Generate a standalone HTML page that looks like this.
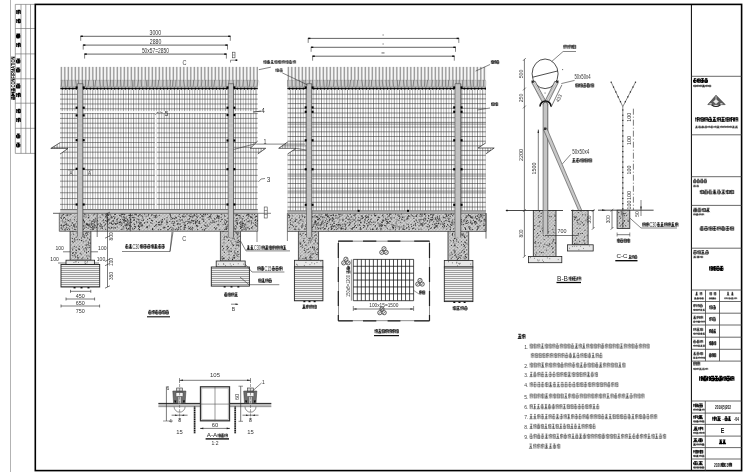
<!DOCTYPE html>
<html><head><meta charset="utf-8"><style>
html,body{margin:0;padding:0;background:#fff;width:750px;height:472px;overflow:hidden}
svg{display:block;will-change:transform}
text{font-family:"Liberation Sans",sans-serif}
</style></head><body>
<svg width="750" height="472" viewBox="0 0 750 472">
<defs>
<pattern id="hatch" patternUnits="userSpaceOnUse" width="2.4" height="2.4" patternTransform="rotate(45)">
 <rect width="2.4" height="2.4" fill="#d2d2d2"/>
 <line x1="0" y1="0" x2="0" y2="2.4" stroke="#767676" stroke-width="0.55"/>
 <line x1="0" y1="0" x2="2.4" y2="0" stroke="#8c8c8c" stroke-width="0.5"/>
</pattern>
<pattern id="gravel" patternUnits="userSpaceOnUse" width="6" height="2">
 <rect width="6" height="2" fill="#f2f2f2"/>
 <rect x="0" y="0" width="6" height="0.8" fill="#8a8a8a"/>
</pattern>

<pattern id="armhatch" patternUnits="userSpaceOnUse" width="1.6" height="1.6" patternTransform="rotate(-30)">
 <rect width="1.6" height="1.6" fill="#ddd"/>
 <line x1="0" y1="0" x2="0" y2="1.6" stroke="#666" stroke-width="0.5"/>
</pattern>
</defs>
<rect width="750" height="472" fill="#fff"/>
<line x1="10.5" y1="0" x2="10.5" y2="472" stroke="#aaa" stroke-width="0.9"/>
<line x1="15.3" y1="4.4" x2="15.3" y2="153.4" stroke="#666" stroke-width="0.6"/>
<line x1="21" y1="4.4" x2="21" y2="153.4" stroke="#666" stroke-width="0.6"/>
<line x1="25.8" y1="4.4" x2="25.8" y2="153.4" stroke="#666" stroke-width="0.6"/>
<line x1="30.5" y1="4.4" x2="30.5" y2="153.4" stroke="#666" stroke-width="0.6"/>
<line x1="15.3" y1="4.4" x2="35.3" y2="4.4" stroke="#666" stroke-width="0.6"/>
<line x1="15.3" y1="28.5" x2="35.3" y2="28.5" stroke="#666" stroke-width="0.6"/>
<line x1="15.3" y1="53.9" x2="35.3" y2="53.9" stroke="#666" stroke-width="0.6"/>
<line x1="15.3" y1="78.8" x2="35.3" y2="78.8" stroke="#666" stroke-width="0.6"/>
<line x1="15.3" y1="103.2" x2="35.3" y2="103.2" stroke="#666" stroke-width="0.6"/>
<line x1="15.3" y1="128.3" x2="35.3" y2="128.3" stroke="#666" stroke-width="0.6"/>
<line x1="15.3" y1="153.4" x2="35.3" y2="153.4" stroke="#666" stroke-width="0.6"/>
<path d="M16.8 9.94V14.06M16.2 11.31H17.49M18.27 9.71V14.29M20.2 10.17V14.06M17.69 10.4H20.2M17.69 12H20.2" stroke="#000" stroke-width="1.17" fill="none" opacity="1.0"/>
<path d="M16.8 18.94V23.06M16.2 20.31H17.72M18.5 18.71V23.29M20.2 19.17V23.06M17.92 19.4H20.2M17.92 21H20.2M17.92 22.6H20.2" stroke="#000" stroke-width="1.17" fill="none" opacity="1.0"/>
<path d="M16.37 34.08H20.13M16.53 35.36H20.01M16.64 36.64H20.15M16.65 37.92H19.44M18.3 33.71V38.29M16.6 35.08V37.83M19.8 35.08V37.83" stroke="#000" stroke-width="1.17" fill="none" opacity="1.0"/>
<path d="M16.8 42.94V47.06M16.2 44.31H17.75M18.53 42.71V47.29M20.2 43.17V47.06M17.95 43.4H20.2M17.95 45H20.2" stroke="#000" stroke-width="1.17" fill="none" opacity="1.0"/>
<path d="M16.65 59.08H20.09M16.54 61H19.77M16.66 62.92H19.75M18.35 58.71V63.29M16.6 60.08V62.83M19.8 60.08V62.83" stroke="#000" stroke-width="1.17" fill="none" opacity="1.0"/>
<path d="M16.5 68.08H19.76M16.25 70H20.15M16.36 71.92H19.66M18.14 67.71V72.29M16.6 69.08V71.83M19.8 69.08V71.83" stroke="#000" stroke-width="1.17" fill="none" opacity="1.0"/>
<path d="M16.49 84.08H20M16.34 86H19.58M16.27 87.92H19.96M18.2 83.71V88.29M16.6 85.08V87.83M19.8 85.08V87.83" stroke="#000" stroke-width="1.17" fill="none" opacity="1.0"/>
<path d="M16.8 92.94V97.06M16.2 94.31H17.77M18.55 92.71V97.29M20.2 93.17V97.06M17.97 93.4H20.2M17.97 95H20.2" stroke="#000" stroke-width="1.17" fill="none" opacity="1.0"/>
<path d="M16.8 108.94V113.06M16.2 110.31H17.65M18.43 108.71V113.29M20.2 109.17V113.06M17.85 109.4H20.2M17.85 111H20.2M17.85 112.6H20.2" stroke="#000" stroke-width="1.17" fill="none" opacity="1.0"/>
<path d="M16.8 117.94V122.06M16.2 119.31H17.69M18.48 117.71V122.29M20.2 118.17V122.06M17.89 118.4H20.2M17.89 120H20.2" stroke="#000" stroke-width="1.17" fill="none" opacity="1.0"/>
<path d="M16.81 134.08H19.74M16.9 136H19.95M16.76 137.92H19.72M18.26 133.71V138.29M16.6 135.08V137.83M19.8 135.08V137.83" stroke="#000" stroke-width="1.17" fill="none" opacity="1.0"/>
<path d="M16.58 143.08H19.67M16.25 145H19.64M16.72 146.92H19.41M18.46 142.71V147.29M16.6 144.08V146.83M19.8 144.08V146.83" stroke="#000" stroke-width="1.17" fill="none" opacity="1.0"/>
<path d="M11.74 88.42V91.58M11.2 89.47H12.62M13.27 88.24V91.76M14.8 88.59V91.58M12.82 88.77H14.8M12.82 90H14.8M11.32 92.52H14.72M11.24 94H14.25M11.29 95.48H14.62M12.92 92.24V95.76M13 94L11.2 95.76M13 94L14.8 95.76M11.74 96.42V99.58M11.2 97.47H12.5M13.15 96.24V99.76M14.8 96.59V99.58M12.7 96.77H14.8M12.7 98H14.8M12.7 99.23H14.8" stroke="#000" stroke-width="0.9" fill="none" opacity="1.0"/>
<text x="14.8" y="72" font-size="5" text-anchor="middle" fill="#000" font-weight="bold" textLength="31" lengthAdjust="spacingAndGlyphs" transform="rotate(-90 14.8 72)" opacity="0.999">CONFIRMATION</text>
<rect x="35.3" y="4.4" width="706.3" height="466.2" fill="none" stroke="#000" stroke-width="1.6"/>
<line x1="691.4" y1="4.4" x2="691.4" y2="470.6" stroke="#000" stroke-width="1"/>
<line x1="691.4" y1="76.3" x2="741.6" y2="76.3" stroke="#444" stroke-width="0.8"/>
<line x1="691.4" y1="134.8" x2="741.6" y2="134.8" stroke="#444" stroke-width="0.8"/>
<line x1="691.4" y1="176.7" x2="741.6" y2="176.7" stroke="#444" stroke-width="0.8"/>
<line x1="691.4" y1="205.4" x2="741.6" y2="205.4" stroke="#444" stroke-width="0.8"/>
<line x1="691.4" y1="248.2" x2="741.6" y2="248.2" stroke="#444" stroke-width="0.8"/>
<line x1="691.4" y1="290" x2="741.6" y2="290" stroke="#444" stroke-width="0.8"/>
<line x1="691.4" y1="301.5" x2="741.6" y2="301.5" stroke="#444" stroke-width="0.8"/>
<line x1="691.4" y1="313.2" x2="741.6" y2="313.2" stroke="#444" stroke-width="0.8"/>
<line x1="691.4" y1="325" x2="741.6" y2="325" stroke="#444" stroke-width="0.8"/>
<line x1="691.4" y1="337.2" x2="741.6" y2="337.2" stroke="#444" stroke-width="0.8"/>
<line x1="691.4" y1="349.3" x2="741.6" y2="349.3" stroke="#444" stroke-width="0.8"/>
<line x1="691.4" y1="361.1" x2="741.6" y2="361.1" stroke="#444" stroke-width="0.8"/>
<line x1="691.4" y1="401" x2="741.6" y2="401" stroke="#444" stroke-width="0.8"/>
<line x1="691.4" y1="413.1" x2="741.6" y2="413.1" stroke="#444" stroke-width="0.8"/>
<line x1="691.4" y1="424.4" x2="741.6" y2="424.4" stroke="#444" stroke-width="0.8"/>
<line x1="691.4" y1="436.1" x2="741.6" y2="436.1" stroke="#444" stroke-width="0.8"/>
<line x1="691.4" y1="447.6" x2="741.6" y2="447.6" stroke="#444" stroke-width="0.8"/>
<line x1="691.4" y1="459" x2="741.6" y2="459" stroke="#444" stroke-width="0.8"/>
<line x1="705.5" y1="290" x2="705.5" y2="361.1" stroke="#444" stroke-width="0.8"/>
<line x1="719.5" y1="290" x2="719.5" y2="361.1" stroke="#444" stroke-width="0.8"/>
<line x1="705.3" y1="401" x2="705.3" y2="470.6" stroke="#444" stroke-width="0.8"/>
<path d="M693.8 78.75H696.34M693.5 80.6H696.29M693.81 82.45H695.89M694.64 78.4V82.8M693.56 79.72V82.36M696.2 79.72V82.36M697.47 78.62V82.58M696.98 79.94H698.05M698.73 78.4V82.8M700.27 78.84V82.58M698.25 79.06H700.27M698.25 80.6H700.27M698.25 82.14H700.27M700.9 78.75H704.02M701 80.6H703.78M701.1 82.45H703.4M702.5 78.4V82.8M701.06 79.72V82.36M703.7 79.72V82.36M704.96 78.75H707.47M705.05 79.98H707.15M704.92 81.22H707.41M704.74 82.45H707.51M706.11 78.4V82.8M704.81 79.72V82.36M707.45 79.72V82.36" stroke="#000" stroke-width="0.97" fill="none" opacity="1.0"/>
<path d="M693.58 85.01V86.99M693.18 85.67H694.29M694.74 84.9V87.1M695.82 85.12V86.99M694.49 85.23H695.82M694.49 86H695.82M694.49 86.77H695.82M696.58 85.01V86.99M696.18 85.67H697.04M697.49 84.9V87.1M698.82 85.12V86.99M697.24 85.23H698.82M697.24 86H698.82M699.58 85.01V86.99M699.18 85.67H700.13M700.58 84.9V87.1M701.82 85.12V86.99M700.33 85.23H701.82M700.33 86H701.82M702.19 85.08H704.36M702.5 85.69H704.74M702.31 86.31H704.64M702.37 86.92H704.76M703.68 84.9V87.1M703.5 86L702.18 87.1M703.5 86L704.82 87.1M705.58 85.01V86.99M705.18 85.67H706.1M706.55 84.9V87.1M707.82 85.12V86.99M706.3 85.23H707.82M706.3 86H707.82M708.58 85.01V86.99M708.18 85.67H709.2M709.65 84.9V87.1M710.82 85.12V86.99M709.4 85.23H710.82M709.4 86H710.82M709.4 86.77H710.82" stroke="#000" stroke-width="0.5" fill="none" opacity="0.9"/>
<polygon points="716,95.2 725.2,104.6 707.8,104.6" fill="#5a5a5a" stroke="#333" stroke-width="0.6"/>
<polygon points="713.2,101.5 716,99.2 718.8,101.5 716,104" fill="#e8e8e8" stroke="none" stroke-width="0.8"/>
<line x1="716" y1="96.2" x2="716" y2="100" stroke="#ddd" stroke-width="0.8"/>
<path d="M711.5 104.8 Q716 108.2 720.5 104.8" fill="none" stroke="#222" stroke-width="1.2"/>
<rect x="709.5" y="103.2" width="2.2" height="1.2" fill="#ddd" stroke="none" stroke-width="0.8"/>
<rect x="720.3" y="103.2" width="2.2" height="1.2" fill="#ddd" stroke="none" stroke-width="0.8"/>
<path d="M695.8 117.24V121.56M695.22 118.68H696.77M697.4 117V121.8M699.09 117.48V121.56M696.97 117.72H699.09M696.97 119.4H699.09M700.1 117.24V121.56M699.51 118.68H701.22M701.85 117V121.8M703.38 117.48V121.56M701.42 117.72H703.38M701.42 119.4H703.38M701.42 121.08H703.38M704.4 117.24V121.56M703.82 118.68H705.28M705.91 117V121.8M707.69 117.48V121.56M705.48 117.72H707.69M705.48 119.4H707.69M708.87 117.38H711.32M708.65 119.4H711.78M708.4 121.42H711.86M710.26 117V121.8M708.5 118.44V121.32M711.6 118.44V121.32M712.91 117.38H715.81M713.03 119.4H715.7M712.57 121.42H716.1M714.27 117V121.8M714.35 119.4L712.42 121.8M714.35 119.4L716.29 121.8M717.3 117.24V121.56M716.72 118.68H718.16M718.78 117V121.8M720.59 117.48V121.56M718.36 117.72H720.59M718.36 119.4H720.59M721.38 117.38H724.74M721.48 119.4H724.62M721.64 121.42H724.33M722.83 117V121.8M722.95 119.4L721.01 121.8M722.95 119.4L724.88 121.8M725.9 117.24V121.56M725.32 118.68H726.53M727.16 117V121.8M729.19 117.48V121.56M726.73 117.72H729.19M726.73 119.4H729.19M726.73 121.08H729.19M730.2 117.24V121.56M729.62 118.68H730.89M731.52 117V121.8M733.49 117.48V121.56M731.09 117.72H733.49M731.09 119.4H733.49M734.5 117.24V121.56M733.92 118.68H735.45M736.08 117V121.8M737.79 117.48V121.56M735.65 117.72H737.79M735.65 119.4H737.79" stroke="#000" stroke-width="0.86" fill="none" opacity="1.0"/>
<path d="M695.68 126.08H697.46M695.59 127H697.63M695.28 127.92H697.46M696.45 125.9V128.1M696.54 127L695.18 128.1M696.54 127L697.89 128.1M698.51 126.08H700.56M698.3 127H700.87M698.79 127.92H700.94M699.66 125.9V128.1M698.53 126.56V127.88M700.69 126.56V127.88M701.77 126.08H703.5M701.68 126.69H703.84M701.62 127.31H703.96M701.33 127.92H703.51M702.76 125.9V128.1M701.6 126.56V127.88M703.76 126.56V127.88M704.93 126.08H707M704.87 127H707.09M704.51 127.92H706.83M705.89 125.9V128.1M704.67 126.56V127.88M706.83 126.56V127.88M707.88 126.01V127.99M707.47 126.67H708.55M709 125.9V128.1M710.17 126.12V127.99M708.75 126.23H710.17M708.75 127H710.17M711.03 126.08H712.89M710.98 127H712.96M710.99 127.92H712.77M711.69 125.9V128.1M710.81 126.56V127.88M712.97 126.56V127.88M714.02 126.01V127.99M713.61 126.67H714.71M715.16 125.9V128.1M716.32 126.12V127.99M714.91 126.23H716.32M714.91 127H716.32M716.78 126.08H719.13M717.08 127H719.09M716.86 127.92H719.11M718.07 125.9V128.1M718.04 127L716.68 128.1M718.04 127L719.39 128.1M720.16 126.01V127.99M719.76 126.67H720.73M721.18 125.9V128.1M722.46 126.12V127.99M720.93 126.23H722.46M720.93 127H722.46M723.23 126.01V127.99M722.83 126.67H723.59M724.04 125.9V128.1M725.53 126.12V127.99M723.79 126.23H725.53M723.79 127H725.53M726.3 126.01V127.99M725.9 126.67H726.87M727.32 125.9V128.1M728.6 126.12V127.99M727.07 126.23H728.6M727.07 127H728.6M729.38 126.01V127.99M728.97 126.67H729.96M730.41 125.9V128.1M731.67 126.12V127.99M730.16 126.23H731.67M730.16 127H731.67M732.32 126.08H734.31M732.32 127H734.61M732.32 127.92H734.27M733.62 125.9V128.1M733.39 127L732.04 128.1M733.39 127L734.74 128.1M735.57 126.08H737.74M735.18 127H737.58M735.15 127.92H737.69M736.23 125.9V128.1M736.46 127L735.11 128.1M736.46 127L737.82 128.1" stroke="#000" stroke-width="0.5" fill="none" opacity="0.85"/>
<path d="M693.79 179.24H695.89M693.44 181H696.13M693.29 182.76H696M694.9 178.9V183.1M693.52 180.16V182.68M695.98 180.16V182.68M697.32 179.24H699.28M696.81 181H699.52M697.03 182.76H699.58M698.06 178.9V183.1M697.02 180.16V182.68M699.48 180.16V182.68M700.42 179.24H703.01M700.64 181H703.05M700.53 182.76H703.11M702.03 178.9V183.1M700.52 180.16V182.68M702.98 180.16V182.68M704.31 179.24H706.73M703.87 181H706.77M704.19 182.76H706.62M705.02 178.9V183.1M704.02 180.16V182.68M706.48 180.16V182.68" stroke="#000" stroke-width="0.61" fill="none" opacity="1.0"/>
<path d="M693.39 185.16H695.54M693.45 186H695.56M693.35 186.84H695.67M694.66 185V187M693.44 185.6V186.8M695.56 185.6V186.8M696.68 185.16H698.49M696.6 186H698.78M696.63 186.84H698.78M697.69 185V187M696.44 185.6V186.8M698.56 185.6V186.8" stroke="#000" stroke-width="0.5" fill="none" opacity="0.8"/>
<path d="M700.33 190.02V193.98M699.76 191.34H701.2M701.72 189.8V194.2M703.55 190.24V193.98M701.4 190.46H703.55M701.4 192H703.55M701.4 193.54H703.55M704.47 190.15H707.69M704.15 192H707.74M704.11 193.85H707.71M705.83 189.8V194.2M704.45 191.12V193.76M707.49 191.12V193.76M708.72 190.15H711.67M708.59 192H711.57M709.14 193.85H712.15M709.92 189.8V194.2M708.76 191.12V193.76M711.8 191.12V193.76M713.06 190.15H715.78M712.78 191.38H715.87M713.02 192.62H716.12M713.33 193.85H716.19M714.6 189.8V194.2M714.59 192L712.7 194.2M714.59 192L716.49 194.2M717.16 190.15H720.13M717.56 192H720.7M717.76 193.85H720.06M719.16 189.8V194.2M717.39 191.12V193.76M720.42 191.12V193.76M721.65 190.15H725.07M721.83 192H724.83M721.71 193.85H724.38M723.29 189.8V194.2M723.22 192L721.32 194.2M723.22 192L725.12 194.2M726.2 190.02V193.98M725.63 191.34H726.87M727.39 189.8V194.2M729.43 190.24V193.98M727.07 190.46H729.43M727.07 192H729.43M727.07 193.54H729.43M730.52 190.02V193.98M729.95 191.34H731.22M731.74 189.8V194.2M733.74 190.24V193.98M731.42 190.46H733.74M731.42 192H733.74M731.42 193.54H733.74" stroke="#000" stroke-width="0.64" fill="none" opacity="1.0"/>
<path d="M693.5 208.24H696.97M693.92 209.41H696.83M693.39 210.59H696.74M693.32 211.76H696.79M695.24 207.9V212.1M693.63 209.16V211.68M696.62 209.16V211.68M697.7 208.24H701.18M697.8 210H701.21M697.52 211.76H701.02M699.18 207.9V212.1M697.88 209.16V211.68M700.87 209.16V211.68M702.32 208.11V211.89M701.75 209.37H703.29M703.79 207.9V212.1M705.5 208.32V211.89M703.49 208.53H705.5M703.49 210H705.5M703.49 211.47H705.5M706.74 208.24H709.63M706.55 209.41H709.26M706.04 210.59H709.12M706.67 211.76H709.28M708.05 207.9V212.1M707.88 210L706 212.1M707.88 210L709.75 212.1" stroke="#000" stroke-width="0.61" fill="none" opacity="1.0"/>
<path d="M693.53 213.6V215.4M693.16 214.2H694M694.45 213.5V215.5M695.58 213.7V215.4M694.2 213.8H695.58M694.2 214.5H695.58M696.3 213.66H697.99M696.38 214.22H698.02M695.96 214.78H698.31M696.22 215.34H697.87M697.07 213.5V215.5M696.16 214.1V215.3M698.09 214.1V215.3M699.03 213.6V215.4M698.66 214.2H699.32M699.77 213.5V215.5M701.08 213.7V215.4M699.52 213.8H701.08M699.52 214.5H701.08M701.78 213.6V215.4M701.41 214.2H702.06M702.51 213.5V215.5M703.83 213.7V215.4M702.26 213.8H703.83M702.26 214.5H703.83" stroke="#000" stroke-width="0.5" fill="none" opacity="0.8"/>
<path d="M700.44 226.65H703.48M700.16 227.88H702.99M700.12 229.12H702.94M700.4 230.35H703.38M701.85 226.3V230.7M700.14 227.62V230.26M703.17 227.62V230.26M704.45 226.65H707.58M704.43 228.5H707.35M704.65 230.35H707.4M706.08 226.3V230.7M704.45 227.62V230.26M707.49 227.62V230.26M708.95 226.52V230.48M708.38 227.84H709.66M710.17 226.3V230.7M712.18 226.74V230.48M709.86 226.96H712.18M709.86 228.5H712.18M709.86 230.04H712.18M712.71 226.65H716.45M712.9 228.5H715.98M713.22 230.35H715.98M714.44 226.3V230.7M713.08 227.62V230.26M716.11 227.62V230.26M717.58 226.52V230.48M717.01 227.84H718.4M718.92 226.3V230.7M720.8 226.74V230.48M718.6 226.96H720.8M718.6 228.5H720.8M721.47 226.65H724.37M722.03 227.88H725.1M721.67 229.12H724.49M722.06 230.35H724.78M723.04 226.3V230.7M721.7 227.62V230.26M724.74 227.62V230.26M725.69 226.65H729.36M726.2 228.5H729.23M725.91 230.35H728.97M727.63 226.3V230.7M726.01 227.62V230.26M729.05 227.62V230.26M730.52 226.52V230.48M729.95 227.84H731.28M731.8 226.3V230.7M733.74 226.74V230.48M731.48 226.96H733.74M731.48 228.5H733.74M731.48 230.04H733.74" stroke="#000" stroke-width="0.64" fill="none" opacity="1.0"/>
<path d="M693.52 250.54H696.65M693.91 252.3H696.28M693.53 254.06H696.25M694.94 250.2V254.4M693.59 251.46V253.98M696.41 251.46V253.98M697.77 250.41V254.19M697.24 251.67H698.45M698.95 250.2V254.4M700.76 250.62V254.19M698.65 250.83H700.76M698.65 252.3H700.76M698.65 253.77H700.76M701.32 250.54H704.11M701.74 252.3H704.13M701.44 254.06H704.5M702.92 250.2V254.4M703 252.3L701.24 254.4M703 252.3L704.76 254.4M705.89 250.54H708.23M705.84 252.3H708.56M705.28 254.06H708.29M707.1 250.2V254.4M705.59 251.46V253.98M708.41 251.46V253.98" stroke="#000" stroke-width="0.61" fill="none" opacity="1.0"/>
<path d="M693.5 256.16H696.02M693.42 257H695.57M693.72 257.84H695.66M694.74 256V258M694.67 257L693.2 258M694.67 257L696.13 258M696.65 256.16H699.42M697.08 256.72H699.23M696.89 257.28H699.39M697.04 257.84H699.18M698.24 256V258M696.83 256.6V257.8M699.17 256.6V257.8M700.31 256.1V257.9M699.87 256.7H700.88M701.33 256V258M702.8 256.2V257.9M701.08 256.3H702.8M701.08 257H702.8M701.08 257.7H702.8" stroke="#000" stroke-width="0.5" fill="none" opacity="0.8"/>
<path d="M709.7 266.24V270.56M709.22 267.68H710.49M711.18 266V270.8M712.41 266.48V270.56M710.69 266.72H712.41M710.69 268.4H712.41M710.69 270.08H712.41M713.32 266.24V270.56M712.84 267.68H713.87M714.56 266V270.8M716.03 266.48V270.56M714.07 266.72H716.03M714.07 268.4H716.03M714.07 270.08H716.03M716.54 266.38H719.25M716.52 268.4H719.34M716.99 270.42H719.31M718.03 266V270.8M716.79 267.44V270.32M719.34 267.44V270.32M720.18 266.38H723.16M720.15 268.4H723.06M720.15 270.42H723.13M721.53 266V270.8M720.41 267.44V270.32M722.96 267.44V270.32" stroke="#000" stroke-width="0.98" fill="none" opacity="1.0"/>
<path d="M695.93 292.27H697.52M695.88 293.22H697.6M695.68 294.18H697.37M695.77 295.13H697.44M696.57 292V295.4M696.62 293.7L695.56 295.4M696.62 293.7L697.69 295.4M700.13 292.17V295.23M699.81 293.19H700.61M701.06 292V295.4M701.94 292.34V295.23M700.81 292.51H701.94M700.81 293.7H701.94" stroke="#000" stroke-width="0.5" fill="none" opacity="1.0"/>
<path d="M709.88 292.17V295.23M709.56 293.19H710.39M710.84 292V295.4M711.69 292.34V295.23M710.59 292.51H711.69M710.59 293.7H711.69M710.59 294.89H711.69M714.13 292.17V295.23M713.81 293.19H714.5M714.95 292V295.4M715.94 292.34V295.23M714.7 292.51H715.94M714.7 293.7H715.94M714.7 294.89H715.94" stroke="#000" stroke-width="0.5" fill="none" opacity="1.0"/>
<path d="M727.12 292.27H729.01M727.39 293.7H728.85M727.47 295.13H728.98M727.94 292V295.4M728.12 293.7L727.06 295.4M728.12 293.7L729.19 295.4M731.68 292.27H733.02M731.42 293.22H733.39M731.38 294.18H733.22M731.6 295.13H733.04M732.47 292V295.4M732.38 293.7L731.31 295.4M732.38 293.7L733.44 295.4" stroke="#000" stroke-width="0.5" fill="none" opacity="1.0"/>
<path d="M694.19 297.64H696.01M694.15 298.4H696.29M694.4 299.16H696.33M695.34 297.5V299.3M695.25 298.4L694.15 299.3M695.25 298.4L696.35 299.3M696.93 297.64H698.54M696.7 298.15H698.82M696.88 298.65H698.59M696.82 299.16H698.75M697.79 297.5V299.3M696.87 298.04V299.12M698.63 298.04V299.12M699.48 297.59V299.21M699.15 298.13H699.87M700.32 297.5V299.3M701.35 297.68V299.21M700.07 297.77H701.35M700.07 298.4H701.35M700.07 299.03H701.35M701.86 297.64H703.75M701.76 298.4H703.43M701.96 299.16H703.71M702.54 297.5V299.3M701.87 298.04V299.12M703.63 298.04V299.12" stroke="#000" stroke-width="0.5" fill="none" opacity="0.8"/>
<path d="M709.13 297.64H710.57M709.24 298.4H710.53M709.26 299.16H710.43M709.94 297.5V299.3M709.26 298.04V299.12M710.49 298.04V299.12M711.09 297.59V299.21M710.86 298.13H711.2M711.65 297.5V299.3M712.39 297.68V299.21M711.4 297.77H712.39M711.4 298.4H712.39M711.4 299.03H712.39M712.63 297.64H713.99M712.67 298.15H713.91M712.66 298.65H714M712.69 299.16H713.87M713.25 297.5V299.3M713.38 298.4L712.61 299.3M713.38 298.4L714.14 299.3M714.5 297.64H715.61M714.37 298.4H715.71M714.64 299.16H715.88M714.98 297.5V299.3M714.51 298.04V299.12M715.74 298.04V299.12" stroke="#000" stroke-width="0.5" fill="none" opacity="0.8"/>
<path d="M724.62 297.59V299.21M724.2 298.13H725.3M725.75 297.5V299.3M727.06 297.68V299.21M725.5 297.77H727.06M725.5 298.4H727.06M727.87 297.59V299.21M727.45 298.13H728.63M729.08 297.5V299.3M730.31 297.68V299.21M728.83 297.77H730.31M728.83 298.4H730.31M728.83 299.03H730.31M731.23 297.64H733.37M730.8 298.4H733.02M731.12 299.16H733.54M732.22 297.5V299.3M730.98 298.04V299.12M733.27 298.04V299.12M734.37 297.59V299.21M733.95 298.13H734.89M735.34 297.5V299.3M736.81 297.68V299.21M735.09 297.77H736.81M735.09 298.4H736.81" stroke="#000" stroke-width="0.5" fill="none" opacity="0.8"/>
<path d="M693.64 304.26V307.14M693.2 305.22H694.06M694.51 304.1V307.3M696.13 304.42V307.14M694.26 304.58H696.13M694.26 305.7H696.13M696.97 304.26V307.14M696.53 305.22H697.78M698.23 304.1V307.3M699.47 304.42V307.14M697.98 304.58H699.47M697.98 305.7H699.47M700.09 304.36H702.35M700.05 305.7H702.33M699.92 307.04H702.39M701.15 304.1V307.3M700.16 305.06V306.98M702.51 305.06V306.98" stroke="#000" stroke-width="0.5" fill="none" opacity="1.0"/>
<path d="M693.46 309.09V310.71M693.14 309.63H693.79M694.24 309V310.8M695.26 309.18V310.71M693.99 309.27H695.26M693.99 309.9H695.26M693.99 310.53H695.26M695.86 309.09V310.71M695.54 309.63H696.21M696.66 309V310.8M697.66 309.18V310.71M696.41 309.27H697.66M696.41 309.9H697.66M696.41 310.53H697.66M698.26 309.09V310.71M697.94 309.63H698.49M698.94 309V310.8M700.06 309.18V310.71M698.69 309.27H700.06M698.69 309.9H700.06M700.45 309.14H702.14M700.72 309.9H702.31M700.46 310.66H702.05M701.45 309V310.8M700.56 309.54V310.62M702.24 309.54V310.62M703.13 309.14H704.73M703.05 309.9H704.6M703.08 310.66H704.46M703.62 309V310.8M703.8 309.9L702.74 310.8M703.8 309.9L704.86 310.8" stroke="#000" stroke-width="0.5" fill="none" opacity="0.8"/>
<path d="M709.67 305.41V309.19M709.21 306.67H710.42M710.92 305.2V309.4M712.29 305.62V309.19M710.62 305.83H712.29M710.62 307.3H712.29M710.62 308.77H712.29M713.2 305.54H715.23M713.21 307.3H715.71M713.02 309.06H715.78M714.52 305.2V309.4M713.02 306.46V308.98M715.48 306.46V308.98" stroke="#000" stroke-width="0.61" fill="none" opacity="1.0"/>
<path d="M693.56 316.16H695.94M693.39 317.5H695.92M693.66 318.84H696.09M694.49 315.9V319.1M694.67 317.5L693.2 319.1M694.67 317.5L696.13 319.1M696.97 316.06V318.94M696.53 317.02H697.39M697.84 315.9V319.1M699.47 316.22V318.94M697.59 316.38H699.47M697.59 317.5H699.47M700.31 316.06V318.94M699.87 317.02H700.93M701.38 315.9V319.1M702.8 316.22V318.94M701.13 316.38H702.8M701.13 317.5H702.8" stroke="#000" stroke-width="0.5" fill="none" opacity="1.0"/>
<path d="M693.56 320.94H695.14M693.18 321.7H695.22M693.35 322.46H694.96M694.18 320.8V322.6M693.36 321.34V322.42M695.04 321.34V322.42M695.86 320.89V322.51M695.54 321.43H696.28M696.73 320.8V322.6M697.66 320.98V322.51M696.48 321.07H697.66M696.48 321.7H697.66M698.26 320.94H699.73M698.07 321.45H699.94M698.06 321.95H699.95M698.05 322.46H699.87M698.87 320.8V322.6M698.16 321.34V322.42M699.84 321.34V322.42M700.66 320.89V322.51M700.34 321.43H701.17M701.62 320.8V322.6M702.46 320.98V322.51M701.37 321.07H702.46M701.37 321.7H702.46M703.06 320.89V322.51M702.74 321.43H703.41M703.86 320.8V322.6M704.86 320.98V322.51M703.61 321.07H704.86M703.61 321.7H704.86" stroke="#000" stroke-width="0.5" fill="none" opacity="0.8"/>
<path d="M709.67 317.21V320.99M709.21 318.47H710.19M710.7 317V321.2M712.29 317.42V320.99M710.39 317.63H712.29M710.39 319.1H712.29M712.77 317.34H715.5M713.21 319.1H715.27M713.27 320.86H715.77M714.12 317V321.2M713.02 318.26V320.78M715.48 318.26V320.78" stroke="#000" stroke-width="0.61" fill="none" opacity="1.0"/>
<path d="M693.64 328.06V330.94M693.2 329.02H694.45M694.9 327.9V331.1M696.13 328.22V330.94M694.65 328.38H696.13M694.65 329.5H696.13M696.83 328.16H699.36M696.89 329.5H699.01M696.92 330.84H699.46M698.08 327.9V331.1M698 329.5L696.53 331.1M698 329.5L699.47 331.1M700.31 328.06V330.94M699.87 329.02H700.71M701.16 327.9V331.1M702.8 328.22V330.94M700.91 328.38H702.8M700.91 329.5H702.8M700.91 330.62H702.8" stroke="#000" stroke-width="0.5" fill="none" opacity="1.0"/>
<path d="M693.46 332.89V334.51M693.14 333.43H693.75M694.2 332.8V334.6M695.26 332.98V334.51M693.95 333.07H695.26M693.95 333.7H695.26M693.95 334.33H695.26M695.86 332.89V334.51M695.54 333.43H696.32M696.77 332.8V334.6M697.66 332.98V334.51M696.52 333.07H697.66M696.52 333.7H697.66M698.12 332.94H699.9M698.21 333.7H700.02M697.96 334.46H699.85M698.99 332.8V334.6M698.16 333.34V334.42M699.84 333.34V334.42M700.58 332.94H702.19M700.38 333.45H702.39M700.64 333.95H702.28M700.46 334.46H702.33M701.59 332.8V334.6M700.56 333.34V334.42M702.24 333.34V334.42M702.92 332.94H704.85M703.07 333.7H704.52M703.02 334.46H704.69M703.76 332.8V334.6M703.8 333.7L702.74 334.6M703.8 333.7L704.86 334.6" stroke="#000" stroke-width="0.5" fill="none" opacity="0.8"/>
<path d="M709.45 329.21V332.99M709.14 330.47H709.71M710.21 329V333.2M711.19 329.42V332.99M709.91 329.63H711.19M709.91 331.1H711.19M711.71 329.34H713.38M711.79 331.1H713.47M711.49 332.86H713.47M712.63 329V333.2M711.68 330.26V332.78M713.32 330.26V332.78M714.11 329.34H715.79M713.95 331.1H715.79M713.88 332.86H715.83M714.79 329V333.2M714.83 331.1L713.81 333.2M714.83 331.1L715.86 333.2" stroke="#000" stroke-width="0.61" fill="none" opacity="1.0"/>
<path d="M693.38 340.26H695.64M693.23 341.6H695.6M693.38 342.94H695.78M694.75 340V343.2M693.49 340.96V342.88M695.84 340.96V342.88M697.02 340.26H699.37M696.99 341.15H699.34M696.77 342.05H698.97M697.02 342.94H699.36M697.83 340V343.2M696.83 340.96V342.88M699.17 340.96V342.88M700.31 340.16V343.04M699.87 341.12H700.86M701.31 340V343.2M702.8 340.32V343.04M701.06 340.48H702.8M701.06 341.6H702.8" stroke="#000" stroke-width="0.5" fill="none" opacity="1.0"/>
<path d="M693.46 344.99V346.61M693.14 345.53H693.99M694.44 344.9V346.7M695.26 345.08V346.61M694.19 345.17H695.26M694.19 345.8H695.26M695.86 344.99V346.61M695.54 345.53H696.26M696.71 344.9V346.7M697.66 345.08V346.61M696.46 345.17H697.66M696.46 345.8H697.66M697.99 345.04H699.8M698.18 345.8H699.79M698.07 346.56H699.88M699.03 344.9V346.7M698.16 345.44V346.52M699.84 345.44V346.52M700.56 345.04H702.38M700.35 345.8H702.04M700.54 346.56H702.27M701.45 344.9V346.7M701.4 345.8L700.34 346.7M701.4 345.8L702.46 346.7M702.91 345.04H704.83M702.9 345.8H704.7M703.08 346.56H704.64M703.87 344.9V346.7M702.96 345.44V346.52M704.64 345.44V346.52" stroke="#000" stroke-width="0.5" fill="none" opacity="0.8"/>
<path d="M709.45 341.31V345.09M709.14 342.57H709.94M710.45 341.1V345.3M711.19 341.52V345.09M710.14 341.73H711.19M710.14 343.2H711.19M710.14 344.67H711.19M711.51 341.44H713.22M711.84 342.61H713.26M711.8 343.79H713.52M711.5 344.96H713.27M712.58 341.1V345.3M711.68 342.36V344.88M713.32 342.36V344.88M714.11 341.31V345.09M713.81 342.57H714.6M715.1 341.1V345.3M715.86 341.52V345.09M714.8 341.73H715.86M714.8 343.2H715.86M714.8 344.67H715.86" stroke="#000" stroke-width="0.61" fill="none" opacity="1.0"/>
<path d="M693.6 352.26H695.71M693.33 353.6H695.64M693.56 354.94H695.99M694.56 352V355.2M694.67 353.6L693.2 355.2M694.67 353.6L696.13 355.2M696.62 352.26H699.17M697.07 353.6H699.34M696.69 354.94H699.17M697.89 352V355.2M696.83 352.96V354.88M699.17 352.96V354.88M700.31 352.16V355.04M699.87 353.12H700.76M701.21 352V355.2M702.8 352.32V355.04M700.96 352.48H702.8M700.96 353.6H702.8M700.96 354.72H702.8" stroke="#000" stroke-width="0.5" fill="none" opacity="1.0"/>
<path d="M693.22 357.04H694.92M693.19 357.8H695.03M693.41 358.56H695.1M694.36 356.9V358.7M693.36 357.44V358.52M695.04 357.44V358.52M695.65 357.04H697.43M695.91 357.8H697.34M695.7 358.56H697.5M696.54 356.9V358.7M695.76 357.44V358.52M697.44 357.44V358.52M698.26 356.99V358.61M697.94 357.53H698.51M698.96 356.9V358.7M700.06 357.08V358.61M698.71 357.17H700.06M698.71 357.8H700.06M700.66 356.99V358.61M700.34 357.53H701.12M701.57 356.9V358.7M702.46 357.08V358.61M701.32 357.17H702.46M701.32 357.8H702.46M703.06 356.99V358.61M702.74 357.53H703.45M703.9 356.9V358.7M704.86 357.08V358.61M703.65 357.17H704.86M703.65 357.8H704.86M703.65 358.43H704.86" stroke="#000" stroke-width="0.5" fill="none" opacity="0.8"/>
<path d="M709.52 353.44H710.83M709.44 354.61H710.89M709.23 355.79H711.07M709.4 356.96H711.02M710.11 353.1V357.3M709.35 354.36V356.88M710.99 354.36V356.88M711.78 353.31V357.09M711.47 354.57H712.18M712.68 353.1V357.3M713.53 353.52V357.09M712.38 353.73H713.53M712.38 355.2H713.53M714.11 353.31V357.09M713.81 354.57H714.33M714.83 353.1V357.3M715.86 353.52V357.09M714.53 353.73H715.86M714.53 355.2H715.86M714.53 356.67H715.86" stroke="#000" stroke-width="0.61" fill="none" opacity="1.0"/>
<path d="M693.67 361.81V365.59M693.21 363.07H694.33M694.83 361.6V365.8M696.29 362.02V365.59M694.53 362.23H696.29M694.53 363.7H696.29M697.17 361.81V365.59M696.71 363.07H697.73M698.23 361.6V365.8M699.79 362.02V365.59M697.93 362.23H699.79M697.93 363.7H699.79" stroke="#000" stroke-width="0.61" fill="none" opacity="1.0"/>
<path d="M693.58 368.1V369.9M693.18 368.7H694.15M694.6 368V370M695.82 368.2V369.9M694.35 368.3H695.82M694.35 369H695.82M694.35 369.7H695.82M696.58 368.1V369.9M696.18 368.7H696.91M697.36 368V370M698.82 368.2V369.9M697.11 368.3H698.82M697.11 369H698.82M699.23 368.16H701.48M699.64 369H701.41M699.39 369.84H701.68M700.24 368V370M700.5 369L699.18 370M700.5 369L701.82 370M702.49 368.16H704.51M702.5 369H704.55M702.44 369.84H704.73M703.24 368V370M702.44 368.6V369.8M704.56 368.6V369.8M705.58 368.1V369.9M705.18 368.7H705.98M706.43 368V370M707.82 368.2V369.9M706.18 368.3H707.82M706.18 369H707.82" stroke="#000" stroke-width="0.5" fill="none" opacity="0.8"/>
<path d="M699.66 376.25V380.75M699.12 377.75H700.62M701.38 376V381M702.77 376.5V380.75M700.82 376.75H702.77M700.82 378.5H702.77M703.69 376.4H706.56M703.15 377.8H706.22M703.38 379.2H706.19M703.6 380.6H706.53M704.69 376V381M703.37 377.5V380.5M706.3 377.5V380.5M707.44 376.25V380.75M706.89 377.75H708.46M709.21 376V381M710.55 376.5V380.75M708.66 376.75H710.55M708.66 378.5H710.55M708.66 380.25H710.55M711.06 376.4H714.12M711.45 378.5H714.38M711.26 380.6H714.31M712.97 376V381M711.15 377.5V380.5M714.07 377.5V380.5M714.92 376.4H717.78M715.18 378.5H717.71M715.19 380.6H718.13M716.54 376V381M715.04 377.5V380.5M717.96 377.5V380.5M719.27 376.4H722M719.24 377.8H721.56M718.62 379.2H721.85M718.69 380.6H721.56M720.64 376V381M718.93 377.5V380.5M721.85 377.5V380.5M723 376.25V380.75M722.45 377.75H724.03M724.78 376V381M726.11 376.5V380.75M724.23 376.75H726.11M724.23 378.5H726.11M726.78 376.4H729.72M726.96 378.5H729.32M727.06 380.6H729.38M728.19 376V381M726.7 377.5V380.5M729.63 377.5V380.5M730.78 376.25V380.75M730.23 377.75H731.31M732.06 376V381M733.88 376.5V380.75M731.51 376.75H733.88M731.51 378.5H733.88" stroke="#000" stroke-width="1.11" fill="none" opacity="1.0"/>
<path d="M693.89 403.83V407.07M693.2 404.91H695.11M695.74 403.65V407.25M697.8 404.01V407.07M695.31 404.19H697.8M695.31 405.45H697.8M695.31 406.71H697.8M698.77 403.94H702.73M699.04 405.45H702.67M698.22 406.96H702.7M700.89 403.65V407.25M698.66 404.73V406.89M702.34 404.73V406.89" stroke="#000" stroke-width="0.86" fill="none" opacity="1.0"/>
<path d="M693.55 408.9V410.61M693.17 409.47H693.87M694.32 408.8V410.7M695.7 408.99V410.61M694.07 409.09H695.7M694.07 409.75H695.7M696.43 408.9V410.61M696.05 409.47H696.98M697.43 408.8V410.7M698.58 408.99V410.61M697.18 409.09H698.58M697.18 409.75H698.58M698.95 408.95H701.02M699.31 409.48H701.35M699.41 410.02H701.18M699.26 410.55H701.01M700.32 408.8V410.7M700.19 409.75L698.92 410.7M700.19 409.75L701.45 410.7M702.18 408.9V410.61M701.8 409.47H702.58M703.03 408.8V410.7M704.33 408.99V410.61M702.78 409.09H704.33M702.78 409.75H704.33" stroke="#000" stroke-width="0.5" fill="none" opacity="0.9"/>
<path d="M693.89 415.53V418.77M693.2 416.61H694.63M695.26 415.35V418.95M697.8 415.71V418.77M694.83 415.89H697.8M694.83 417.15H697.8M698.78 415.64H702.36M698.32 416.65H702.07M698.79 417.65H702.53M698.51 418.66H702.56M700.36 415.35V418.95M700.5 417.15L698.2 418.95M700.5 417.15L702.8 418.95" stroke="#000" stroke-width="0.86" fill="none" opacity="1.0"/>
<path d="M693.55 420.6V422.31M693.17 421.17H694.15M694.6 420.5V422.4M695.7 420.69V422.31M694.35 420.79H695.7M694.35 421.45H695.7M694.35 422.12H695.7M696.3 420.65H698.15M696.36 421.18H698.56M696.26 421.72H698.36M696.44 422.25H698.4M697.42 420.5V422.4M696.3 421.07V422.21M698.32 421.07V422.21M699.3 420.6V422.31M698.92 421.17H699.94M700.39 420.5V422.4M701.45 420.69V422.31M700.14 420.79H701.45M700.14 421.45H701.45M701.88 420.65H704.33M701.9 421.45H703.94M702.29 422.25H704.33M703.06 420.5V422.4M702.05 421.07V422.21M704.07 421.07V422.21" stroke="#000" stroke-width="0.5" fill="none" opacity="0.9"/>
<path d="M694.09 427.14H697.25M694.08 428.65H697.33M693.73 430.16H697.65M695.79 426.85V430.45M695.5 428.65L693.2 430.45M695.5 428.65L697.8 430.45M698.89 427.03V430.27M698.2 428.11H699.72M700.35 426.85V430.45M702.8 427.21V430.27M699.92 427.39H702.8M699.92 428.65H702.8" stroke="#000" stroke-width="0.86" fill="none" opacity="1.0"/>
<path d="M693.55 432.1V433.81M693.17 432.67H694.23M694.68 432V433.9M695.7 432.19V433.81M694.43 432.29H695.7M694.43 432.95H695.7M696.1 432.15H698.11M696.5 432.95H698.2M696.26 433.75H698.25M697.25 432V433.9M696.3 432.57V433.71M698.32 432.57V433.71M699.3 432.1V433.81M698.92 432.67H699.81M700.26 432V433.9M701.45 432.19V433.81M700.01 432.29H701.45M700.01 432.95H701.45M702.18 432.1V433.81M701.8 432.67H702.82M703.27 432V433.9M704.33 432.19V433.81M703.02 432.29H704.33M703.02 432.95H704.33" stroke="#000" stroke-width="0.5" fill="none" opacity="0.9"/>
<path d="M693.69 438.74H697.11M693.89 440.25H697.21M693.52 441.76H697.5M695.18 438.45V442.05M695.5 440.25L693.2 442.05M695.5 440.25L697.8 442.05M698.5 438.74H702.37M698.83 439.75H702.56M698.41 440.75H702.49M698.79 441.76H702.16M700.51 438.45V442.05M698.66 439.53V441.69M702.34 439.53V441.69" stroke="#000" stroke-width="0.86" fill="none" opacity="1.0"/>
<path d="M693.25 443.75H695.62M693.3 444.28H695.54M693.44 444.82H695.62M693.34 445.35H695.61M694.68 443.6V445.5M694.44 444.55L693.17 445.5M694.44 444.55L695.7 445.5M696.43 443.7V445.41M696.05 444.27H697.1M697.55 443.6V445.5M698.58 443.79V445.41M697.3 443.89H698.58M697.3 444.55H698.58M699.3 443.7V445.41M698.92 444.27H699.67M700.12 443.6V445.5M701.45 443.79V445.41M699.87 443.89H701.45M699.87 444.55H701.45M701.95 443.75H704.19M701.85 444.28H703.87M701.94 444.82H703.88M702.03 445.35H704.32M703.24 443.6V445.5M702.05 444.17V445.31M704.07 444.17V445.31" stroke="#000" stroke-width="0.5" fill="none" opacity="0.9"/>
<path d="M693.89 450.08V453.32M693.2 451.16H695.29M695.92 449.9V453.5M697.8 450.26V453.32M695.49 450.44H697.8M695.49 451.7H697.8M695.49 452.96H697.8M698.89 450.08V453.32M698.2 451.16H699.71M700.34 449.9V453.5M702.8 450.26V453.32M699.91 450.44H702.8M699.91 451.7H702.8M699.91 452.96H702.8" stroke="#000" stroke-width="0.86" fill="none" opacity="1.0"/>
<path d="M693.55 455.15V456.86M693.17 455.72H693.95M694.4 455.05V456.95M695.7 455.24V456.86M694.15 455.34H695.7M694.15 456H695.7M694.15 456.67H695.7M696.43 455.2H698.36M696.16 455.73H698.21M696.49 456.27H698.19M696.4 456.8H698.15M697.4 455.05V456.95M697.31 456L696.05 456.95M697.31 456L698.58 456.95M699.3 455.15V456.86M698.92 455.72H699.73M700.18 455.05V456.95M701.45 455.24V456.86M699.93 455.34H701.45M699.93 456H701.45M702.19 455.2H703.97M702.12 456H704.2M702.01 456.8H704.1M703.12 455.05V456.95M702.05 455.62V456.76M704.07 455.62V456.76" stroke="#000" stroke-width="0.5" fill="none" opacity="0.9"/>
<path d="M694.02 461.69H697.5M693.21 463.2H697.03M694.04 464.71H697.7M695.27 461.4V465M693.66 462.48V464.64M697.34 462.48V464.64M698.68 461.69H702.71M698.73 463.2H702.3M698.86 464.71H702.33M700.63 461.4V465M700.5 463.2L698.2 465M700.5 463.2L702.8 465" stroke="#000" stroke-width="0.86" fill="none" opacity="1.0"/>
<path d="M693.55 466.65V468.36M693.17 467.22H694.01M694.46 466.55V468.45M695.7 466.74V468.36M694.21 466.84H695.7M694.21 467.5H695.7M694.21 468.17H695.7M696.43 466.65V468.36M696.05 467.22H696.99M697.44 466.55V468.45M698.58 466.74V468.36M697.19 466.84H698.58M697.19 467.5H698.58M697.19 468.17H698.58M699.3 466.65V468.36M698.92 467.22H699.96M700.41 466.55V468.45M701.45 466.74V468.36M700.16 466.84H701.45M700.16 467.5H701.45M700.16 468.17H701.45M701.94 466.7H704.13M701.8 467.5H704.12M702.01 468.3H703.97M702.99 466.55V468.45M702.05 467.12V468.26M704.07 467.12V468.26" stroke="#000" stroke-width="0.5" fill="none" opacity="0.9"/>
<text x="723" y="409.25" font-size="5.6" text-anchor="middle" fill="#111" font-weight="bold" textLength="16" lengthAdjust="spacingAndGlyphs" opacity="0.999">2019(5)202</text>
<path d="M712.86 416.77V420.73M712.27 418.09H713.9M714.58 416.55V420.95M716.23 416.99V420.73M714.1 417.21H716.23M714.1 418.75H716.23M717.14 416.9H720.6M717.51 418.75H720.68M717.4 420.6H720.58M718.86 416.55V420.95M718.75 418.75L716.77 420.95M718.75 418.75L720.73 420.95" stroke="#000" stroke-width="0.97" fill="none" opacity="1.0"/>
<text x="723" y="420.55" font-size="5" text-anchor="middle" fill="#111" font-weight="bold" opacity="0.999">-</text>
<path d="M724.9 416.9H727.19M725.16 418.75H727.09M724.96 420.6H727.39M726.15 416.55V420.95M724.98 417.87V420.51M727.27 417.87V420.51M728.39 416.9H730.67M728.35 418.75H730.41M728.51 420.6H730.42M729.36 416.55V420.95M729.38 418.75L727.95 420.95M729.38 418.75L730.81 420.95" stroke="#000" stroke-width="0.97" fill="none" opacity="1.0"/>
<text x="734" y="420.95" font-size="5.2" text-anchor="start" fill="#111" font-weight="bold" textLength="5" lengthAdjust="spacingAndGlyphs" opacity="0.999">-04</text>
<text x="722.5" y="432.65" font-size="6.5" text-anchor="middle" fill="#111" font-weight="bold" textLength="3.6" lengthAdjust="spacingAndGlyphs" opacity="0.999">E</text>
<path d="M719.36 439.92H722.1M719.51 441.85H722.03M719.6 443.78H721.88M720.67 439.55V444.15M720.75 441.85L719.21 444.15M720.75 441.85L722.29 444.15M722.76 439.92H725.44M722.91 441.85H725.21M723.04 443.78H725.58M724.3 439.55V444.15M724.25 441.85L722.71 444.15M724.25 441.85L725.79 444.15" stroke="#000" stroke-width="1.02" fill="none" opacity="1.0"/>
<text x="714" y="467" font-size="5.4" text-anchor="start" fill="#111" font-weight="bold" textLength="7" lengthAdjust="spacingAndGlyphs" opacity="0.999">2020</text>
<path d="M721.67 462.91V466.69M721.21 464.17H722.12M722.75 462.7V466.9M724.29 463.12V466.69M722.32 463.33H724.29M722.32 464.8H724.29M722.32 466.27H724.29" stroke="#000" stroke-width="0.86" fill="none" opacity="1.0"/>
<text x="724.6" y="467" font-size="5.4" text-anchor="start" fill="#111" font-weight="bold" textLength="3.6" lengthAdjust="spacingAndGlyphs" opacity="0.999">03</text>
<path d="M729.05 462.91V466.69M728.6 464.17H729.5M730.13 462.7V466.9M731.6 463.12V466.69M729.7 463.33H731.6M729.7 464.8H731.6" stroke="#000" stroke-width="0.86" fill="none" opacity="1.0"/>
<line x1="80.7" y1="36.3" x2="230.3" y2="36.3" stroke="#222" stroke-width="0.7"/>
<line x1="80.7" y1="35.8" x2="80.7" y2="40.8" stroke="#333" stroke-width="0.6"/>
<line x1="230.3" y1="35.8" x2="230.3" y2="40.8" stroke="#333" stroke-width="0.6"/>
<rect x="80.7" y="35.6" width="2.2" height="1.4" fill="#111" stroke="none" stroke-width="0.8"/>
<rect x="228.1" y="35.6" width="2.2" height="1.4" fill="#111" stroke="none" stroke-width="0.8"/>
<line x1="83.2" y1="45.1" x2="227.5" y2="45.1" stroke="#222" stroke-width="0.7"/>
<line x1="83.2" y1="44.6" x2="83.2" y2="49.6" stroke="#333" stroke-width="0.6"/>
<line x1="227.5" y1="44.6" x2="227.5" y2="49.6" stroke="#333" stroke-width="0.6"/>
<rect x="83.2" y="44.4" width="2.2" height="1.4" fill="#111" stroke="none" stroke-width="0.8"/>
<rect x="225.3" y="44.4" width="2.2" height="1.4" fill="#111" stroke="none" stroke-width="0.8"/>
<line x1="84.6" y1="54.1" x2="226.4" y2="54.1" stroke="#222" stroke-width="0.7"/>
<line x1="84.6" y1="53.6" x2="84.6" y2="58.6" stroke="#333" stroke-width="0.6"/>
<line x1="226.4" y1="53.6" x2="226.4" y2="58.6" stroke="#333" stroke-width="0.6"/>
<rect x="84.6" y="53.4" width="2.2" height="1.4" fill="#111" stroke="none" stroke-width="0.8"/>
<rect x="224.2" y="53.4" width="2.2" height="1.4" fill="#111" stroke="none" stroke-width="0.8"/>
<text x="155.3" y="35" font-size="6.6" text-anchor="middle" fill="#333" font-weight="normal" textLength="11.5" lengthAdjust="spacingAndGlyphs" opacity="0.999">3000</text>
<text x="155.6" y="43.7" font-size="6.6" text-anchor="middle" fill="#333" font-weight="normal" textLength="11.5" lengthAdjust="spacingAndGlyphs" opacity="0.999">2880</text>
<text x="155.4" y="52.6" font-size="6.6" text-anchor="middle" fill="#333" font-weight="normal" textLength="27" lengthAdjust="spacingAndGlyphs" opacity="0.999">50x57=2850</text>
<text x="184.6" y="65" font-size="7.5" text-anchor="middle" fill="#444" font-weight="normal" textLength="4" lengthAdjust="spacingAndGlyphs" opacity="0.999">C</text>
<rect x="232.4" y="52.2" width="2.6" height="5.6" fill="none" stroke="#444" stroke-width="0.6"/>
<line x1="232.4" y1="55" x2="235" y2="55" stroke="#555" stroke-width="0.5"/>
<line x1="230.5" y1="60.2" x2="230.5" y2="62.5" stroke="#444" stroke-width="0.6"/>
<line x1="230.5" y1="60.2" x2="237" y2="60.2" stroke="#444" stroke-width="0.6"/>
<rect x="235.5" y="59.4" width="1.8" height="1.6" fill="#111" stroke="none" stroke-width="0.8"/>
<rect x="60.3" y="66.9" width="197.5" height="13" fill="#e6e6e6" stroke="none" stroke-width="0.8"/>
<rect x="60.3" y="79.9" width="197.5" height="6.7" fill="#c0c0c0" stroke="none" stroke-width="0.8"/>
<path d="M63.05 67.2V79.4M66.55 67.2V79.4M70.05 67.2V79.4M73.55 67.2V79.4M77.05 67.2V79.4M80.55 67.2V79.4M84.05 67.2V79.4M87.55 67.2V79.4M91.05 67.2V79.4M94.55 67.2V79.4M98.05 67.2V79.4M101.55 67.2V79.4M105.05 67.2V79.4M108.55 67.2V79.4M112.05 67.2V79.4M115.55 67.2V79.4M119.05 67.2V79.4M122.55 67.2V79.4M126.05 67.2V79.4M129.55 67.2V79.4M133.05 67.2V79.4M136.55 67.2V79.4M140.05 67.2V79.4M143.55 67.2V79.4M147.05 67.2V79.4M150.55 67.2V79.4M154.05 67.2V79.4M157.55 67.2V79.4M161.05 67.2V79.4M164.55 67.2V79.4M168.05 67.2V79.4M171.55 67.2V79.4M175.05 67.2V79.4M178.55 67.2V79.4M182.05 67.2V79.4M185.55 67.2V79.4M189.05 67.2V79.4M192.55 67.2V79.4M196.05 67.2V79.4M199.55 67.2V79.4M203.05 67.2V79.4M206.55 67.2V79.4M210.05 67.2V79.4M213.55 67.2V79.4M217.05 67.2V79.4M220.55 67.2V79.4M224.05 67.2V79.4M227.55 67.2V79.4M231.05 67.2V79.4M234.55 67.2V79.4M238.05 67.2V79.4M241.55 67.2V79.4M245.05 67.2V79.4M248.55 67.2V79.4M252.05 67.2V79.4M255.55 67.2V79.4M259.05 67.2V79.4" stroke="#fafafa" stroke-width="1.0" fill="none"/>
<path d="M61.3 66.9V80.4M64.8 66.9V80.4M68.3 66.9V80.4M71.8 66.9V80.4M75.3 66.9V80.4M78.8 66.9V80.4M82.3 66.9V80.4M85.8 66.9V80.4M89.3 66.9V80.4M92.8 66.9V80.4M96.3 66.9V80.4M99.8 66.9V80.4M103.3 66.9V80.4M106.8 66.9V80.4M110.3 66.9V80.4M113.8 66.9V80.4M117.3 66.9V80.4M120.8 66.9V80.4M124.3 66.9V80.4M127.8 66.9V80.4M131.3 66.9V80.4M134.8 66.9V80.4M138.3 66.9V80.4M141.8 66.9V80.4M145.3 66.9V80.4M148.8 66.9V80.4M152.3 66.9V80.4M155.8 66.9V80.4M159.3 66.9V80.4M162.8 66.9V80.4M166.3 66.9V80.4M169.8 66.9V80.4M173.3 66.9V80.4M176.8 66.9V80.4M180.3 66.9V80.4M183.8 66.9V80.4M187.3 66.9V80.4M190.8 66.9V80.4M194.3 66.9V80.4M197.8 66.9V80.4M201.3 66.9V80.4M204.8 66.9V80.4M208.3 66.9V80.4M211.8 66.9V80.4M215.3 66.9V80.4M218.8 66.9V80.4M222.3 66.9V80.4M225.8 66.9V80.4M229.3 66.9V80.4M232.8 66.9V80.4M236.3 66.9V80.4M239.8 66.9V80.4M243.3 66.9V80.4M246.8 66.9V80.4M250.3 66.9V80.4M253.8 66.9V80.4M257.3 66.9V80.4" stroke="#4a4a4a" stroke-width="0.58" fill="none"/>
<path d="M63.05 80.9V85.6M66.55 80.9V85.6M70.05 80.9V85.6M73.55 80.9V85.6M77.05 80.9V85.6M80.55 80.9V85.6M84.05 80.9V85.6M87.55 80.9V85.6M91.05 80.9V85.6M94.55 80.9V85.6M98.05 80.9V85.6M101.55 80.9V85.6M105.05 80.9V85.6M108.55 80.9V85.6M112.05 80.9V85.6M115.55 80.9V85.6M119.05 80.9V85.6M122.55 80.9V85.6M126.05 80.9V85.6M129.55 80.9V85.6M133.05 80.9V85.6M136.55 80.9V85.6M140.05 80.9V85.6M143.55 80.9V85.6M147.05 80.9V85.6M150.55 80.9V85.6M154.05 80.9V85.6M157.55 80.9V85.6M161.05 80.9V85.6M164.55 80.9V85.6M168.05 80.9V85.6M171.55 80.9V85.6M175.05 80.9V85.6M178.55 80.9V85.6M182.05 80.9V85.6M185.55 80.9V85.6M189.05 80.9V85.6M192.55 80.9V85.6M196.05 80.9V85.6M199.55 80.9V85.6M203.05 80.9V85.6M206.55 80.9V85.6M210.05 80.9V85.6M213.55 80.9V85.6M217.05 80.9V85.6M220.55 80.9V85.6M224.05 80.9V85.6M227.55 80.9V85.6M231.05 80.9V85.6M234.55 80.9V85.6M238.05 80.9V85.6M241.55 80.9V85.6M245.05 80.9V85.6M248.55 80.9V85.6M252.05 80.9V85.6M255.55 80.9V85.6M259.05 80.9V85.6" stroke="#e0e0e0" stroke-width="0.7" fill="none"/>
<path d="M61.87 79.9L61.24 86.6M64.72 79.9L65.29 86.6M67.83 79.9L67.64 86.6M71.86 79.9L72.07 86.6M75.6 79.9L76.56 86.6M78.14 79.9L78.95 86.6M82.38 79.9L82.65 86.6M85.48 79.9L85.46 86.6M88.84 79.9L88 86.6M93.34 79.9L93.69 86.6M95.69 79.9L94.92 86.6M99.67 79.9L100.32 86.6M103.26 79.9L103.37 86.6M106.77 79.9L107.59 86.6M110.62 79.9L110.11 86.6M113.26 79.9L113.46 86.6M117.68 79.9L117 86.6M120.51 79.9L120.9 86.6M124.3 79.9L123.89 86.6M127.75 79.9L127.6 86.6M132.1 79.9L132.45 86.6M134.29 79.9L134.01 86.6M138.53 79.9L137.58 86.6M141.07 79.9L141.55 86.6M146.1 79.9L146.72 86.6M148.15 79.9L148.12 86.6M152.71 79.9L152 86.6M155.34 79.9L155.17 86.6M158.7 79.9L157.89 86.6M163.05 79.9L162.74 86.6M166.75 79.9L166.85 86.6M170.46 79.9L170.03 86.6M173.05 79.9L172.55 86.6M176.08 79.9L175.66 86.6M180.07 79.9L180.06 86.6M183.53 79.9L184.5 86.6M187.9 79.9L187.59 86.6M190.33 79.9L190.31 86.6M193.69 79.9L193.07 86.6M198.14 79.9L197.4 86.6M202.06 79.9L201.23 86.6M205.59 79.9L205.39 86.6M208.39 79.9L208.2 86.6M211.92 79.9L211.72 86.6M214.67 79.9L213.77 86.6M219.32 79.9L219.27 86.6M222.73 79.9L221.85 86.6M225.8 79.9L225.89 86.6M229.1 79.9L228.4 86.6M233.08 79.9L233.46 86.6M236.9 79.9L236.07 86.6M239.06 79.9L239.33 86.6M243.5 79.9L242.85 86.6M247.06 79.9L247.8 86.6M250.17 79.9L249.38 86.6M254.49 79.9L253.52 86.6M257.9 79.9L257.17 86.6" stroke="#555" stroke-width="0.6" fill="none"/>
<line x1="60.3" y1="86.9" x2="257.8" y2="86.9" stroke="#666" stroke-width="0.6"/>
<line x1="60.3" y1="88.6" x2="257.8" y2="88.6" stroke="#151515" stroke-width="1.5"/>
<path d="M62.3 87.6v2.2M65.8 87.6v2.2M69.3 87.6v2.2M72.8 87.6v2.2M76.3 87.6v2.2M79.8 87.6v2.2M83.3 87.6v2.2M86.8 87.6v2.2M90.3 87.6v2.2M93.8 87.6v2.2M97.3 87.6v2.2M100.8 87.6v2.2M104.3 87.6v2.2M107.8 87.6v2.2M111.3 87.6v2.2M114.8 87.6v2.2M118.3 87.6v2.2M121.8 87.6v2.2M125.3 87.6v2.2M128.8 87.6v2.2M132.3 87.6v2.2M135.8 87.6v2.2M139.3 87.6v2.2M142.8 87.6v2.2M146.3 87.6v2.2M149.8 87.6v2.2M153.3 87.6v2.2M156.8 87.6v2.2M160.3 87.6v2.2M163.8 87.6v2.2M167.3 87.6v2.2M170.8 87.6v2.2M174.3 87.6v2.2M177.8 87.6v2.2M181.3 87.6v2.2M184.8 87.6v2.2M188.3 87.6v2.2M191.8 87.6v2.2M195.3 87.6v2.2M198.8 87.6v2.2M202.3 87.6v2.2M205.8 87.6v2.2M209.3 87.6v2.2M212.8 87.6v2.2M216.3 87.6v2.2M219.8 87.6v2.2M223.3 87.6v2.2M226.8 87.6v2.2M230.3 87.6v2.2M233.8 87.6v2.2M237.3 87.6v2.2M240.8 87.6v2.2M244.3 87.6v2.2M247.8 87.6v2.2M251.3 87.6v2.2M254.8 87.6v2.2" stroke="#000" stroke-width="0.9" fill="none"/>
<clipPath id="cl0"><polygon points="60,89.5 257.7,89.5 257.7,141 250.3,148.3 265.7,148.3 257.7,154 257.7,209.5 60,209.5 60,154.1 68,148.4 50.8,148.4 60,142.7"/></clipPath>
<g clip-path="url(#cl0)">
<path d="M52 89.5V209.5M57.1 89.5V209.5M62.2 89.5V209.5M67.3 89.5V209.5M72.4 89.5V209.5M77.5 89.5V209.5M82.6 89.5V209.5M87.7 89.5V209.5M92.8 89.5V209.5M97.9 89.5V209.5M103 89.5V209.5M108.1 89.5V209.5M113.2 89.5V209.5M118.3 89.5V209.5M123.4 89.5V209.5M128.5 89.5V209.5M133.6 89.5V209.5M138.7 89.5V209.5M143.8 89.5V209.5M148.9 89.5V209.5M154 89.5V209.5M159.1 89.5V209.5M164.2 89.5V209.5M169.3 89.5V209.5M174.4 89.5V209.5M179.5 89.5V209.5M184.6 89.5V209.5M189.7 89.5V209.5M194.8 89.5V209.5M199.9 89.5V209.5M205 89.5V209.5M210.1 89.5V209.5M215.2 89.5V209.5M220.3 89.5V209.5M225.4 89.5V209.5M230.5 89.5V209.5M235.6 89.5V209.5M240.7 89.5V209.5M245.8 89.5V209.5M250.9 89.5V209.5M256 89.5V209.5M261.1 89.5V209.5" stroke="#2a2a2a" stroke-width="0.5" fill="none"/>
<path d="M54.55 89.5V209.5M59.65 89.5V209.5M64.75 89.5V209.5M69.85 89.5V209.5M74.95 89.5V209.5M80.05 89.5V209.5M85.15 89.5V209.5M90.25 89.5V209.5M95.35 89.5V209.5M100.45 89.5V209.5M105.55 89.5V209.5M110.65 89.5V209.5M115.75 89.5V209.5M120.85 89.5V209.5M125.95 89.5V209.5M131.05 89.5V209.5M136.15 89.5V209.5M141.25 89.5V209.5M146.35 89.5V209.5M151.45 89.5V209.5M156.55 89.5V209.5M161.65 89.5V209.5M166.75 89.5V209.5M171.85 89.5V209.5M176.95 89.5V209.5M182.05 89.5V209.5M187.15 89.5V209.5M192.25 89.5V209.5M197.35 89.5V209.5M202.45 89.5V209.5M207.55 89.5V209.5M212.65 89.5V209.5M217.75 89.5V209.5M222.85 89.5V209.5M227.95 89.5V209.5M233.05 89.5V209.5M238.15 89.5V209.5M243.25 89.5V209.5M248.35 89.5V209.5M253.45 89.5V209.5M258.55 89.5V209.5M263.65 89.5V209.5" stroke="#666" stroke-width="0.45" fill="none"/>
<path d="M50.8 94.32H265.7M50.8 99.14H265.7M50.8 103.96H265.7M50.8 108.78H265.7M50.8 113.6H265.7M50.8 118.42H265.7M50.8 123.24H265.7M50.8 128.06H265.7M50.8 132.88H265.7M50.8 137.7H265.7M50.8 142.52H265.7M50.8 147.34H265.7M50.8 152.16H265.7M50.8 157.96H265.7M50.8 163.76H265.7M50.8 169.56H265.7M50.8 175.36H265.7M50.8 181.16H265.7M50.8 186.96H265.7M50.8 192.76H265.7M50.8 198.56H265.7M50.8 204.36H265.7" stroke="#2a2a2a" stroke-width="0.5" fill="none"/>
</g>
<polyline points="60,142.7 50.8,148.4 68,148.4 60,154.1" fill="none" stroke="#222" stroke-width="0.7"/>
<polyline points="257.7,141 250.3,148.3 265.7,148.3 257.7,154" fill="none" stroke="#222" stroke-width="0.7"/>
<polyline points="231,150.2 254,144.1 305,144.1" fill="none" stroke="#333" stroke-width="0.6"/>
<rect x="60.3" y="111.2" width="197.5" height="1.7" fill="#fff" stroke="none" stroke-width="0.8"/>
<rect x="154.9" y="113" width="1.7" height="96.5" fill="#fff" stroke="none" stroke-width="0.8"/>
<polyline points="155.2,114.8 157,112.5 160,112 162.7,112.8" fill="none" stroke="#333" stroke-width="0.6"/>
<text x="166.5" y="115.6" font-size="7" text-anchor="middle" fill="#333" font-weight="normal" textLength="3.6" lengthAdjust="spacingAndGlyphs" opacity="0.999">5</text>
<rect x="60.3" y="209.5" width="197.5" height="3.8" fill="#cfcfcf" stroke="none" stroke-width="0.8"/>
<line x1="60.3" y1="209.6" x2="257.8" y2="209.6" stroke="#333" stroke-width="0.7"/>
<line x1="53" y1="213.3" x2="60.3" y2="213.3" stroke="#222" stroke-width="0.7"/>
<polygon points="59.3,213.3 257.7,213.3 257.7,231.3 240.5,231.3 240.5,261 220.4,261 220.4,231.3 90.8,231.3 90.8,260.2 70.2,260.2 70.2,231.3 59.3,231.3" fill="url(#hatch)" stroke="#444" stroke-width="0.7"/>
<path d="M120.94 225.36h0.9M229.9 216.96h0.9M66.75 214.33h0.9M171.57 223.25h0.9M240.03 221.96h0.9M162.86 227.2h0.9M212.43 220.74h0.9M197.06 220.47h0.9M73.24 224.88h0.9M176.99 229.89h0.9M189.9 216.48h0.9M211.67 222.78h0.9M76.34 221.56h0.9M236.47 224.03h0.9M144.12 214.15h0.9M191.87 229.79h0.9M229.12 217.49h0.9M83.91 221.56h0.9M114.26 223.1h0.9M148.8 225.91h0.9M241.79 219.85h0.9M207.21 225.12h0.9M88.53 226.15h0.9M117.75 222.92h0.9M158.13 224.71h0.9M235.33 228.62h0.9M70.37 214.51h0.9M71.93 228.13h0.9M195.27 223.89h0.9M136.62 219h0.9M178.22 229.32h0.9M224.48 223.74h0.9M122.31 229.18h0.9M203.37 221.52h0.9M92.79 229.46h0.9M82.99 229.26h0.9M92.31 226.83h0.9M153.96 226.45h0.9M149.19 218.35h0.9M208.69 219.34h0.9M115.14 223.95h0.9M188.24 226.83h0.9M178.18 227.91h0.9M202.96 214.25h0.9M89.77 227.32h0.9M175.18 229.62h0.9M108.48 220.2h0.9M134.11 226.34h0.9M106.17 221.22h0.9M195.65 219.14h0.9M112.8 216.52h0.9M241.36 226.21h0.9M214.27 218.62h0.9M87.71 228.25h0.9M255.59 216.35h0.9M252.15 226.76h0.9M167.93 226.43h0.9M158.5 222.55h0.9M166.38 221.76h0.9M135.2 226.6h0.9M202.27 229.72h0.9M120.97 214.92h0.9M137.91 225.33h0.9M242.42 223.38h0.9M61.85 220.16h0.9M166.49 222.58h0.9M129.96 215h0.9M138.44 222.34h0.9M111.13 227.33h0.9M123.24 222.1h0.9M99.77 217.4h0.9M78.16 226.89h0.9M117.09 223.25h0.9M130.7 226.47h0.9M228.82 217.94h0.9M241.76 221.89h0.9M230.68 219.95h0.9M151.3 215.31h0.9M122.21 214.49h0.9M115.27 223.71h0.9M78.53 217.27h0.9M231.54 223.05h0.9M175.58 217.42h0.9M242.32 218.48h0.9M79.13 221.15h0.9M176.84 223.74h0.9M85.79 227.5h0.9M126.75 229.91h0.9M134.51 214.44h0.9M66.86 219.91h0.9M199 221.79h0.9M226.58 228.32h0.9M230.01 224.24h0.9M241.66 225.3h0.9M77.72 219.1h0.9M105.94 215.44h0.9M241.41 222.1h0.9M95.99 227.6h0.9M133.07 217.76h0.9M201.98 216.75h0.9M245.52 229.06h0.9M71.68 222.85h0.9M65.47 228.71h0.9M110.81 222.21h0.9M205.7 226.19h0.9M155.23 215.62h0.9M122.58 214.09h0.9M99.19 225.97h0.9M176.19 221.06h0.9M188.55 221.53h0.9M133.22 220.24h0.9M133.87 220.07h0.9M146.95 226.92h0.9M240.12 228.27h0.9M152.18 228.6h0.9M217.37 216.51h0.9M224.07 215.24h0.9M181.87 219.97h0.9M207.57 226.45h0.9M248.72 228.82h0.9M135.86 214.35h0.9M74.81 229.56h0.9M123.55 217.74h0.9M82.78 219.86h0.9M125.4 225.78h0.9M95.51 221.22h0.9M235.2 221.02h0.9M89.43 220.69h0.9M108.61 214.41h0.9M172.49 218.74h0.9M218.42 218.17h0.9M81.52 221.3h0.9M155.04 216.45h0.9M161.15 224.1h0.9M215.16 228.8h0.9M170.31 227.36h0.9M83.48 226.08h0.9M251.23 220.91h0.9M111.52 217.82h0.9M106.92 220.24h0.9M141.88 216.6h0.9M223.97 229.66h0.9M88.44 224.24h0.9M147.1 222.12h0.9M160.62 221.09h0.9M215.54 229.1h0.9M116.42 219.76h0.9M67.99 220.54h0.9M114.54 216.89h0.9M226.14 222.35h0.9M105.39 216.81h0.9M178.33 227.26h0.9M235.2 225.69h0.9M209.97 216.81h0.9M87 224.72h0.9M183.8 217.07h0.9M120.68 214.16h0.9M196.37 222.31h0.9M225.69 228.66h0.9M162.14 219.56h0.9M115.51 224.23h0.9M246.29 215.45h0.9M140.67 226.21h0.9M86.26 224.65h0.9M108.92 223.01h0.9M254.19 214.59h0.9M198.34 223.2h0.9M229.04 219.7h0.9M243.63 229.5h0.9M74.05 219.71h0.9M108.21 227.28h0.9M239.77 226.47h0.9M231.01 223.22h0.9M236.91 218.66h0.9M81.21 225.7h0.9M147.95 214.41h0.9M218.49 216.15h0.9M107.98 215.42h0.9M181.96 216.69h0.9M121.45 222.89h0.9M248.2 214.31h0.9M242.48 225.82h0.9M111.5 227.4h0.9M185.46 221.42h0.9M106.96 221.11h0.9M129.09 215.5h0.9M95.26 218.37h0.9M151.57 223.37h0.9M210.02 215.76h0.9M83.94 228.15h0.9M166.69 217.64h0.9M104.73 224.7h0.9M151.02 220.35h0.9M246.79 214.3h0.9M185.09 225.1h0.9M177.62 223.64h0.9M67.13 229.53h0.9M70.24 219.81h0.9M138.94 227.42h0.9M200.96 227.49h0.9M171.19 229.77h0.9M123.16 220.41h0.9M170.53 219.2h0.9M88.89 224.88h0.9M129.62 227.93h0.9M190.63 214.18h0.9M81.48 217h0.9M123.9 217.21h0.9M191.82 217.61h0.9M142.88 220.35h0.9M256.51 221.26h0.9M69.21 229.68h0.9M251.74 214.64h0.9M230.52 223.93h0.9M240.83 223.98h0.9M183.77 226.9h0.9M67.05 215.61h0.9M83.97 214.22h0.9M106.62 214.63h0.9M82.27 219.56h0.9M92.89 214.97h0.9M248.94 228.74h0.9M237.58 215.35h0.9M176.28 228.91h0.9M146.68 222.19h0.9M234.38 228.65h0.9M173.74 218.39h0.9M204.98 225.85h0.9M116.57 221.27h0.9M196.88 217.55h0.9M136.17 222.78h0.9M132.26 228.27h0.9M119.83 221.65h0.9M221.31 214.5h0.9M125.73 217.02h0.9M167.55 229.51h0.9M138.1 228.79h0.9M91.97 229.23h0.9M123.82 219.21h0.9M113.18 228.05h0.9M102.58 214.91h0.9M64.29 222.82h0.9M179.37 219.57h0.9M189.57 222.27h0.9M224.36 219.67h0.9M210.28 222.33h0.9M254.89 224.84h0.9M243.99 220.67h0.9M191.64 216.25h0.9M99.89 223.77h0.9M114.52 227.42h0.9M78.73 227.7h0.9M241.64 229.93h0.9M112.93 224.09h0.9M184.53 225.26h0.9M141.37 215.65h0.9M140.85 222.8h0.9M83.14 220.36h0.9M255.61 216.39h0.9M227.44 218.47h0.9M182.42 215.78h0.9M227.78 225.08h0.9M116.75 219.64h0.9M129.53 222.42h0.9M177.3 224.37h0.9M61.33 225.93h0.9M254.98 220.09h0.9M119.1 222.59h0.9M218.18 220.97h0.9M134.27 217.71h0.9M221.86 219.28h0.9M250.88 223.73h0.9M107.8 219.21h0.9M251.51 228.26h0.9M248.32 214.41h0.9M110.54 228.33h0.9M119.06 222.58h0.9M121.55 223.92h0.9M146.12 227.21h0.9M203.24 220.88h0.9M151.46 214.65h0.9M193.22 221.25h0.9M62.04 215.09h0.9M105.17 220.55h0.9M158.68 224.38h0.9M242.9 216.47h0.9M97.08 220.74h0.9M139.12 226.28h0.9M237.13 223.4h0.9M196.24 225.94h0.9M78.17 219.8h0.9M132.23 215.2h0.9M121.19 216.81h0.9M189.22 218.72h0.9M127.64 228.97h0.9M160.25 229.54h0.9M184.33 222.38h0.9M220.78 217.32h0.9M235.95 220.6h0.9M71.85 223.04h0.9M81 223.12h0.9M184.37 225.57h0.9M196.27 214.17h0.9M60.55 225.37h0.9M168.93 228.67h0.9M138.32 215.58h0.9M63.04 214.47h0.9M94.51 226.3h0.9M171.7 227.94h0.9M236.43 222.23h0.9M88.31 217.18h0.9M178.54 216.33h0.9M162.13 222.15h0.9M65.72 215.22h0.9M246.72 221.85h0.9M152.1 220.89h0.9M217.66 224.4h0.9M194.86 223.26h0.9M88.35 217.81h0.9M114.26 214.53h0.9M183.85 227.75h0.9M246.7 215.01h0.9M97.76 223.98h0.9M63.85 217.52h0.9M138.01 226.22h0.9M68.65 214.87h0.9M106.94 217.57h0.9M91.4 223.39h0.9M94.19 214.1h0.9M230.8 221.29h0.9M142.42 218.03h0.9M234.71 229.67h0.9M73.3 224.84h0.9M192.96 223.36h0.9M141.46 220.38h0.9M200.22 214.36h0.9M231.04 215.4h0.9M93.48 220.06h0.9M61.5 228.12h0.9M138.02 219.81h0.9M126 227.94h0.9M126.17 224.42h0.9M249.36 220.76h0.9M239.86 222.86h0.9M136.31 221.47h0.9M127.86 220.97h0.9M114.99 214.4h0.9M218.56 217.87h0.9M85.58 217.14h0.9M167.34 226.6h0.9M169.33 221.47h0.9M216.6 217.84h0.9M132.48 217.46h0.9M139.81 224.07h0.9M174.41 218.76h0.9M153.76 217.27h0.9M229.1 224.8h0.9M245.59 229.97h0.9M177.4 221.05h0.9M255.02 222.55h0.9M139.62 222.16h0.9M84.73 226.01h0.9M193.54 215.46h0.9M227.82 225.78h0.9M210.67 214.46h0.9M201.49 216.32h0.9M62.96 225.37h0.9M196.85 226.42h0.9M105.62 217.01h0.9M235.59 215.09h0.9M240.03 226.88h0.9M209.42 217.09h0.9M201.59 215.41h0.9M116.85 227.07h0.9M138.6 219.69h0.9M226.34 221.43h0.9M183.72 224.06h0.9M230.03 228.99h0.9M94.75 219.87h0.9M217.48 225.06h0.9M236.7 214.4h0.9M198.65 221.4h0.9M256.99 220.41h0.9M238.49 215.56h0.9M117.42 218.33h0.9M179.96 217.51h0.9M193.45 220.47h0.9M179.88 220.89h0.9M209.12 216.5h0.9M205.45 222.84h0.9M184 229.06h0.9M171.22 217.64h0.9M158.08 222.33h0.9M242.36 224.72h0.9M173.33 228.97h0.9M82.04 226.22h0.9M189.12 228.42h0.9M232.4 223.36h0.9M197.11 229.59h0.9M194.17 214.59h0.9M122.75 226.43h0.9M128.1 228.62h0.9M142.2 225.9h0.9M256.63 223.85h0.9M103.5 222.44h0.9M128.76 229.19h0.9M147.18 219.44h0.9M159.11 225.01h0.9M225.26 224.02h0.9M160.21 224.83h0.9M100.58 224.77h0.9M226.77 226.45h0.9M156.43 217.03h0.9M247.6 227.2h0.9M170.15 216.79h0.9M92.25 226.49h0.9M106.49 218.16h0.9M249.83 216.69h0.9M128.4 215.48h0.9M185.39 216.2h0.9M195.19 221.78h0.9M155.11 225.29h0.9M61.16 225.06h0.9M86.22 224.25h0.9M197.52 216.13h0.9M199.42 223.4h0.9M107.43 224.07h0.9M83.24 220.79h0.9M245.42 224.83h0.9M90.49 229.67h0.9M225.38 220.5h0.9M100.65 225.04h0.9M62.44 221.79h0.9M68.55 228.33h0.9M119.87 215.77h0.9M120.86 229.41h0.9M91.78 221.12h0.9M172.13 218.63h0.9M169.83 214.73h0.9M152.3 229.68h0.9M155.65 225.96h0.9M125.35 225.82h0.9M112.09 224.32h0.9M248.48 221.81h0.9M214.42 219.15h0.9M130.78 215.46h0.9M116.34 223.81h0.9M203.94 225.19h0.9M188.66 215.25h0.9M207.25 214.4h0.9M137.87 216.32h0.9M132.47 229.39h0.9M163.51 228.33h0.9M194.37 215.63h0.9M201.61 218.97h0.9M181.51 220.07h0.9M187.52 219.7h0.9M105.35 216.18h0.9M241.18 227.41h0.9M109.95 214.92h0.9M81.13 226.84h0.9M241.45 230h0.9M139.43 214.81h0.9M102.64 220.77h0.9M203.96 229.93h0.9M178.72 224.02h0.9M87.95 217.64h0.9M87.25 224.19h0.9M139.07 229.66h0.9M227.58 221.67h0.9M103 219.96h0.9M66.31 223.77h0.9M224.21 222.18h0.9M88.2 215.15h0.9M70.89 225.37h0.9M235.45 215h0.9M61.73 229.3h0.9M94.73 225.6h0.9M134.63 214.07h0.9M218.42 224.8h0.9M171.8 221.5h0.9M166.92 222.27h0.9M144.39 222.56h0.9M183.27 216.47h0.9M139.07 223.75h0.9M76.04 226.96h0.9M202.39 219.3h0.9M189.71 223.04h0.9M142.97 219.9h0.9M189.33 216.19h0.9M230.46 222.49h0.9M184.85 227.57h0.9M103.83 225.84h0.9M196.2 216.35h0.9M174.08 222.88h0.9M245.81 219.76h0.9M107.33 221.06h0.9M111.43 217.64h0.9M250.8 217.25h0.9M207.72 217.54h0.9M224.95 224.39h0.9M96.95 224.72h0.9M199.69 217.63h0.9M150.26 222.66h0.9M197.25 225.77h0.9M239.12 223.07h0.9M227.75 224.87h0.9M217.67 216.15h0.9M159.12 222.12h0.9M225.19 229.17h0.9M183.44 229.37h0.9M161.49 221.36h0.9M195.13 222.71h0.9M250.69 217.07h0.9M153.6 215.49h0.9M133.55 223.9h0.9M139.66 214.76h0.9M68.22 225.23h0.9M248.26 221.36h0.9M83.75 216.17h0.9M238.98 215.4h0.9M254.76 217.23h0.9M82.6 225.65h0.9M129.87 219.87h0.9M225.77 226.87h0.9M205.01 214.19h0.9M110.36 217.83h0.9M161.1 222.4h0.9M130.32 221.82h0.9M220.86 219.66h0.9M130.08 219.24h0.9M178.8 214.55h0.9M239.32 217.88h0.9M129.81 225.1h0.9M64.19 229.82h0.9M146.66 226.66h0.9M156.15 215.18h0.9M110.91 216.4h0.9M243.43 227.98h0.9M191.9 227.38h0.9M175.9 218h0.9M256.46 226.18h0.9M112.94 221.11h0.9M64.88 229.91h0.9M155.97 221.74h0.9M66.23 227.39h0.9M74.7 223.93h0.9M187 223.6h0.9M226.06 229.48h0.9M196.51 221.18h0.9M105.15 229.33h0.9M161.85 219.77h0.9M164.07 218.98h0.9M85.79 223.99h0.9M101.64 227.11h0.9M203.27 219.3h0.9M152.28 229h0.9M121.93 219.37h0.9M155.24 217.63h0.9M109 228.02h0.9M179.91 224.09h0.9M203.21 216.3h0.9M135.73 215.02h0.9M255.3 219.71h0.9M172.98 223.35h0.9M87.4 225.18h0.9M240.27 228.44h0.9M78.76 217.19h0.9M143.97 223.15h0.9M79.5 226.67h0.9M216.23 217.81h0.9M216.95 216.26h0.9M74.19 229.41h0.9M127.28 219.8h0.9M228.08 217.92h0.9M231.95 225.45h0.9M125.88 225.27h0.9M192.34 228.14h0.9M214.17 222.06h0.9M236.16 226.95h0.9M256.34 216.41h0.9M100.46 228.22h0.9M192.27 220.48h0.9M138.03 226.36h0.9M243.11 223.39h0.9M88.33 225.52h0.9M109.67 223.15h0.9M189.8 229.45h0.9M74.48 217.04h0.9M242.18 223.36h0.9M119.93 219.66h0.9M152.17 229.53h0.9M195.99 225.54h0.9M241.62 227.42h0.9M122.89 216.8h0.9M236.85 222.74h0.9M209.42 224.02h0.9M106.67 214.32h0.9M69.4 221.17h0.9M235.89 218.52h0.9M158.88 215.59h0.9M107.62 214.91h0.9M85.42 214.78h0.9M74.47 227.06h0.9M173.37 225.5h0.9M60.99 218.33h0.9M186.57 214.24h0.9M123.61 214.44h0.9M123.34 227.88h0.9M65.34 221.78h0.9M180.13 226.81h0.9M94.38 227.81h0.9M216.86 215.4h0.9M180.72 226.42h0.9M254.6 220.39h0.9M245.23 227.97h0.9M65.07 219.07h0.9M188.86 219.01h0.9M141.78 225.36h0.9M224.48 216.51h0.9M63.66 217.37h0.9M164.31 227.45h0.9M130.5 219.79h0.9M127.79 224.88h0.9M230.58 216.45h0.9M253.33 223.2h0.9M105.31 223.9h0.9M220.25 221.64h0.9M66.23 224.36h0.9M188.37 222.79h0.9M199.15 222.95h0.9M131.19 222.47h0.9M113.96 218.05h0.9M169.95 215.6h0.9M219.41 229.63h0.9M89.67 224.06h0.9M138.97 229.67h0.9M244.58 223.99h0.9M84.08 222.69h0.9M100.37 226.44h0.9M111.05 223.7h0.9M205.31 228.45h0.9M231.55 227.69h0.9M213.48 222.46h0.9M129.11 225.35h0.9M146.99 227.76h0.9M101.99 228.6h0.9M237.5 220.22h0.9M101.78 226.64h0.9M65.22 224.56h0.9M63.04 226.91h0.9M239.99 224.79h0.9M129.08 217.65h0.9M134.07 228.51h0.9M133.99 224.51h0.9M229.49 214.49h0.9M64.09 225.35h0.9M107.64 219.67h0.9M124.23 220.81h0.9M114.9 228.07h0.9M158.22 229.7h0.9M215.79 221.64h0.9M243.98 226.31h0.9M247.99 216.18h0.9M119.12 215.41h0.9M60.77 227.95h0.9M109.2 219.12h0.9M180.22 229.31h0.9M101.78 214.83h0.9M214.09 227.62h0.9M204.89 214.74h0.9M212.47 221.03h0.9M145.66 216.24h0.9M244.43 224.96h0.9M218.59 216.43h0.9M239.8 216.13h0.9M119.63 222.04h0.9M129.28 226.02h0.9M151.5 220.35h0.9M141.6 224.27h0.9M191.07 220.35h0.9M126.13 228.32h0.9M175.3 217.22h0.9M183.59 214.25h0.9M86.56 223.52h0.9M173.25 225.17h0.9M203.52 214.77h0.9M236.12 215.03h0.9M81.74 229.31h0.9M251.21 222.41h0.9M60.51 217.58h0.9M166.47 224.13h0.9M167.47 229.89h0.9M164.4 227.43h0.9M248.58 215.24h0.9M251.19 227.65h0.9M251.5 217.58h0.9M74.26 225.26h0.9M63 218.3h0.9M250.37 217.14h0.9M69.43 226.63h0.9M247.53 218.28h0.9M124.17 214.66h0.9M149.39 218.51h0.9M125.16 220.57h0.9M255.69 225.92h0.9M112.91 220.75h0.9M166.38 220.13h0.9M89.79 226.18h0.9M233.69 226.86h0.9M236.93 224.16h0.9M107.1 222.02h0.9M254.76 225.1h0.9M203.81 229.86h0.9M222.63 224.61h0.9M77.1 223.93h0.9M66.63 225.46h0.9M139.95 222.94h0.9M194.92 221.08h0.9M191.6 221.29h0.9M173.81 221.58h0.9M187.52 221.53h0.9M127.44 222.74h0.9M134.84 227.2h0.9M215.9 227.91h0.9M129.98 215.03h0.9M252.26 218.26h0.9M189.94 227.22h0.9M74.18 226.76h0.9M190.86 228.78h0.9M210.78 218.2h0.9M225.68 227.72h0.9M128.51 223.43h0.9M172.43 229.99h0.9M72.97 226.12h0.9M131.73 217.28h0.9M93.32 219.85h0.9M192.72 216.44h0.9M190.38 216.84h0.9M246.63 227.69h0.9M188.46 228.57h0.9M123.43 219.79h0.9M230.13 220.85h0.9M140.78 225.24h0.9M133.9 219.84h0.9M190.61 222.36h0.9M119.57 224.6h0.9M114.18 218.65h0.9M147.9 215.79h0.9M185.02 225.69h0.9M94.38 222.28h0.9M61.17 216.09h0.9M156.29 224.56h0.9M182.68 222.37h0.9M217.91 218.05h0.9M169.57 214.01h0.9M111.15 223.45h0.9M120.39 222.71h0.9M240.63 218.09h0.9M112.28 221.01h0.9" stroke="#222" stroke-width="0.9" fill="none"/>
<path d="M80.98 245.32h0.9M72.69 235.46h0.9M89.21 239.84h0.9M85.84 256.85h0.9M84.63 242.14h0.9M71.79 252.33h0.9M89.43 243.64h0.9M82.54 238.93h0.9M75.53 254.94h0.9M73.46 248.7h0.9M89.58 255h0.9M82.02 233.71h0.9M74.86 255.22h0.9M72.52 244.03h0.9M78.47 243.2h0.9M88.78 249.36h0.9M86.04 234.91h0.9M81.71 257.25h0.9M84.32 243.78h0.9M89.9 236.76h0.9M72.24 242.74h0.9M73.57 252.33h0.9M71.18 238.28h0.9M74.8 246.62h0.9M88.59 239.94h0.9M77.27 242.46h0.9M79.74 234.43h0.9M87.11 247.42h0.9M71.29 245.42h0.9M87.11 237.82h0.9M79.63 254.25h0.9M74.8 241.06h0.9M87.4 246.86h0.9M85.21 254.78h0.9M73.66 242.99h0.9M71.95 248.92h0.9M77.09 237.14h0.9M89.66 237.03h0.9M81.24 246.04h0.9M72.65 242.36h0.9M83.62 240.07h0.9M78.5 255.92h0.9M83.94 240.28h0.9M75.72 242.27h0.9M79.29 246.57h0.9M76.79 235.56h0.9M74.94 249.61h0.9M88.72 249.72h0.9M84.49 235.81h0.9M88.68 241.23h0.9M79.67 251.09h0.9M83.61 251.69h0.9M71.16 233.83h0.9M89.08 254.23h0.9M71.67 237.93h0.9M79.34 237.41h0.9M74.98 258.28h0.9M82.6 242.96h0.9M84.83 237.5h0.9M74.86 236.86h0.9" stroke="#222" stroke-width="0.9" fill="none"/>
<path d="M237.3 235.48h0.9M223.6 256.64h0.9M236.47 245.92h0.9M221.27 252.2h0.9M235.01 236.6h0.9M225.2 252.17h0.9M235.22 254.45h0.9M231.15 236.45h0.9M235.77 252.03h0.9M230.81 245.04h0.9M224.83 234.56h0.9M221.96 238.27h0.9M236.84 251.77h0.9M229.41 243.89h0.9M237.5 257.87h0.9M223.53 236.48h0.9M229.48 253.23h0.9M237.62 254.32h0.9M234.43 252.14h0.9M226.88 239.23h0.9M231.43 238.01h0.9M238.97 250.63h0.9M225.39 259.28h0.9M227.22 236.37h0.9M226.53 250.34h0.9M234.19 237.55h0.9M223.83 237.15h0.9M227.33 243.24h0.9M221.74 241.85h0.9M233.49 237.89h0.9M233.47 246.68h0.9M222.39 245.72h0.9M221.34 253.88h0.9M237.9 257.56h0.9M224.81 239.84h0.9M226.76 248.35h0.9M235.37 237.64h0.9M229.94 253.5h0.9M235.54 257.32h0.9M232 240.4h0.9M232.02 234.82h0.9M221.02 237.44h0.9M223.89 240.4h0.9M224.27 241.81h0.9M230.14 241.23h0.9M227.92 235.07h0.9M236.81 254.65h0.9M234.75 244.74h0.9M235.19 235.16h0.9M224.07 243.01h0.9M221.68 233.11h0.9M232.01 243.56h0.9M234.23 243.63h0.9M236.91 234.13h0.9M234.82 252.56h0.9M227.83 250.56h0.9M222.71 232.14h0.9M233.25 255.43h0.9M226.76 239.32h0.9M223.02 238.68h0.9" stroke="#222" stroke-width="0.9" fill="none"/>
<rect x="70.2" y="231.3" width="20.6" height="28.9" fill="url(#hatch)" stroke="#444" stroke-width="0.7"/>
<path d="M74.05 238.85h0.9M81.26 240.35h0.9M75.78 247.16h0.9M71.98 238.45h0.9M88.86 239.21h0.9M81.53 258.87h0.9M88.1 251.57h0.9M81.15 237.99h0.9M72.97 234.25h0.9M72.2 253.39h0.9M84.25 237.19h0.9M85.03 233.73h0.9M74.39 254.77h0.9M89.77 243.13h0.9M82.81 234.36h0.9M81.8 234.67h0.9M83.55 237.37h0.9M75.73 252.92h0.9M80.74 254.15h0.9M86.48 233.34h0.9M77.47 234.04h0.9M75.2 252.86h0.9M74.45 239.77h0.9M72.76 252.48h0.9M82.21 236.4h0.9M77.11 257.29h0.9M85.83 232.2h0.9M85.87 235.43h0.9M80.71 235.96h0.9M86.04 252.79h0.9M74.99 257.1h0.9M83.96 251.07h0.9M72.44 231.38h0.9M87.58 232.35h0.9M80.98 240.51h0.9M72.48 248.14h0.9M72.37 255.48h0.9M72.14 241.5h0.9M78.85 249.46h0.9M89.27 247.56h0.9M86.14 245.04h0.9M85.56 245.14h0.9M76.02 250.65h0.9M76.84 232.77h0.9M79.87 253.3h0.9M83.85 235.9h0.9M78.38 249.15h0.9M88.64 245.61h0.9M85.11 247.86h0.9M83.39 248.95h0.9M72.47 253.15h0.9M86.12 252.24h0.9M86.96 238h0.9M82.13 246.97h0.9M87.52 247.34h0.9M88.56 256.12h0.9M72.13 249.81h0.9M78.54 248.79h0.9M85.59 240.86h0.9M78.25 257.75h0.9M75.45 250.05h0.9M85.93 249.81h0.9M88.02 243.2h0.9M76.87 239.68h0.9M82.43 257.83h0.9M87.53 244.56h0.9M78.84 239.65h0.9M73.91 246.52h0.9M72.75 242.29h0.9M79.87 232.21h0.9M77.45 258.99h0.9M74.68 256.12h0.9M78.78 246.32h0.9M75.7 237.34h0.9M82.86 241.78h0.9M87.88 242.17h0.9M77.39 235.51h0.9M74.31 241.11h0.9M86.37 255.91h0.9M89.07 239.91h0.9M77.12 255.75h0.9M85.91 248.22h0.9M87.14 258.31h0.9M78.47 231.55h0.9M87.07 234.19h0.9" stroke="#222" stroke-width="0.9" fill="none"/>
<rect x="66" y="260.2" width="28.6" height="4.3" fill="#e8e8e8" stroke="#222" stroke-width="0.8"/>
<path d="M73.54 262.5h0.8M84.48 262.89h0.8M84.99 263.46h0.8M86.54 262.93h0.8M84.72 261.51h0.8M87.04 261.78h0.8M78.07 262.38h0.8M75.81 261.81h0.8M74.87 261.9h0.8" stroke="#444" stroke-width="0.8" fill="none"/>
<rect x="61" y="264.5" width="38.7" height="22.5" fill="url(#gravel)" stroke="#222" stroke-width="0.9"/>
<rect x="73.55" y="287" width="2" height="1.4" fill="#111" stroke="none" stroke-width="0.8"/>
<rect x="80.51" y="287" width="2" height="1.4" fill="#111" stroke="none" stroke-width="0.8"/>
<rect x="87.48" y="287" width="2" height="1.4" fill="#111" stroke="none" stroke-width="0.8"/>
<rect x="220.4" y="231.3" width="20.1" height="29.7" fill="url(#hatch)" stroke="#444" stroke-width="0.7"/>
<path d="M234.24 251h0.9M238.37 254.51h0.9M222.48 250.09h0.9M230.33 251.15h0.9M221.73 256.42h0.9M237.47 234.72h0.9M228.23 240.23h0.9M230.68 235.67h0.9M232.39 244.47h0.9M238.56 245.15h0.9M221.53 258.18h0.9M226.31 236.69h0.9M238.02 245.88h0.9M239.46 236.28h0.9M232.07 259.49h0.9M232.75 238.24h0.9M235.39 232.04h0.9M231.32 243h0.9M222.93 258.57h0.9M232.97 245.45h0.9M239.04 241.64h0.9M237.74 240.6h0.9M236.49 245.53h0.9M222.27 246.58h0.9M237.58 237.06h0.9M236.01 233.07h0.9M226.97 246.24h0.9M233.73 257.35h0.9M232.03 259.18h0.9M235.47 241.64h0.9M233.95 239.12h0.9M237.53 244.92h0.9M232.63 257.93h0.9M228.7 250.86h0.9M227.95 240.47h0.9M235.76 244.86h0.9M223.44 257.87h0.9M232.67 245.69h0.9M228.79 235.89h0.9M237.55 232.56h0.9M226.45 246.67h0.9M233.37 255.64h0.9M228.85 233.49h0.9M228.49 251.89h0.9M228.56 254.58h0.9M236.81 234.78h0.9M229.54 231.64h0.9M231.03 251.34h0.9M226.93 248.58h0.9M227.91 259.44h0.9M237.43 256.43h0.9M223.14 248.6h0.9M236.39 255.25h0.9M234.28 257.99h0.9M224.4 236.36h0.9M234.48 252.61h0.9M223.53 242.89h0.9M236.63 253.97h0.9M236.59 242.78h0.9M230.45 240.97h0.9M237.06 251.74h0.9M224 252.41h0.9M228.89 257.91h0.9M226.63 237.41h0.9M233.74 257.83h0.9M222.61 231.39h0.9M231.79 238.06h0.9M229.23 237.44h0.9M234.59 253.84h0.9M233.7 255.78h0.9M223.8 237.68h0.9M236.78 238.15h0.9M223.66 239.41h0.9M222.01 259.14h0.9M238.24 242.23h0.9M226.6 249.88h0.9M237.25 242.33h0.9M237.62 251.74h0.9M235.36 248.66h0.9M230.61 248.74h0.9M237.76 240.18h0.9M227.91 247.63h0.9M237.48 233.56h0.9M221.82 246.15h0.9M223.61 258.68h0.9" stroke="#222" stroke-width="0.9" fill="none"/>
<rect x="216.2" y="261" width="29" height="6" fill="#e8e8e8" stroke="#222" stroke-width="0.8"/>
<path d="M223.1 263.83h0.8M237.83 263.79h0.8M230.79 265.91h0.8M233.14 264.38h0.8M218.07 264.15h0.8M229.82 263.93h0.8M225.14 265.75h0.8M243.25 264.12h0.8M223.42 264.23h0.8" stroke="#444" stroke-width="0.8" fill="none"/>
<rect x="211.3" y="267" width="38.1" height="19.1" fill="url(#gravel)" stroke="#222" stroke-width="0.9"/>
<rect x="223.64" y="286.1" width="2" height="1.4" fill="#111" stroke="none" stroke-width="0.8"/>
<rect x="230.49" y="286.1" width="2" height="1.4" fill="#111" stroke="none" stroke-width="0.8"/>
<rect x="237.35" y="286.1" width="2" height="1.4" fill="#111" stroke="none" stroke-width="0.8"/>
<rect x="77.4" y="83.7" width="5.5" height="153.1" fill="#c2c2c2" stroke="none" stroke-width="0.8"/>
<line x1="77.4" y1="83.7" x2="82.9" y2="83.7" stroke="#444" stroke-width="0.6"/>
<line x1="77.4" y1="83.7" x2="77.4" y2="236.8" stroke="#555" stroke-width="0.6"/>
<line x1="82.9" y1="83.7" x2="82.9" y2="236.8" stroke="#333" stroke-width="0.7"/>
<rect x="75.6" y="86.4" width="2" height="2.2" fill="#000" stroke="none" stroke-width="0.8"/>
<rect x="82.7" y="86.4" width="2" height="2.2" fill="#000" stroke="none" stroke-width="0.8"/>
<rect x="75.6" y="106.6" width="2" height="2.2" fill="#000" stroke="none" stroke-width="0.8"/>
<rect x="82.7" y="106.6" width="2" height="2.2" fill="#000" stroke="none" stroke-width="0.8"/>
<rect x="75.6" y="114.3" width="2" height="2.2" fill="#000" stroke="none" stroke-width="0.8"/>
<rect x="82.7" y="114.3" width="2" height="2.2" fill="#000" stroke="none" stroke-width="0.8"/>
<rect x="75.6" y="139.1" width="2" height="2.2" fill="#000" stroke="none" stroke-width="0.8"/>
<rect x="82.7" y="139.1" width="2" height="2.2" fill="#000" stroke="none" stroke-width="0.8"/>
<rect x="75.6" y="167.7" width="2" height="2.2" fill="#000" stroke="none" stroke-width="0.8"/>
<rect x="82.7" y="167.7" width="2" height="2.2" fill="#000" stroke="none" stroke-width="0.8"/>
<rect x="75.6" y="203.4" width="2" height="2.2" fill="#000" stroke="none" stroke-width="0.8"/>
<rect x="82.7" y="203.4" width="2" height="2.2" fill="#000" stroke="none" stroke-width="0.8"/>
<rect x="228.3" y="83.7" width="5.3" height="153.8" fill="#c2c2c2" stroke="none" stroke-width="0.8"/>
<line x1="228.3" y1="83.7" x2="233.6" y2="83.7" stroke="#444" stroke-width="0.6"/>
<line x1="228.3" y1="83.7" x2="228.3" y2="237.5" stroke="#555" stroke-width="0.6"/>
<line x1="233.6" y1="83.7" x2="233.6" y2="237.5" stroke="#333" stroke-width="0.7"/>
<rect x="226.5" y="86.4" width="2" height="2.2" fill="#000" stroke="none" stroke-width="0.8"/>
<rect x="233.4" y="86.4" width="2" height="2.2" fill="#000" stroke="none" stroke-width="0.8"/>
<rect x="226.5" y="106.6" width="2" height="2.2" fill="#000" stroke="none" stroke-width="0.8"/>
<rect x="233.4" y="106.6" width="2" height="2.2" fill="#000" stroke="none" stroke-width="0.8"/>
<rect x="226.5" y="114" width="2" height="2.2" fill="#000" stroke="none" stroke-width="0.8"/>
<rect x="233.4" y="114" width="2" height="2.2" fill="#000" stroke="none" stroke-width="0.8"/>
<rect x="226.5" y="139.4" width="2" height="2.2" fill="#000" stroke="none" stroke-width="0.8"/>
<rect x="233.4" y="139.4" width="2" height="2.2" fill="#000" stroke="none" stroke-width="0.8"/>
<rect x="226.5" y="168.1" width="2" height="2.2" fill="#000" stroke="none" stroke-width="0.8"/>
<rect x="233.4" y="168.1" width="2" height="2.2" fill="#000" stroke="none" stroke-width="0.8"/>
<rect x="226.5" y="203.4" width="2" height="2.2" fill="#000" stroke="none" stroke-width="0.8"/>
<rect x="233.4" y="203.4" width="2" height="2.2" fill="#000" stroke="none" stroke-width="0.8"/>
<line x1="253" y1="112" x2="261" y2="111.2" stroke="#333" stroke-width="0.6"/>
<text x="263" y="113.2" font-size="7" text-anchor="middle" fill="#333" font-weight="normal" textLength="3.6" lengthAdjust="spacingAndGlyphs" opacity="0.999">4</text>
<text x="265" y="143.8" font-size="7" text-anchor="middle" fill="#333" font-weight="normal" textLength="3" lengthAdjust="spacingAndGlyphs" opacity="0.999">1</text>
<polyline points="258.3,182 261,179 265,178.5" fill="none" stroke="#333" stroke-width="0.6"/>
<text x="268.5" y="181.5" font-size="7" text-anchor="middle" fill="#333" font-weight="normal" textLength="3.6" lengthAdjust="spacingAndGlyphs" opacity="0.999">3</text>
<text x="71.1" y="174.6" font-size="4.5" text-anchor="middle" fill="#444" font-weight="normal" opacity="0.999">A</text>
<text x="89.6" y="174.6" font-size="4.5" text-anchor="middle" fill="#444" font-weight="normal" opacity="0.999">A</text>
<line x1="68" y1="170" x2="74" y2="170" stroke="#444" stroke-width="0.5"/>
<line x1="86.6" y1="170" x2="92.6" y2="170" stroke="#444" stroke-width="0.5"/>
<text x="59.7" y="250" font-size="5" text-anchor="middle" fill="#333" font-weight="normal" textLength="8.5" lengthAdjust="spacingAndGlyphs" opacity="0.999">100</text>
<text x="102.3" y="250" font-size="5" text-anchor="middle" fill="#333" font-weight="normal" textLength="8.5" lengthAdjust="spacingAndGlyphs" opacity="0.999">100</text>
<line x1="63" y1="251.8" x2="70.2" y2="251.8" stroke="#222" stroke-width="0.6"/>
<line x1="90.8" y1="251.8" x2="98" y2="251.8" stroke="#222" stroke-width="0.6"/>
<text x="54.6" y="261.3" font-size="5" text-anchor="middle" fill="#333" font-weight="normal" textLength="8.5" lengthAdjust="spacingAndGlyphs" opacity="0.999">100</text>
<text x="101" y="261.3" font-size="5" text-anchor="middle" fill="#333" font-weight="normal" textLength="8.5" lengthAdjust="spacingAndGlyphs" opacity="0.999">100</text>
<line x1="58" y1="263" x2="66" y2="263" stroke="#222" stroke-width="0.6"/>
<line x1="94.6" y1="263" x2="99" y2="263" stroke="#222" stroke-width="0.6"/>
<line x1="97.2" y1="213.3" x2="97.2" y2="237" stroke="#222" stroke-width="0.6"/>
<text x="95.2" y="225" font-size="4.8" text-anchor="middle" fill="#333" font-weight="normal" textLength="8" lengthAdjust="spacingAndGlyphs" transform="rotate(-90 95.2 225)" opacity="0.999">400</text>
<line x1="107.5" y1="213.3" x2="107.5" y2="287" stroke="#222" stroke-width="0.6"/>
<text x="112.6" y="236.4" font-size="4.8" text-anchor="middle" fill="#333" font-weight="normal" textLength="8" lengthAdjust="spacingAndGlyphs" transform="rotate(-90 112.6 236.4)" opacity="0.999">800</text>
<line x1="130.3" y1="213.3" x2="130.3" y2="231.3" stroke="#222" stroke-width="0.6"/>
<text x="128.4" y="222.3" font-size="4.8" text-anchor="middle" fill="#333" font-weight="normal" textLength="8" lengthAdjust="spacingAndGlyphs" transform="rotate(-90 128.4 222.3)" opacity="0.999">100</text>
<text x="112.5" y="262" font-size="4.8" text-anchor="middle" fill="#333" font-weight="normal" textLength="8" lengthAdjust="spacingAndGlyphs" transform="rotate(-90 112.5 262)" opacity="0.999">100</text>
<text x="112.5" y="276" font-size="4.8" text-anchor="middle" fill="#333" font-weight="normal" textLength="8" lengthAdjust="spacingAndGlyphs" transform="rotate(-90 112.5 276)" opacity="0.999">350</text>
<line x1="105" y1="214.5" x2="110" y2="212.1" stroke="#222" stroke-width="0.6"/>
<line x1="105" y1="238.2" x2="110" y2="235.8" stroke="#222" stroke-width="0.6"/>
<line x1="105" y1="261.4" x2="110" y2="259" stroke="#222" stroke-width="0.6"/>
<line x1="105" y1="265.7" x2="110" y2="263.3" stroke="#222" stroke-width="0.6"/>
<line x1="105" y1="288.2" x2="110" y2="285.8" stroke="#222" stroke-width="0.6"/>
<line x1="70.5" y1="291.3" x2="90.8" y2="291.3" stroke="#222" stroke-width="0.6"/>
<line x1="66" y1="299" x2="94.6" y2="299" stroke="#222" stroke-width="0.6"/>
<text x="80.3" y="297.5" font-size="5.2" text-anchor="middle" fill="#333" font-weight="normal" textLength="9" lengthAdjust="spacingAndGlyphs" opacity="0.999">450</text>
<line x1="61" y1="306" x2="99.6" y2="306" stroke="#222" stroke-width="0.6"/>
<text x="80.3" y="304.6" font-size="5.2" text-anchor="middle" fill="#333" font-weight="normal" textLength="9" lengthAdjust="spacingAndGlyphs" opacity="0.999">650</text>
<text x="80.3" y="312.6" font-size="5.2" text-anchor="middle" fill="#333" font-weight="normal" textLength="9" lengthAdjust="spacingAndGlyphs" opacity="0.999">750</text>
<line x1="66" y1="297.5" x2="66" y2="300.5" stroke="#222" stroke-width="0.6"/>
<line x1="94.6" y1="297.5" x2="94.6" y2="300.5" stroke="#222" stroke-width="0.6"/>
<line x1="61" y1="304.5" x2="61" y2="307.5" stroke="#222" stroke-width="0.6"/>
<line x1="99.6" y1="304.5" x2="99.6" y2="307.5" stroke="#222" stroke-width="0.6"/>
<line x1="70.5" y1="289.8" x2="70.5" y2="292.8" stroke="#222" stroke-width="0.6"/>
<line x1="90.8" y1="289.8" x2="90.8" y2="292.8" stroke="#222" stroke-width="0.6"/>
<path d="M148.73 310.35H150.79M148.54 312.2H151.27M148.69 314.05H151.27M149.75 310V314.4M148.52 311.32V313.96M150.98 311.32V313.96M152.17 310.22V314.18M151.71 311.54H152.88M153.4 310V314.4M154.79 310.44V314.18M153.08 310.66H154.79M153.08 312.2H154.79M155.45 310.35H157.7M155.46 312.2H157.88M155.75 314.05H158.26M156.67 310V314.4M155.52 311.32V313.96M157.98 311.32V313.96M158.75 310.35H161.5M158.79 312.2H161.51M159.13 314.05H161.35M160.22 310V314.4M159.02 311.32V313.96M161.48 311.32V313.96M162.67 310.22V314.18M162.21 311.54H163.27M163.79 310V314.4M165.29 310.44V314.18M163.47 310.66H165.29M163.47 312.2H165.29M163.47 313.74H165.29M166.16 310.35H168.47M165.98 312.2H168.67M166.14 314.05H168.67M167.11 310V314.4M166.02 311.32V313.96M168.48 311.32V313.96" stroke="#000" stroke-width="0.64" fill="none" opacity="1.0"/>
<line x1="147" y1="316.8" x2="170" y2="316.8" stroke="#111" stroke-width="1.1"/>
<path d="M125.73 244.55H127.75M125.83 246.4H127.89M125.71 248.25H128.29M126.62 244.2V248.6M125.58 245.52V248.16M128.02 245.52V248.16M129.33 244.55H131.6M129.21 245.78H131.55M129.22 247.02H131.74M129.09 248.25H131.87M130.55 244.2V248.6M130.4 246.4L128.87 248.6M130.4 246.4L131.93 248.6" stroke="#000" stroke-width="0.64" fill="none" opacity="1.0"/>
<text x="135.95" y="248.8" font-size="6.4" text-anchor="middle" fill="#333" font-weight="normal" textLength="6.9" lengthAdjust="spacingAndGlyphs" opacity="0.999">C30</text>
<path d="M140.43 244.42V248.38M139.97 245.74H140.85M141.37 244.2V248.6M143.03 244.64V248.38M141.05 244.86H143.03M141.05 246.4H143.03M141.05 247.94H143.03M143.64 244.55H146.54M144.05 246.4H146.34M144.18 248.25H146.07M145.28 244.2V248.6M143.88 245.52V248.16M146.32 245.52V248.16M147.69 244.55H149.91M147.32 246.4H149.99M147.39 248.25H149.83M148.97 244.2V248.6M147.48 245.52V248.16M149.92 245.52V248.16M151.23 244.42V248.38M150.77 245.74H152.02M152.53 244.2V248.6M153.83 244.64V248.38M152.22 244.86H153.83M152.22 246.4H153.83M152.22 247.94H153.83M154.61 244.55H156.93M154.88 245.78H157.35M154.38 247.02H157.3M154.73 248.25H157.2M155.6 244.2V248.6M155.9 246.4L154.37 248.6M155.9 246.4L157.43 248.6M158.45 244.55H160.91M158.32 246.4H160.47M158.5 248.25H160.82M159.54 244.2V248.6M158.28 245.52V248.16M160.72 245.52V248.16M161.57 244.55H164.5M161.79 246.4H164.09M161.63 248.25H164.09M163.37 244.2V248.6M161.88 245.52V248.16M164.32 245.52V248.16" stroke="#000" stroke-width="0.64" fill="none" opacity="1.0"/>
<polyline points="122,251.5 170,251.5 173,232" fill="none" stroke="#333" stroke-width="0.6"/>
<text x="184.3" y="241" font-size="7.5" text-anchor="middle" fill="#444" font-weight="normal" textLength="4" lengthAdjust="spacingAndGlyphs" opacity="0.999">C</text>
<path d="M247.19 245.85H249.27M247.24 247.08H249.48M247.21 248.32H249.3M246.87 249.55H249.43M248.52 245.5V249.9M248.3 247.7L246.77 249.9M248.3 247.7L249.83 249.9M250.79 245.85H253.14M250.46 247.7H252.87M250.74 249.55H253.39M251.74 245.5V249.9M251.9 247.7L250.37 249.9M251.9 247.7L253.43 249.9" stroke="#000" stroke-width="0.64" fill="none" opacity="1.0"/>
<text x="257.45" y="250.1" font-size="6.4" text-anchor="middle" fill="#333" font-weight="normal" textLength="6.9" lengthAdjust="spacingAndGlyphs" opacity="0.999">C30</text>
<path d="M261.93 245.72V249.68M261.47 247.04H262.52M263.04 245.5V249.9M264.53 245.94V249.68M262.72 246.16H264.53M262.72 247.7H264.53M265.47 245.85H267.98M265.63 247.08H268.01M265.07 248.32H267.84M265.32 249.55H267.55M266.88 245.5V249.9M266.6 247.7L265.07 249.9M266.6 247.7L268.13 249.9M269.13 245.72V249.68M268.67 247.04H269.8M270.31 245.5V249.9M271.73 245.94V249.68M270 246.16H271.73M270 247.7H271.73M270 249.24H271.73M272.73 245.72V249.68M272.27 247.04H273.21M273.73 245.5V249.9M275.33 245.94V249.68M273.41 246.16H275.33M273.41 247.7H275.33M276.33 245.72V249.68M275.87 247.04H277.18M277.7 245.5V249.9M278.93 245.94V249.68M277.38 246.16H278.93M277.38 247.7H278.93M279.93 245.72V249.68M279.47 247.04H280.71M281.23 245.5V249.9M282.53 245.94V249.68M280.91 246.16H282.53M280.91 247.7H282.53M283.13 245.85H285.65M283.61 247.7H285.57M283.07 249.55H285.61M284.63 245.5V249.9M284.6 247.7L283.07 249.9M284.6 247.7L286.13 249.9" stroke="#000" stroke-width="0.64" fill="none" opacity="1.0"/>
<polyline points="240.5,241 246,250.9 290,250.9" fill="none" stroke="#333" stroke-width="0.6"/>
<path d="M257.73 266.52V270.48M257.27 267.84H258.43M258.94 266.3V270.7M260.33 266.74V270.48M258.63 266.96H260.33M258.63 268.5H260.33M261.2 266.65H263.75M261.11 267.88H263.93M261.33 269.12H263.92M261.38 270.35H263.43M262.37 266.3V270.7M261.18 267.62V270.26M263.62 267.62V270.26" stroke="#000" stroke-width="0.64" fill="none" opacity="1.0"/>
<text x="267.95" y="270.9" font-size="6.4" text-anchor="middle" fill="#333" font-weight="normal" textLength="6.9" lengthAdjust="spacingAndGlyphs" opacity="0.999">C15</text>
<path d="M272.38 266.65H274.43M272.34 268.5H274.98M272.29 270.35H274.62M273.25 266.3V270.7M272.28 267.62V270.26M274.72 267.62V270.26M275.62 266.65H278.46M275.76 268.5H278.45M275.87 270.35H278.28M277 266.3V270.7M275.88 267.62V270.26M278.32 267.62V270.26M279.63 266.52V270.48M279.17 267.84H280.06M280.58 266.3V270.7M282.23 266.74V270.48M280.26 266.96H282.23M280.26 268.5H282.23" stroke="#000" stroke-width="0.64" fill="none" opacity="1.0"/>
<polyline points="245,264 252,272 284.4,272" fill="none" stroke="#333" stroke-width="0.6"/>
<path d="M258.67 278.71V282.49M258.21 279.97H259.3M259.8 278.5V282.7M261.29 278.92V282.49M259.5 279.13H261.29M259.5 280.6H261.29M259.5 282.07H261.29M262.11 278.84H264.23M262.16 280.01H264.3M262.27 281.19H264.27M262.15 282.36H264.77M263.36 278.5V282.7M263.25 280.6L261.71 282.7M263.25 280.6L264.79 282.7M265.67 278.71V282.49M265.21 279.97H266.49M267 278.5V282.7M268.29 278.92V282.49M266.69 279.13H268.29M266.69 280.6H268.29M268.98 278.84H271.35M268.87 280.6H271.6M268.92 282.36H271.59M270 278.5V282.7M269.02 279.76V282.28M271.48 279.76V282.28" stroke="#000" stroke-width="0.61" fill="none" opacity="1.0"/>
<polyline points="240,277 249,284.7 279.3,284.7" fill="none" stroke="#333" stroke-width="0.6"/>
<path d="M224.61 292.84H226.96M224.59 294.01H226.79M224.66 295.19H227.05M224.69 296.36H227.24M225.75 292.5V296.7M224.51 293.76V296.28M226.94 293.76V296.28M228.11 292.71V296.49M227.66 293.97H228.68M229.19 292.5V296.7M230.69 292.92V296.49M228.88 293.13H230.69M228.88 294.6H230.69M228.88 296.07H230.69M231.56 292.71V296.49M231.11 293.97H232.32M232.82 292.5V296.7M234.14 292.92V296.49M232.52 293.13H234.14M232.52 294.6H234.14M234.88 292.84H237.53M235.06 294.6H237.4M234.94 296.36H237.37M236.1 292.5V296.7M236.08 294.6L234.56 296.7M236.08 294.6L237.59 296.7" stroke="#000" stroke-width="0.61" fill="none" opacity="1.0"/>
<line x1="231" y1="304.2" x2="238" y2="304.2" stroke="#333" stroke-width="0.6"/>
<polygon points="238.5,304.2 235.5,303.4 235.5,305" fill="#222" stroke="none" stroke-width="0.8"/>
<text x="233.4" y="311.2" font-size="6.2" text-anchor="middle" fill="#333" font-weight="normal" textLength="3.4" lengthAdjust="spacingAndGlyphs" opacity="0.999">B</text>
<line x1="257" y1="231.3" x2="257" y2="242" stroke="#333" stroke-width="0.6"/>
<line x1="258" y1="213.3" x2="271" y2="213.3" stroke="#333" stroke-width="0.6"/>
<rect x="264.2" y="207" width="3" height="11" fill="none" stroke="#444" stroke-width="0.6"/>
<line x1="264.2" y1="210.5" x2="267.2" y2="210.5" stroke="#444" stroke-width="0.5"/>
<line x1="264.2" y1="214.5" x2="267.2" y2="214.5" stroke="#444" stroke-width="0.5"/>
<line x1="172" y1="232" x2="170" y2="251.5" stroke="#333" stroke-width="0.6"/>
<line x1="308.2" y1="38.4" x2="458.8" y2="38.4" stroke="#222" stroke-width="0.7"/>
<line x1="308.2" y1="37.9" x2="308.2" y2="42.9" stroke="#333" stroke-width="0.6"/>
<line x1="458.8" y1="37.9" x2="458.8" y2="42.9" stroke="#333" stroke-width="0.6"/>
<rect x="308.2" y="37.7" width="2.2" height="1.4" fill="#111" stroke="none" stroke-width="0.8"/>
<rect x="456.6" y="37.7" width="2.2" height="1.4" fill="#111" stroke="none" stroke-width="0.8"/>
<line x1="311.1" y1="47.3" x2="455.5" y2="47.3" stroke="#222" stroke-width="0.7"/>
<line x1="311.1" y1="46.8" x2="311.1" y2="51.8" stroke="#333" stroke-width="0.6"/>
<line x1="455.5" y1="46.8" x2="455.5" y2="51.8" stroke="#333" stroke-width="0.6"/>
<rect x="311.1" y="46.6" width="2.2" height="1.4" fill="#111" stroke="none" stroke-width="0.8"/>
<rect x="453.3" y="46.6" width="2.2" height="1.4" fill="#111" stroke="none" stroke-width="0.8"/>
<line x1="312.6" y1="56.2" x2="454.3" y2="56.2" stroke="#222" stroke-width="0.7"/>
<line x1="312.6" y1="55.7" x2="312.6" y2="60.7" stroke="#333" stroke-width="0.6"/>
<line x1="454.3" y1="55.7" x2="454.3" y2="60.7" stroke="#333" stroke-width="0.6"/>
<rect x="312.6" y="55.5" width="2.2" height="1.4" fill="#111" stroke="none" stroke-width="0.8"/>
<rect x="452.1" y="55.5" width="2.2" height="1.4" fill="#111" stroke="none" stroke-width="0.8"/>
<rect x="382.6" y="34.5" width="1" height="1" fill="#555" stroke="none" stroke-width="0.8"/>
<rect x="382.6" y="43.5" width="1" height="1" fill="#555" stroke="none" stroke-width="0.8"/>
<rect x="381.5" y="52.5" width="3" height="0.9" fill="#555" stroke="none" stroke-width="0.8"/>
<rect x="287.3" y="66.9" width="198.7" height="13" fill="#e6e6e6" stroke="none" stroke-width="0.8"/>
<rect x="287.3" y="79.9" width="198.7" height="6.7" fill="#c0c0c0" stroke="none" stroke-width="0.8"/>
<path d="M290.05 67.2V79.4M293.55 67.2V79.4M297.05 67.2V79.4M300.55 67.2V79.4M304.05 67.2V79.4M307.55 67.2V79.4M311.05 67.2V79.4M314.55 67.2V79.4M318.05 67.2V79.4M321.55 67.2V79.4M325.05 67.2V79.4M328.55 67.2V79.4M332.05 67.2V79.4M335.55 67.2V79.4M339.05 67.2V79.4M342.55 67.2V79.4M346.05 67.2V79.4M349.55 67.2V79.4M353.05 67.2V79.4M356.55 67.2V79.4M360.05 67.2V79.4M363.55 67.2V79.4M367.05 67.2V79.4M370.55 67.2V79.4M374.05 67.2V79.4M377.55 67.2V79.4M381.05 67.2V79.4M384.55 67.2V79.4M388.05 67.2V79.4M391.55 67.2V79.4M395.05 67.2V79.4M398.55 67.2V79.4M402.05 67.2V79.4M405.55 67.2V79.4M409.05 67.2V79.4M412.55 67.2V79.4M416.05 67.2V79.4M419.55 67.2V79.4M423.05 67.2V79.4M426.55 67.2V79.4M430.05 67.2V79.4M433.55 67.2V79.4M437.05 67.2V79.4M440.55 67.2V79.4M444.05 67.2V79.4M447.55 67.2V79.4M451.05 67.2V79.4M454.55 67.2V79.4M458.05 67.2V79.4M461.55 67.2V79.4M465.05 67.2V79.4M468.55 67.2V79.4M472.05 67.2V79.4M475.55 67.2V79.4M479.05 67.2V79.4M482.55 67.2V79.4M486.05 67.2V79.4" stroke="#fafafa" stroke-width="1.0" fill="none"/>
<path d="M288.3 66.9V80.4M291.8 66.9V80.4M295.3 66.9V80.4M298.8 66.9V80.4M302.3 66.9V80.4M305.8 66.9V80.4M309.3 66.9V80.4M312.8 66.9V80.4M316.3 66.9V80.4M319.8 66.9V80.4M323.3 66.9V80.4M326.8 66.9V80.4M330.3 66.9V80.4M333.8 66.9V80.4M337.3 66.9V80.4M340.8 66.9V80.4M344.3 66.9V80.4M347.8 66.9V80.4M351.3 66.9V80.4M354.8 66.9V80.4M358.3 66.9V80.4M361.8 66.9V80.4M365.3 66.9V80.4M368.8 66.9V80.4M372.3 66.9V80.4M375.8 66.9V80.4M379.3 66.9V80.4M382.8 66.9V80.4M386.3 66.9V80.4M389.8 66.9V80.4M393.3 66.9V80.4M396.8 66.9V80.4M400.3 66.9V80.4M403.8 66.9V80.4M407.3 66.9V80.4M410.8 66.9V80.4M414.3 66.9V80.4M417.8 66.9V80.4M421.3 66.9V80.4M424.8 66.9V80.4M428.3 66.9V80.4M431.8 66.9V80.4M435.3 66.9V80.4M438.8 66.9V80.4M442.3 66.9V80.4M445.8 66.9V80.4M449.3 66.9V80.4M452.8 66.9V80.4M456.3 66.9V80.4M459.8 66.9V80.4M463.3 66.9V80.4M466.8 66.9V80.4M470.3 66.9V80.4M473.8 66.9V80.4M477.3 66.9V80.4M480.8 66.9V80.4M484.3 66.9V80.4" stroke="#4a4a4a" stroke-width="0.58" fill="none"/>
<path d="M290.05 80.9V85.6M293.55 80.9V85.6M297.05 80.9V85.6M300.55 80.9V85.6M304.05 80.9V85.6M307.55 80.9V85.6M311.05 80.9V85.6M314.55 80.9V85.6M318.05 80.9V85.6M321.55 80.9V85.6M325.05 80.9V85.6M328.55 80.9V85.6M332.05 80.9V85.6M335.55 80.9V85.6M339.05 80.9V85.6M342.55 80.9V85.6M346.05 80.9V85.6M349.55 80.9V85.6M353.05 80.9V85.6M356.55 80.9V85.6M360.05 80.9V85.6M363.55 80.9V85.6M367.05 80.9V85.6M370.55 80.9V85.6M374.05 80.9V85.6M377.55 80.9V85.6M381.05 80.9V85.6M384.55 80.9V85.6M388.05 80.9V85.6M391.55 80.9V85.6M395.05 80.9V85.6M398.55 80.9V85.6M402.05 80.9V85.6M405.55 80.9V85.6M409.05 80.9V85.6M412.55 80.9V85.6M416.05 80.9V85.6M419.55 80.9V85.6M423.05 80.9V85.6M426.55 80.9V85.6M430.05 80.9V85.6M433.55 80.9V85.6M437.05 80.9V85.6M440.55 80.9V85.6M444.05 80.9V85.6M447.55 80.9V85.6M451.05 80.9V85.6M454.55 80.9V85.6M458.05 80.9V85.6M461.55 80.9V85.6M465.05 80.9V85.6M468.55 80.9V85.6M472.05 80.9V85.6M475.55 80.9V85.6M479.05 80.9V85.6M482.55 80.9V85.6M486.05 80.9V85.6" stroke="#e0e0e0" stroke-width="0.7" fill="none"/>
<path d="M287.76 79.9L287.82 86.6M292.04 79.9L292.12 86.6M296 79.9L295.82 86.6M299.46 79.9L299.84 86.6M303.05 79.9L302.23 86.6M305.34 79.9L304.91 86.6M309.95 79.9L308.98 86.6M312.42 79.9L312.85 86.6M317.08 79.9L316.44 86.6M319.7 79.9L320.07 86.6M323.61 79.9L324.1 86.6M327.21 79.9L326.7 86.6M329.91 79.9L328.97 86.6M334.11 79.9L333.52 86.6M336.92 79.9L337.84 86.6M341.03 79.9L341.21 86.6M344.55 79.9L344.75 86.6M348.11 79.9L347.72 86.6M350.6 79.9L349.74 86.6M354.02 79.9L353.75 86.6M357.73 79.9L356.95 86.6M361.79 79.9L362.73 86.6M365.6 79.9L365.15 86.6M369.23 79.9L368.59 86.6M371.66 79.9L371.27 86.6M375.65 79.9L376.03 86.6M379.21 79.9L379.67 86.6M382.15 79.9L383.02 86.6M386.05 79.9L386.71 86.6M389.05 79.9L389.71 86.6M392.86 79.9L393.57 86.6M397.28 79.9L397.63 86.6M399.94 79.9L398.96 86.6M403.3 79.9L404.11 86.6M406.75 79.9L407.07 86.6M410.94 79.9L411.26 86.6M413.79 79.9L413.08 86.6M417.16 79.9L418.12 86.6M421.11 79.9L421.42 86.6M424.91 79.9L424.36 86.6M427.6 79.9L426.63 86.6M432.36 79.9L431.62 86.6M436.04 79.9L435.77 86.6M439.16 79.9L438.43 86.6M442.76 79.9L442.26 86.6M445.59 79.9L445.63 86.6M448.68 79.9L448.17 86.6M453.27 79.9L452.84 86.6M456.11 79.9L456.64 86.6M459.36 79.9L458.75 86.6M462.85 79.9L462.62 86.6M466.58 79.9L466.87 86.6M470.25 79.9L470.99 86.6M473.08 79.9L473.41 86.6M477.84 79.9L477.31 86.6M480.05 79.9L479.92 86.6M483.69 79.9L483.61 86.6" stroke="#555" stroke-width="0.6" fill="none"/>
<line x1="287.3" y1="86.9" x2="486" y2="86.9" stroke="#666" stroke-width="0.6"/>
<line x1="287.3" y1="88.6" x2="486" y2="88.6" stroke="#151515" stroke-width="1.5"/>
<path d="M289.3 87.6v2.2M292.8 87.6v2.2M296.3 87.6v2.2M299.8 87.6v2.2M303.3 87.6v2.2M306.8 87.6v2.2M310.3 87.6v2.2M313.8 87.6v2.2M317.3 87.6v2.2M320.8 87.6v2.2M324.3 87.6v2.2M327.8 87.6v2.2M331.3 87.6v2.2M334.8 87.6v2.2M338.3 87.6v2.2M341.8 87.6v2.2M345.3 87.6v2.2M348.8 87.6v2.2M352.3 87.6v2.2M355.8 87.6v2.2M359.3 87.6v2.2M362.8 87.6v2.2M366.3 87.6v2.2M369.8 87.6v2.2M373.3 87.6v2.2M376.8 87.6v2.2M380.3 87.6v2.2M383.8 87.6v2.2M387.3 87.6v2.2M390.8 87.6v2.2M394.3 87.6v2.2M397.8 87.6v2.2M401.3 87.6v2.2M404.8 87.6v2.2M408.3 87.6v2.2M411.8 87.6v2.2M415.3 87.6v2.2M418.8 87.6v2.2M422.3 87.6v2.2M425.8 87.6v2.2M429.3 87.6v2.2M432.8 87.6v2.2M436.3 87.6v2.2M439.8 87.6v2.2M443.3 87.6v2.2M446.8 87.6v2.2M450.3 87.6v2.2M453.8 87.6v2.2M457.3 87.6v2.2M460.8 87.6v2.2M464.3 87.6v2.2M467.8 87.6v2.2M471.3 87.6v2.2M474.8 87.6v2.2M478.3 87.6v2.2M481.8 87.6v2.2M485.3 87.6v2.2" stroke="#000" stroke-width="0.9" fill="none"/>
<clipPath id="cl1"><polygon points="287.6,89.5 486,89.5 485.8,142.9 478.1,148 494.2,148 485.8,153.9 485.8,210.8 287.6,210.8 287.6,154 296,148.3 278.7,148.3 287.6,142"/></clipPath>
<g clip-path="url(#cl1)">
<path d="M279.9 89.5V210.8M285.1 89.5V210.8M290.3 89.5V210.8M295.5 89.5V210.8M300.7 89.5V210.8M305.9 89.5V210.8M311.1 89.5V210.8M316.3 89.5V210.8M321.5 89.5V210.8M326.7 89.5V210.8M331.9 89.5V210.8M337.1 89.5V210.8M342.3 89.5V210.8M347.5 89.5V210.8M352.7 89.5V210.8M357.9 89.5V210.8M363.1 89.5V210.8M368.3 89.5V210.8M373.5 89.5V210.8M378.7 89.5V210.8M383.9 89.5V210.8M389.1 89.5V210.8M394.3 89.5V210.8M399.5 89.5V210.8M404.7 89.5V210.8M409.9 89.5V210.8M415.1 89.5V210.8M420.3 89.5V210.8M425.5 89.5V210.8M430.7 89.5V210.8M435.9 89.5V210.8M441.1 89.5V210.8M446.3 89.5V210.8M451.5 89.5V210.8M456.7 89.5V210.8M461.9 89.5V210.8M467.1 89.5V210.8M472.3 89.5V210.8M477.5 89.5V210.8M482.7 89.5V210.8M487.9 89.5V210.8M493.1 89.5V210.8" stroke="#2a2a2a" stroke-width="0.5" fill="none"/>
<path d="M282.5 89.5V210.8M287.7 89.5V210.8M292.9 89.5V210.8M298.1 89.5V210.8M303.3 89.5V210.8M308.5 89.5V210.8M313.7 89.5V210.8M318.9 89.5V210.8M324.1 89.5V210.8M329.3 89.5V210.8M334.5 89.5V210.8M339.7 89.5V210.8M344.9 89.5V210.8M350.1 89.5V210.8M355.3 89.5V210.8M360.5 89.5V210.8M365.7 89.5V210.8M370.9 89.5V210.8M376.1 89.5V210.8M381.3 89.5V210.8M386.5 89.5V210.8M391.7 89.5V210.8M396.9 89.5V210.8M402.1 89.5V210.8M407.3 89.5V210.8M412.5 89.5V210.8M417.7 89.5V210.8M422.9 89.5V210.8M428.1 89.5V210.8M433.3 89.5V210.8M438.5 89.5V210.8M443.7 89.5V210.8M448.9 89.5V210.8M454.1 89.5V210.8M459.3 89.5V210.8M464.5 89.5V210.8M469.7 89.5V210.8M474.9 89.5V210.8M480.1 89.5V210.8M485.3 89.5V210.8M490.5 89.5V210.8" stroke="#666" stroke-width="0.45" fill="none"/>
<path d="M278.7 94.2H494.2M278.7 98.9H494.2M278.7 103.6H494.2M278.7 108.3H494.2M278.7 113H494.2M278.7 117.7H494.2M278.7 122.4H494.2M278.7 127.1H494.2M278.7 131.8H494.2M278.7 136.5H494.2M278.7 141.2H494.2M278.7 145.9H494.2M278.7 150.6H494.2M278.7 155.3H494.2M278.7 160H494.2M278.7 164.7H494.2M278.7 169.4H494.2M278.7 174.1H494.2M278.7 178.8H494.2M278.7 183.5H494.2M278.7 188.2H494.2M278.7 192.9H494.2M278.7 197.6H494.2M278.7 202.3H494.2M278.7 207H494.2" stroke="#2a2a2a" stroke-width="0.55" fill="none"/>
</g>
<polyline points="287.6,142 278.7,148.3 296,148.3 287.6,154" fill="none" stroke="#222" stroke-width="0.7"/>
<polyline points="485.8,142.9 478.1,148 494.2,148 485.8,153.9" fill="none" stroke="#222" stroke-width="0.7"/>
<line x1="296" y1="148.3" x2="309" y2="150.5" stroke="#333" stroke-width="0.6"/>
<line x1="287.6" y1="124.1" x2="485.8" y2="124.1" stroke="#222" stroke-width="0.5"/>
<line x1="287.6" y1="176" x2="485.8" y2="176" stroke="#222" stroke-width="0.5"/>
<line x1="287.6" y1="191.1" x2="485.8" y2="191.1" stroke="#222" stroke-width="0.5"/>
<rect x="287.3" y="210.8" width="198.7" height="2.4" fill="#cfcfcf" stroke="none" stroke-width="0.8"/>
<line x1="287.3" y1="210.9" x2="486" y2="210.9" stroke="#333" stroke-width="0.7"/>
<polygon points="287.4,213.2 486,213.2 486,231.5 468.7,231.5 468.7,260.4 448.1,260.4 448.1,231.5 318.6,231.5 318.6,260.3 298.4,260.3 298.4,231.5 287.4,231.5" fill="url(#hatch)" stroke="#444" stroke-width="0.7"/>
<path d="M428.17 215.5h0.9M311.2 221.67h0.9M322.24 217.69h0.9M374.73 215.89h0.9M301.38 219.78h0.9M380.43 228.99h0.9M397.29 215.14h0.9M331.81 225.91h0.9M398.89 227.92h0.9M477.6 227.73h0.9M309.68 229.1h0.9M391.39 217.84h0.9M321.62 227.83h0.9M329.84 215.33h0.9M340.26 228.79h0.9M378.8 225.7h0.9M302.66 221.25h0.9M350.61 217.29h0.9M418.6 219.78h0.9M311.58 229.75h0.9M382.87 216.88h0.9M290.14 224.45h0.9M389.39 214.39h0.9M380.65 225.85h0.9M393.81 217.75h0.9M386.3 223.68h0.9M416.27 216.32h0.9M446.32 229.13h0.9M433.85 227.72h0.9M360.44 228.44h0.9M323.8 217.63h0.9M405.8 228.43h0.9M304.15 217.47h0.9M295.07 221.02h0.9M315.68 217.06h0.9M435.54 223.33h0.9M473.07 220.43h0.9M421.79 214.2h0.9M474.83 217.73h0.9M381.98 222.19h0.9M474.82 221.87h0.9M483.39 223.94h0.9M330.63 227.34h0.9M327.78 229.99h0.9M377.95 217.62h0.9M477.36 219.15h0.9M368.17 219.49h0.9M419.73 214.37h0.9M361.67 216.59h0.9M451.12 214h0.9M407.68 218.13h0.9M377.47 222.99h0.9M428.21 216.2h0.9M335.37 215.93h0.9M477.17 216.39h0.9M315.01 222.36h0.9M402.54 228.18h0.9M299.21 217.75h0.9M321 223.37h0.9M377.13 220.54h0.9M463.01 224.59h0.9M457.46 229.31h0.9M340.98 229.07h0.9M368.33 214.83h0.9M468.21 215.67h0.9M291.45 218.63h0.9M344.93 229.47h0.9M459.48 220.72h0.9M392.29 227.58h0.9M446.99 224.45h0.9M389.02 215.87h0.9M336.02 224.53h0.9M403.5 226.82h0.9M465.06 229.4h0.9M325.96 215.22h0.9M464.82 223.13h0.9M323.76 225.07h0.9M338.36 217.78h0.9M360.15 222.38h0.9M421.45 215.17h0.9M434.03 223.99h0.9M380.92 224.75h0.9M445.52 214.15h0.9M381.64 224.85h0.9M427.7 224.36h0.9M323.51 229.34h0.9M442.78 217.73h0.9M372.84 229.33h0.9M328.81 220.55h0.9M477.43 228.4h0.9M333.8 225.76h0.9M358.86 224.61h0.9M439.08 216.04h0.9M331.85 217.44h0.9M340.41 214.57h0.9M314.79 220.5h0.9M370.89 215.24h0.9M402.72 229.08h0.9M401.66 219.69h0.9M426.77 221h0.9M322.56 221.71h0.9M291.47 224.82h0.9M319.7 219.92h0.9M477.61 226.27h0.9M452.6 224.27h0.9M413.01 225.28h0.9M478.37 217.14h0.9M438.94 218.81h0.9M338.39 227.15h0.9M406.42 227.59h0.9M460.4 223.42h0.9M327.07 214.24h0.9M393.37 225.61h0.9M341.67 215.12h0.9M288.94 216.77h0.9M425.09 214.06h0.9M333.3 218.24h0.9M428.09 229.8h0.9M291.81 215.83h0.9M472.12 229.52h0.9M317.28 219.37h0.9M390.9 219.12h0.9M370.23 221.66h0.9M338.93 214.88h0.9M304.53 216.6h0.9M306 223.98h0.9M425.24 218.21h0.9M443.97 225.66h0.9M355.31 221.87h0.9M325.11 228.86h0.9M398.39 214.82h0.9M318.32 225.08h0.9M363.89 225.47h0.9M333.19 226.75h0.9M445.99 215.51h0.9M403.48 217.06h0.9M427.43 226.86h0.9M443.88 217.7h0.9M306.38 224.62h0.9M399.31 216.21h0.9M325.97 223.32h0.9M309.26 224.14h0.9M335.46 218.14h0.9M371.42 222.53h0.9M430.71 214.49h0.9M430.7 217.54h0.9M345.29 224.24h0.9M424.17 223.84h0.9M465.66 217.27h0.9M349.29 224.6h0.9M339.37 216.52h0.9M332.58 226.34h0.9M450.92 225.46h0.9M476.87 226.71h0.9M349.01 219.05h0.9M430.07 214.89h0.9M408.01 215.43h0.9M297.67 222.22h0.9M317.8 228.91h0.9M460.82 221.39h0.9M326.95 215.91h0.9M387.84 222.34h0.9M359.48 225.46h0.9M392.26 226.41h0.9M308.92 215.12h0.9M364.24 221.74h0.9M337.76 224.7h0.9M331.71 219.09h0.9M381.95 225.4h0.9M439.75 219.95h0.9M376.03 228.84h0.9M471.98 223.9h0.9M308.67 221.29h0.9M413.45 218.46h0.9M295.36 229.7h0.9M467.2 216.06h0.9M379.78 223.91h0.9M347.1 215.1h0.9M435.88 226.33h0.9M374.16 215.37h0.9M365.59 215.5h0.9M477.81 214.82h0.9M344.74 226.29h0.9M314.6 215.7h0.9M301.92 216.62h0.9M392.78 227.33h0.9M321.32 216.78h0.9M438.7 220.81h0.9M354.59 215.97h0.9M335.84 229.55h0.9M311.05 218.15h0.9M433.91 228.27h0.9M466.14 221.56h0.9M476.41 223.66h0.9M344.88 221.44h0.9M429.06 225.74h0.9M313.54 217.1h0.9M476.77 215.71h0.9M448.24 219.42h0.9M336.84 218.08h0.9M380.44 229.85h0.9M317.26 227.67h0.9M351.28 216.76h0.9M434.71 219.47h0.9M324.94 220.69h0.9M449.87 227.81h0.9M401.25 214.17h0.9M438.39 223.7h0.9M465.18 229.23h0.9M352.43 227.58h0.9M449.33 218.26h0.9M360.07 219.99h0.9M357.52 220.05h0.9M309.72 217.63h0.9M467.18 220.57h0.9M413.25 228.2h0.9M436.85 217.91h0.9M469.16 226.87h0.9M483.16 225.65h0.9M436.7 227.01h0.9M337.88 224.49h0.9M362.99 227.44h0.9M314.32 222.63h0.9M354.27 227.13h0.9M356.02 227.5h0.9M455.03 228.06h0.9M315.4 229.01h0.9M434.62 224.83h0.9M416.53 214.77h0.9M459.42 222.76h0.9M377.77 219.43h0.9M442.23 226.52h0.9M459.36 217.43h0.9M355.07 217.99h0.9M307.78 219.23h0.9M293.12 226.74h0.9M332.74 215.13h0.9M301.33 225.86h0.9M327.09 221.39h0.9M367.16 226.84h0.9M475.95 218.96h0.9M412.56 228.32h0.9M380.68 228.39h0.9M432.55 218.98h0.9M460.17 223.17h0.9M308.86 223.4h0.9M451.36 222.3h0.9M383.35 220.66h0.9M461.45 224.65h0.9M328.96 219.8h0.9M359.57 229.34h0.9M425.09 216h0.9M468.12 214.56h0.9M404.4 220.92h0.9M429.34 220.87h0.9M306.19 222.38h0.9M449.62 226.62h0.9M358.25 217.56h0.9M434.73 226.83h0.9M331.14 228.13h0.9M483.51 220.94h0.9M362.98 225.36h0.9M471.16 217.23h0.9M347.45 219.26h0.9M432.24 216.99h0.9M395.73 222h0.9M419.68 216.29h0.9M476.46 230h0.9M398.54 226.72h0.9M324.12 228.56h0.9M396.62 226.15h0.9M459.09 219.79h0.9M470.02 217.32h0.9M292.61 222.04h0.9M465.04 228.41h0.9M476.13 222.17h0.9M471.73 222.96h0.9M316.31 224.1h0.9M446.27 220.78h0.9M406.62 218.15h0.9M342.37 220.72h0.9M389.11 221.49h0.9M306.19 214.09h0.9M355.02 225.47h0.9M435.43 217.79h0.9M338.36 222.27h0.9M322.57 223.65h0.9M466.12 217.23h0.9M403.35 225.53h0.9M435.6 225.39h0.9M427.98 218.36h0.9M453.16 228.8h0.9M298.35 229.11h0.9M375.2 215.38h0.9M301.72 226.75h0.9M421.49 216.27h0.9M378.61 224.22h0.9M484.53 219.38h0.9M439.02 217.92h0.9M327.18 216.58h0.9M368.8 223.89h0.9M347.73 216.59h0.9M331.05 215.36h0.9M326.05 219.05h0.9M387.4 216.94h0.9M382.5 221.04h0.9M479.68 221.78h0.9M474.13 221.54h0.9M327 223.47h0.9M316.5 216.71h0.9M302.44 225.22h0.9M478.5 220.45h0.9M357.76 220.8h0.9M357.34 225.05h0.9M365.21 216.44h0.9M458.28 223.16h0.9M289.26 227.59h0.9M431.51 219.67h0.9M412.1 228.72h0.9M367.12 220.92h0.9M346.75 222.87h0.9M418.56 225.76h0.9M475.01 216.33h0.9M360.07 227.63h0.9M443.83 223.44h0.9M421.42 219.44h0.9M474.13 222.79h0.9M367.3 216.92h0.9M310.74 228.36h0.9M445.7 214.43h0.9M351.67 221.67h0.9M385.65 219.82h0.9M464.34 219.6h0.9M392.8 228.87h0.9M413.92 221.63h0.9M353.53 220.19h0.9M408 226.58h0.9M339.34 219.93h0.9M364.38 219.81h0.9M467.86 222.62h0.9M342.34 219.32h0.9M449.83 216.56h0.9M423.92 214.35h0.9M326.05 214.95h0.9M446.7 216.35h0.9M332.91 214.92h0.9M339.98 225.73h0.9M429.87 228.57h0.9M474.55 222.81h0.9M469.62 215.43h0.9M470.24 220.94h0.9M326.01 225.97h0.9M457.15 220.17h0.9M306.35 227.97h0.9M436.45 223.55h0.9M480.43 214.61h0.9M299.02 215.99h0.9M292.29 225.33h0.9M412.13 215.8h0.9M319.92 216.89h0.9M408.02 224.76h0.9M479 219.77h0.9M480.86 220.95h0.9M365.01 218.05h0.9M333.83 229.59h0.9M483.99 225.29h0.9M322.49 216.88h0.9M317.99 219.62h0.9M433.22 214.94h0.9M392.45 224.89h0.9M294.61 221.03h0.9M443.81 223.21h0.9M376.96 228.1h0.9M406.4 219.39h0.9M366 229.09h0.9M457.3 228.64h0.9M398.48 216.28h0.9M322.48 220.13h0.9M424.06 214.07h0.9M446.01 226.58h0.9M389.42 214.09h0.9M445.22 220.63h0.9M419.86 223.12h0.9M431.49 220.54h0.9M477.11 229.29h0.9M471 223.84h0.9M350.32 220.03h0.9M340.98 228.46h0.9M444.06 226.61h0.9M449.78 229.85h0.9M423.54 219.09h0.9M437.24 218.2h0.9M408.34 216.54h0.9M456.96 221.82h0.9M342.2 228.77h0.9M304.35 228.88h0.9M437.12 216.39h0.9M437.93 223.17h0.9M466.72 223.38h0.9M372.17 228.93h0.9M305.19 226.43h0.9M308.27 218.43h0.9M310.4 227.94h0.9M375.03 225.62h0.9M338.55 225.69h0.9M415.8 215.56h0.9M385.29 225.55h0.9M330.26 224.47h0.9M342.75 219.93h0.9M469.23 229.09h0.9M484.59 220.83h0.9M400.64 226.94h0.9M437.43 221.3h0.9M458.13 220.42h0.9M475.15 221.56h0.9M311.37 225.99h0.9M316.54 224.87h0.9M298.54 229.81h0.9M394.57 225.85h0.9M313.84 224.19h0.9M362.17 217.99h0.9M448.54 214.53h0.9M382.15 215.39h0.9M455.72 228.29h0.9M294.78 221.43h0.9M380.4 225.5h0.9M431.64 219.49h0.9M471.76 216.96h0.9M314.92 227.04h0.9M311.66 216.97h0.9M386.53 219.38h0.9M320.27 228.88h0.9M381.36 226.57h0.9M337.29 228.6h0.9M331.57 228.5h0.9M408.73 229.54h0.9M439.92 224.09h0.9M392.99 227.68h0.9M375.38 215.57h0.9M468.01 226.89h0.9M422.35 225.92h0.9M333.71 221.41h0.9M450.11 229.39h0.9M469.88 216.57h0.9M422.72 222.87h0.9M367.81 216.68h0.9M315.01 221.52h0.9M385.15 218.29h0.9M360.43 222.86h0.9M438.09 223.43h0.9M319.94 228.18h0.9M360.43 229.36h0.9M481.39 216.25h0.9M402.71 229.47h0.9M363.85 222.76h0.9M349.83 214.46h0.9M328.3 215.98h0.9M343.99 224.07h0.9M398.92 229.17h0.9M423.04 219.8h0.9M475.03 224.14h0.9M395.02 227.8h0.9M419.97 219.77h0.9M407.15 218.8h0.9M478.94 217.91h0.9M479.66 215.03h0.9M289.94 222.85h0.9M328.54 222.12h0.9M311.28 227.39h0.9M419.81 224.95h0.9M470.55 229.87h0.9M421.61 225.41h0.9M288.35 214.79h0.9M372.03 229.51h0.9M349.66 223.1h0.9M289.74 220.65h0.9M465.8 223.43h0.9M450.4 214.21h0.9M327.94 216.87h0.9M451.96 215.63h0.9M471.62 218.28h0.9M461.46 222.25h0.9M351.73 229.46h0.9M367.8 225.16h0.9M301.25 227.29h0.9M481.3 215.77h0.9M435.01 218.33h0.9M317.14 219.83h0.9M418.38 229.26h0.9M483.81 229.9h0.9M410.79 224.45h0.9M319.74 225.62h0.9M396.6 219.74h0.9M465.32 218.08h0.9M315.91 216.53h0.9M317.43 223.42h0.9M445.77 216.56h0.9M387.05 223.19h0.9M398.41 220.6h0.9M395.09 214.24h0.9M299.44 220.76h0.9M334.64 226.11h0.9M335.66 227.18h0.9M335.57 215.48h0.9M382.06 220.2h0.9M354.1 226.24h0.9M331.8 224.72h0.9M452.44 221.24h0.9M387.11 228.78h0.9M407 216.89h0.9M301.69 215.31h0.9M353.33 215.42h0.9M415.82 220.78h0.9M348.78 222.19h0.9M472.52 217.91h0.9M318.48 218.89h0.9M351.89 228.56h0.9M427.12 220.86h0.9M320.69 214.73h0.9M312.12 227.56h0.9M415.66 216.51h0.9M411.16 214.93h0.9M387.86 219.37h0.9M308.18 225.88h0.9M429.2 222.17h0.9M321.11 224.71h0.9M373.36 224.58h0.9M306.02 228.44h0.9M288.7 217.56h0.9M366.48 217.17h0.9M305.3 225h0.9M483.79 219.36h0.9M340.44 224.73h0.9M331.85 220.41h0.9M423.62 220.89h0.9M318.68 215.13h0.9M394.97 229.85h0.9M469.23 215.6h0.9M386.95 221.82h0.9M326.22 224.72h0.9M385.64 226.94h0.9M345.51 228.94h0.9M448.46 221.58h0.9M315.84 221.74h0.9M313.03 224.97h0.9M425.4 223.25h0.9M480.33 214.72h0.9M428.91 226.81h0.9M310.24 219.15h0.9M298.59 223.33h0.9M430.43 219.57h0.9M425.01 219.87h0.9M428.31 218.43h0.9M480.7 221.01h0.9M288.71 215.46h0.9M431.04 227.84h0.9M413.44 216.49h0.9M459.79 225.47h0.9M310.7 220.09h0.9M420.29 214.06h0.9M296.34 219.66h0.9M460.31 229.94h0.9M350.71 228.54h0.9M442.85 227.84h0.9M403.88 229.51h0.9M414.89 229.17h0.9M399.47 217.14h0.9M390.19 221.73h0.9M354.47 219.98h0.9M388.57 223.41h0.9M331.84 218.44h0.9M387.07 222.06h0.9M370.5 224.63h0.9M324.53 222.51h0.9M342.33 226.32h0.9M426.62 226.5h0.9M389.93 217.98h0.9M470.34 222.17h0.9M361.91 218.65h0.9M367.2 225.34h0.9M449.26 221.72h0.9M432.03 217.41h0.9M377.05 219.73h0.9M348.36 219.75h0.9M436.68 225.73h0.9M328.85 217.74h0.9M442.53 224.47h0.9M421.21 224.16h0.9M424.62 218.36h0.9M299.99 219.77h0.9M294.38 229.39h0.9M391.38 224.72h0.9M478.4 226.87h0.9M333.17 219.39h0.9M309.39 226.73h0.9M433.21 221.8h0.9M360.74 218.32h0.9M383.98 225.39h0.9M464.39 227.58h0.9M458.93 221.03h0.9M370.98 219.02h0.9M479.92 216.93h0.9M319.09 218.49h0.9M469.65 227.64h0.9M353.3 227.63h0.9M463.47 220.84h0.9M325.88 226.36h0.9M361.81 215.91h0.9M465.85 221.03h0.9M366.3 223.52h0.9M338.29 214.32h0.9M364.84 220.07h0.9M290.18 219.95h0.9M437.97 219.33h0.9M421.88 223.99h0.9M325.12 214.33h0.9M420.85 223.78h0.9M345.88 217.2h0.9M456.5 228.55h0.9M333.97 223.38h0.9M401.21 219.15h0.9M295.17 219.21h0.9M414.95 223.63h0.9M388.48 215.96h0.9M329.92 218.98h0.9M370.04 219.81h0.9M465.75 215.86h0.9M482.32 217.85h0.9M456.75 217.9h0.9M403.69 220.04h0.9M295.48 226.74h0.9M447.66 218.31h0.9M440.91 221.67h0.9M482.44 214.87h0.9M362.92 217.65h0.9M411.11 226.45h0.9M453.91 222.77h0.9M364.29 226.79h0.9M308.61 218.16h0.9M436.28 221.05h0.9M483.62 215.46h0.9M378.99 217.4h0.9M288.42 215.5h0.9M305.92 219.9h0.9M373.22 222.12h0.9M344.99 225.23h0.9M389.67 229.71h0.9M321.34 222.17h0.9M385.26 219.95h0.9M457.66 217.35h0.9M460.89 219.72h0.9M354.09 223.84h0.9M398.98 218.54h0.9M304.64 229.28h0.9M360.77 215.83h0.9M417.33 222.51h0.9M352.53 219.25h0.9M454.47 219.42h0.9M370.23 229.31h0.9M359.09 220.43h0.9M319.91 224.6h0.9M418.96 221.14h0.9M367.96 217.72h0.9M443.62 221.32h0.9M451.89 220h0.9M432.5 214.46h0.9M331.28 229.37h0.9M422.42 224.81h0.9M385.91 221.56h0.9M326.91 216.77h0.9M415.11 225.1h0.9M338.97 224.31h0.9M314.82 223.81h0.9M321.81 222.15h0.9M349.86 222.81h0.9M314.4 221.73h0.9M409.47 216.16h0.9M348.81 224.86h0.9M395.6 223.87h0.9M441.65 223.14h0.9M331.77 221.08h0.9M451.54 223.07h0.9M436.37 219.82h0.9M376.35 229.52h0.9M449.96 224.45h0.9M308.98 223.79h0.9M294.54 228.94h0.9M479.49 225.65h0.9M340.71 227.53h0.9M322.91 227.25h0.9M390.58 214.25h0.9M463.38 221.04h0.9M451.55 225.02h0.9M392.95 227.8h0.9M328 228.38h0.9M354.75 214.42h0.9M354.3 215.06h0.9M302.21 223.99h0.9M311.8 216.55h0.9M345.64 218.46h0.9M469.26 228.49h0.9M459.4 229.84h0.9M374.72 226.73h0.9M343.34 228.82h0.9M447.71 225.71h0.9M332.85 215.46h0.9M470.24 222.83h0.9M408.63 227.79h0.9M316.27 225.19h0.9M379.41 226.58h0.9M377.82 217.15h0.9M476.4 218.5h0.9M434.74 227.3h0.9M336.81 225.12h0.9M366.03 217.59h0.9M330.8 229.26h0.9M360.54 222.16h0.9M386.75 214.43h0.9M436.45 225.92h0.9M460.56 219.71h0.9M329.32 219.56h0.9M432.24 224.53h0.9M367.99 222.39h0.9M318.36 228.7h0.9M380.95 222.11h0.9M443.04 217.17h0.9M430.33 219.65h0.9M448.05 215.51h0.9M342.36 224.17h0.9M383.03 220.03h0.9M401.99 217.48h0.9M374.16 214.03h0.9M445.34 218.06h0.9M451.65 222.83h0.9M406.5 224.02h0.9M312.71 226.44h0.9M345.54 227.8h0.9M442.91 224.85h0.9M448.59 220.99h0.9M420.65 229.24h0.9M325.25 215.61h0.9M369.15 222.15h0.9M317.37 217.54h0.9M458.71 220.21h0.9M317.34 216.93h0.9M401.76 217.04h0.9M381.58 222.6h0.9M374.62 222.06h0.9M452.85 214.27h0.9M471.2 217.19h0.9M295.55 226.28h0.9M400.28 222.61h0.9M330.87 226.5h0.9M348.36 225.63h0.9M332.97 223.17h0.9M415.7 219.95h0.9M382.55 215.04h0.9M414.74 225.06h0.9M318.22 222.81h0.9M432.41 215.62h0.9" stroke="#222" stroke-width="0.9" fill="none"/>
<path d="M314.94 255.5h0.9M299.96 238.71h0.9M300.6 238.82h0.9M300.64 245.21h0.9M303.76 240.1h0.9M307.77 242.03h0.9M313.98 251.51h0.9M301.17 238.03h0.9M299.16 240.89h0.9M301.05 250.82h0.9M313.83 258.89h0.9M302.97 232.99h0.9M313.38 243.12h0.9M316.69 242.6h0.9M304.94 233.96h0.9M317.01 245.83h0.9M307.37 243.8h0.9M313.6 254.43h0.9M308.04 236.81h0.9M306.72 256.07h0.9M306.75 249.84h0.9M309.63 244.46h0.9M309.92 238.62h0.9M309.59 255.35h0.9M300.52 241.96h0.9M315.73 258.41h0.9M299.25 248.93h0.9M311.01 254.76h0.9M307.93 235.54h0.9M304.7 251.24h0.9M312.84 237.52h0.9M311.21 249.73h0.9M311.5 232.59h0.9M307.39 240.77h0.9M310.35 241.09h0.9M301.44 250.1h0.9M304.45 253.35h0.9M304.81 246.74h0.9M314.35 235.12h0.9M312.89 233.84h0.9M316.79 232.68h0.9M312.76 241.95h0.9M302.41 242.66h0.9M308.53 243.2h0.9M301.32 246.11h0.9M304.7 258.12h0.9M306.28 243.75h0.9M303.33 258.16h0.9M305.11 249.45h0.9M314.82 242.62h0.9M313.35 239.53h0.9M301.08 233.14h0.9M307.53 255.6h0.9M302.86 243.89h0.9M313.49 239.46h0.9M301.9 246.02h0.9M307.08 257.34h0.9M316.05 238.43h0.9M309.66 243.24h0.9M299.64 244h0.9" stroke="#222" stroke-width="0.9" fill="none"/>
<path d="M466.4 240.18h0.9M460.14 251.18h0.9M450.2 256.95h0.9M451.07 240.14h0.9M462.6 232.52h0.9M456.13 235.42h0.9M457.99 232.43h0.9M451.87 238.01h0.9M450.55 234.44h0.9M452.7 245.98h0.9M451.6 254.17h0.9M456.92 238.8h0.9M453.58 254.67h0.9M449.89 252.04h0.9M450.85 257.5h0.9M456.76 248.14h0.9M465.4 234.71h0.9M450.22 250.73h0.9M460.16 251.47h0.9M454.28 245.42h0.9M452.55 243.8h0.9M454.35 247.81h0.9M454.68 239.42h0.9M461.21 234.31h0.9M464.22 245.39h0.9M453.35 235.1h0.9M458.67 245.6h0.9M462.67 242.09h0.9M456.83 256.1h0.9M454.2 258.49h0.9M465.96 258.74h0.9M466.92 238.94h0.9M464.47 248.52h0.9M452.88 258.93h0.9M461.31 253.86h0.9M459.6 234.15h0.9M465.4 236.74h0.9M453.92 248.64h0.9M452.69 244.49h0.9M462.56 234.59h0.9M461.55 234.82h0.9M458.04 249.54h0.9M462.06 233.16h0.9M452.63 257.92h0.9M456.43 243.47h0.9M456.12 250.8h0.9M463.07 249.56h0.9M456.64 247.38h0.9M458.79 237.07h0.9M467.04 258.05h0.9M463.77 258.8h0.9M457.85 254.66h0.9M453.57 252.05h0.9M462.58 257.34h0.9M464.83 255.74h0.9M454.09 253.26h0.9M458.03 240.44h0.9M456 253.57h0.9M465.01 254.81h0.9M461.72 236.6h0.9" stroke="#222" stroke-width="0.9" fill="none"/>
<rect x="298.4" y="231.5" width="20.2" height="28.8" fill="url(#hatch)" stroke="#444" stroke-width="0.7"/>
<path d="M302.23 247.29h0.9M303.26 240.86h0.9M301.27 235.8h0.9M312.45 237.72h0.9M314.83 240.65h0.9M314.85 239.91h0.9M304.27 242.48h0.9M299.62 243.61h0.9M306.31 231.85h0.9M315.08 241.93h0.9M299.41 258.2h0.9M303.56 238.53h0.9M299.84 234.27h0.9M312.32 247.68h0.9M308.57 238.34h0.9M304.62 258.47h0.9M306.17 259.01h0.9M315.54 234.96h0.9M314.84 232.08h0.9M312.34 254.01h0.9M312.06 246.78h0.9M314.19 235.79h0.9M309.22 238.89h0.9M306.66 236.82h0.9M312.29 247.43h0.9M313.58 248.96h0.9M310.31 257.13h0.9M314.19 247.26h0.9M305.34 257.29h0.9M306.15 234.34h0.9M305.47 251.14h0.9M316.35 249.45h0.9M311.46 257.56h0.9M313.56 243.88h0.9M307.8 252.62h0.9M305.18 234.55h0.9M310.68 253.99h0.9M303.92 250.51h0.9M315.64 235.05h0.9M301.87 245.21h0.9M305.48 257.89h0.9M317.54 243.89h0.9M313.83 249.06h0.9M302.56 258.52h0.9M302.58 233.61h0.9M307.64 232h0.9M308.15 242.96h0.9M316.77 243h0.9M314.87 253.18h0.9M310.07 238.11h0.9M304.95 245.16h0.9M306.59 249.45h0.9M308.6 240.48h0.9M310.44 259.2h0.9M303.09 240.83h0.9M299.62 234.11h0.9M300.41 243.26h0.9M314.62 250.9h0.9M316.98 254.77h0.9M310.06 247.64h0.9M299.63 242.16h0.9M304.16 248.76h0.9M300.59 246.58h0.9M306.24 245.18h0.9M306.76 234.34h0.9M312.71 253.75h0.9M310.29 234.72h0.9M310.3 255.71h0.9M317.36 252.59h0.9M300.23 255.92h0.9M311.5 239.19h0.9M316.15 254.47h0.9M315.69 238.38h0.9M309.9 242.03h0.9M304.79 252.66h0.9M310.62 240.72h0.9M309.28 257.31h0.9M309.71 256.9h0.9M309.7 259.08h0.9M299.93 244.29h0.9M309.45 251.71h0.9M317.03 248.83h0.9M308.1 249.13h0.9" stroke="#222" stroke-width="0.9" fill="none"/>
<rect x="294.4" y="260.3" width="28.5" height="6.7" fill="#e8e8e8" stroke="#222" stroke-width="0.8"/>
<path d="M309.54 264.61h0.8M320.49 261.37h0.8M303.89 265.42h0.8M296.98 265.01h0.8M296.22 264.35h0.8M316.61 262.42h0.8M305.5 262.36h0.8M314.08 263.79h0.8M311.45 262.83h0.8" stroke="#444" stroke-width="0.8" fill="none"/>
<rect x="294.4" y="267" width="28.5" height="33.8" fill="url(#gravel)" stroke="#222" stroke-width="0.9"/>
<rect x="303.38" y="300.8" width="2" height="1.4" fill="#111" stroke="none" stroke-width="0.8"/>
<rect x="308.5" y="300.8" width="2" height="1.4" fill="#111" stroke="none" stroke-width="0.8"/>
<rect x="313.63" y="300.8" width="2" height="1.4" fill="#111" stroke="none" stroke-width="0.8"/>
<rect x="448.1" y="231.5" width="20.6" height="28.9" fill="url(#hatch)" stroke="#444" stroke-width="0.7"/>
<path d="M460.01 258.13h0.9M463.59 258.05h0.9M453.7 245.9h0.9M456.27 241.16h0.9M464.04 236.38h0.9M459.49 253.1h0.9M466.5 232.02h0.9M454.14 245.26h0.9M466.52 236.05h0.9M464.74 242.58h0.9M459.29 257.39h0.9M450.3 240.69h0.9M452 235.23h0.9M454.75 251.05h0.9M459.9 234.9h0.9M464.01 245.65h0.9M451.76 254.39h0.9M464.37 237.55h0.9M466.58 254.11h0.9M453.36 231.53h0.9M465.23 254.55h0.9M450.92 252.88h0.9M463.48 249.18h0.9M464.58 258.98h0.9M455.2 254.77h0.9M466.23 240.25h0.9M461.81 250.59h0.9M464.89 247.32h0.9M454.23 238.52h0.9M459.2 235.28h0.9M465.09 256.31h0.9M453.61 250.95h0.9M461.62 234.9h0.9M463.58 252.88h0.9M454.8 234.24h0.9M454.34 253.03h0.9M457.78 254.25h0.9M452.07 234.47h0.9M455.59 256.05h0.9M452.11 233.55h0.9M463.1 234.05h0.9M461.52 233.83h0.9M453.69 250.01h0.9M465.35 242.92h0.9M457.46 232.37h0.9M455.44 238.25h0.9M463.77 251.43h0.9M463.69 246.34h0.9M462.11 235.05h0.9M456.26 239.67h0.9M454.35 252.12h0.9M453.08 240.58h0.9M454.35 255.61h0.9M460.98 244.91h0.9M456.17 257.21h0.9M466.57 244.05h0.9M459.64 255.56h0.9M453.87 238.72h0.9M451.02 245.51h0.9M463.39 235.87h0.9M457.14 259.14h0.9M458.05 242.17h0.9M464.71 256.39h0.9M456.1 234.95h0.9M460.94 252.16h0.9M466.27 249.92h0.9M454.82 245.87h0.9M454.45 243.94h0.9M457.81 256.95h0.9M465.95 257.34h0.9M457.99 258.41h0.9M451.68 257.2h0.9M461.01 255.84h0.9M456.79 259.15h0.9M449.57 255.15h0.9M464.34 241.94h0.9M464.51 237.46h0.9M463.1 244.57h0.9M456.75 236.98h0.9M463.98 251.89h0.9M450.76 258.79h0.9M453.22 241.97h0.9M456.81 247.58h0.9M465.66 257.87h0.9M460.88 241.7h0.9" stroke="#222" stroke-width="0.9" fill="none"/>
<rect x="444.3" y="260.4" width="28.6" height="6.6" fill="#e8e8e8" stroke="#222" stroke-width="0.8"/>
<path d="M448.16 261.72h0.8M459.1 264.08h0.8M457.2 265.92h0.8M456.3 263.01h0.8M456.42 262.19h0.8M470.28 264.12h0.8M459.74 263.36h0.8M451.95 262.85h0.8M458.43 263.45h0.8" stroke="#444" stroke-width="0.8" fill="none"/>
<rect x="444.3" y="267" width="28.6" height="34.6" fill="url(#gravel)" stroke="#222" stroke-width="0.9"/>
<rect x="453.31" y="301.6" width="2" height="1.4" fill="#111" stroke="none" stroke-width="0.8"/>
<rect x="458.46" y="301.6" width="2" height="1.4" fill="#111" stroke="none" stroke-width="0.8"/>
<rect x="463.61" y="301.6" width="2" height="1.4" fill="#111" stroke="none" stroke-width="0.8"/>
<rect x="306.5" y="83.7" width="5.3" height="153.3" fill="#c2c2c2" stroke="none" stroke-width="0.8"/>
<line x1="306.5" y1="83.7" x2="311.8" y2="83.7" stroke="#444" stroke-width="0.6"/>
<line x1="306.5" y1="83.7" x2="306.5" y2="237" stroke="#555" stroke-width="0.6"/>
<line x1="311.8" y1="83.7" x2="311.8" y2="237" stroke="#333" stroke-width="0.7"/>
<rect x="304.7" y="86.4" width="2" height="2.2" fill="#000" stroke="none" stroke-width="0.8"/>
<rect x="311.6" y="86.4" width="2" height="2.2" fill="#000" stroke="none" stroke-width="0.8"/>
<rect x="304.7" y="106.3" width="2" height="2.2" fill="#000" stroke="none" stroke-width="0.8"/>
<rect x="311.6" y="106.3" width="2" height="2.2" fill="#000" stroke="none" stroke-width="0.8"/>
<rect x="304.7" y="110.7" width="2" height="2.2" fill="#000" stroke="none" stroke-width="0.8"/>
<rect x="311.6" y="110.7" width="2" height="2.2" fill="#000" stroke="none" stroke-width="0.8"/>
<rect x="304.7" y="139.2" width="2" height="2.2" fill="#000" stroke="none" stroke-width="0.8"/>
<rect x="311.6" y="139.2" width="2" height="2.2" fill="#000" stroke="none" stroke-width="0.8"/>
<rect x="304.7" y="168.2" width="2" height="2.2" fill="#000" stroke="none" stroke-width="0.8"/>
<rect x="311.6" y="168.2" width="2" height="2.2" fill="#000" stroke="none" stroke-width="0.8"/>
<rect x="304.7" y="203.7" width="2" height="2.2" fill="#000" stroke="none" stroke-width="0.8"/>
<rect x="311.6" y="203.7" width="2" height="2.2" fill="#000" stroke="none" stroke-width="0.8"/>
<rect x="455" y="83.7" width="5.8" height="153.8" fill="#c2c2c2" stroke="none" stroke-width="0.8"/>
<line x1="455" y1="83.7" x2="460.8" y2="83.7" stroke="#444" stroke-width="0.6"/>
<line x1="455" y1="83.7" x2="455" y2="237.5" stroke="#555" stroke-width="0.6"/>
<line x1="460.8" y1="83.7" x2="460.8" y2="237.5" stroke="#333" stroke-width="0.7"/>
<rect x="453.2" y="86.4" width="2" height="2.2" fill="#000" stroke="none" stroke-width="0.8"/>
<rect x="460.6" y="86.4" width="2" height="2.2" fill="#000" stroke="none" stroke-width="0.8"/>
<rect x="453.2" y="106.3" width="2" height="2.2" fill="#000" stroke="none" stroke-width="0.8"/>
<rect x="460.6" y="106.3" width="2" height="2.2" fill="#000" stroke="none" stroke-width="0.8"/>
<rect x="453.2" y="110.7" width="2" height="2.2" fill="#000" stroke="none" stroke-width="0.8"/>
<rect x="460.6" y="110.7" width="2" height="2.2" fill="#000" stroke="none" stroke-width="0.8"/>
<rect x="453.2" y="139.2" width="2" height="2.2" fill="#000" stroke="none" stroke-width="0.8"/>
<rect x="460.6" y="139.2" width="2" height="2.2" fill="#000" stroke="none" stroke-width="0.8"/>
<rect x="453.2" y="168.2" width="2" height="2.2" fill="#000" stroke="none" stroke-width="0.8"/>
<rect x="460.6" y="168.2" width="2" height="2.2" fill="#000" stroke="none" stroke-width="0.8"/>
<rect x="453.2" y="203.7" width="2" height="2.2" fill="#000" stroke="none" stroke-width="0.8"/>
<rect x="460.6" y="203.7" width="2" height="2.2" fill="#000" stroke="none" stroke-width="0.8"/>
<rect x="357.6" y="209.8" width="2" height="2" fill="#000" stroke="none" stroke-width="0.8"/>
<rect x="407" y="209.8" width="2" height="2" fill="#000" stroke="none" stroke-width="0.8"/>
<line x1="486" y1="213" x2="486" y2="238.6" stroke="#333" stroke-width="0.7"/>
<line x1="287.4" y1="231.5" x2="287.4" y2="241" stroke="#333" stroke-width="0.6"/>
<path d="M302.74 305.04H305.16M302.93 306.21H305.55M302.6 307.39H305.53M302.55 308.56H305.27M303.87 304.7V308.9M304 306.8L302.42 308.9M304 306.8L305.58 308.9M306.49 304.91V308.69M306.02 306.17H306.96M307.46 304.7V308.9M309.18 305.12V308.69M307.16 305.33H309.18M307.16 306.8H309.18M310.09 304.91V308.69M309.62 306.17H310.62M311.13 304.7V308.9M312.78 305.12V308.69M310.82 305.33H312.78M310.82 306.8H312.78M313.69 304.91V308.69M313.22 306.17H314.56M315.06 304.7V308.9M316.38 305.12V308.69M314.76 305.33H316.38M314.76 306.8H316.38M314.76 308.27H316.38" stroke="#000" stroke-width="0.61" fill="none" opacity="1.0"/>
<path d="M453.23 306.31V310.09M452.73 307.57H453.77M454.27 306.1V310.3M456.07 306.52V310.09M453.97 306.73H456.07M453.97 308.2H456.07M453.97 309.67H456.07M456.61 306.44H459.82M456.75 308.2H459.3M456.8 309.96H459.39M458.11 306.1V310.3M458.2 308.2L456.53 310.3M458.2 308.2L459.87 310.3M460.83 306.31V310.09M460.33 307.57H461.53M462.04 306.1V310.3M463.67 306.52V310.09M461.73 306.73H463.67M461.73 308.2H463.67M464.76 306.44H466.87M464.64 308.2H467.38M464.61 309.96H466.93M465.98 306.1V310.3M464.46 307.36V309.88M467.14 307.36V309.88" stroke="#000" stroke-width="0.61" fill="none" opacity="1.0"/>
<path d="M491.34 60.39V63.81M490.97 61.53H491.78M492.27 60.2V64M493.46 60.58V63.81M491.98 60.77H493.46M491.98 62.1H493.46M491.98 63.43H493.46M494.18 60.39V63.81M493.8 61.53H494.71M495.21 60.2V64M496.3 60.58V63.81M494.91 60.77H496.3M494.91 62.1H496.3M496.75 60.5H498.71M496.64 62.1H498.91M497.07 63.7H498.74M497.99 60.2V64M496.89 61.34V63.62M498.88 61.34V63.62" stroke="#000" stroke-width="0.58" fill="none" opacity="1.0"/>
<line x1="475.6" y1="71.1" x2="490" y2="64.5" stroke="#333" stroke-width="0.6"/>
<path d="M491.49 102.49V105.91M491.02 103.63H492.26M492.75 102.3V106.1M494.18 102.68V105.91M492.46 102.87H494.18M492.46 104.2H494.18M492.46 105.53H494.18M495.09 102.49V105.91M494.62 103.63H495.83M496.32 102.3V106.1M497.78 102.68V105.91M496.03 102.87H497.78M496.03 104.2H497.78M496.03 105.53H497.78" stroke="#000" stroke-width="0.58" fill="none" opacity="1.0"/>
<line x1="477.3" y1="110" x2="490" y2="108" stroke="#333" stroke-width="0.6"/>
<line x1="253" y1="112" x2="261" y2="111.2" stroke="#333" stroke-width="0.6"/>
<rect x="338.3" y="241.1" width="91.2" height="79.7" fill="none" stroke="#444" stroke-width="0.6"/>
<path d="M338.3 241.1H352.8M363 241.1H376.3M387.6 241.1H400.4M414.2 241.1H429.5M338.3 320.8H352.8M363 320.8H376.3M387.6 320.8H400.4M414.2 320.8H429.5M338.3 243.1V258.1M338.3 267.1V282.1M338.3 291.1V306.1M338.3 315.1V320.8M429.5 243.1V258.1M429.5 267.1V282.1M429.5 291.1V306.1M429.5 315.1V320.8" stroke="#222" stroke-width="1.2" fill="none"/>
<path d="M353.3 259.4V300.7M357.32 259.4V300.7M361.34 259.4V300.7M365.36 259.4V300.7M369.38 259.4V300.7M373.4 259.4V300.7M377.42 259.4V300.7M381.44 259.4V300.7M385.46 259.4V300.7M389.48 259.4V300.7M393.5 259.4V300.7M397.52 259.4V300.7M401.54 259.4V300.7M405.56 259.4V300.7M409.58 259.4V300.7M413.6 259.4V300.7M353.3 259.4H413.6M353.3 266.28H413.6M353.3 273.17H413.6M353.3 280.05H413.6M353.3 286.93H413.6M353.3 293.82H413.6M353.3 300.7H413.6" stroke="#111" stroke-width="0.75" fill="none"/>
<circle cx="384" cy="248.7" r="2.1" fill="#f4f4f4" stroke="#222" stroke-width="0.7"/>
<line x1="382.8" y1="249.7" x2="385.2" y2="247.7" stroke="#333" stroke-width="0.6"/>
<circle cx="381.8" cy="252.4" r="2.1" fill="#f4f4f4" stroke="#222" stroke-width="0.7"/>
<line x1="380.6" y1="253.4" x2="383" y2="251.4" stroke="#333" stroke-width="0.6"/>
<circle cx="386.2" cy="252.4" r="2.1" fill="#f4f4f4" stroke="#222" stroke-width="0.7"/>
<line x1="385" y1="253.4" x2="387.4" y2="251.4" stroke="#333" stroke-width="0.6"/>
<circle cx="345.9" cy="259.2" r="2.1" fill="#f4f4f4" stroke="#222" stroke-width="0.7"/>
<line x1="344.7" y1="260.2" x2="347.1" y2="258.2" stroke="#333" stroke-width="0.6"/>
<circle cx="343.7" cy="262.9" r="2.1" fill="#f4f4f4" stroke="#222" stroke-width="0.7"/>
<line x1="342.5" y1="263.9" x2="344.9" y2="261.9" stroke="#333" stroke-width="0.6"/>
<circle cx="348.1" cy="262.9" r="2.1" fill="#f4f4f4" stroke="#222" stroke-width="0.7"/>
<line x1="346.9" y1="263.9" x2="349.3" y2="261.9" stroke="#333" stroke-width="0.6"/>
<circle cx="420" cy="280.4" r="2.1" fill="#f4f4f4" stroke="#222" stroke-width="0.7"/>
<line x1="418.8" y1="281.4" x2="421.2" y2="279.4" stroke="#333" stroke-width="0.6"/>
<circle cx="417.8" cy="284.1" r="2.1" fill="#f4f4f4" stroke="#222" stroke-width="0.7"/>
<line x1="416.6" y1="285.1" x2="419" y2="283.1" stroke="#333" stroke-width="0.6"/>
<circle cx="422.2" cy="284.1" r="2.1" fill="#f4f4f4" stroke="#222" stroke-width="0.7"/>
<line x1="421" y1="285.1" x2="423.4" y2="283.1" stroke="#333" stroke-width="0.6"/>
<circle cx="382" cy="309" r="2.1" fill="#f4f4f4" stroke="#222" stroke-width="0.7"/>
<line x1="380.8" y1="310" x2="383.2" y2="308" stroke="#333" stroke-width="0.6"/>
<circle cx="379.8" cy="312.7" r="2.1" fill="#f4f4f4" stroke="#222" stroke-width="0.7"/>
<line x1="378.6" y1="313.7" x2="381" y2="311.7" stroke="#333" stroke-width="0.6"/>
<circle cx="384.2" cy="312.7" r="2.1" fill="#f4f4f4" stroke="#222" stroke-width="0.7"/>
<line x1="383" y1="313.7" x2="385.4" y2="311.7" stroke="#333" stroke-width="0.6"/>
<line x1="353.3" y1="309" x2="413.6" y2="309" stroke="#222" stroke-width="0.6"/>
<line x1="353.3" y1="306" x2="353.3" y2="311" stroke="#222" stroke-width="0.5"/>
<line x1="413.6" y1="306" x2="413.6" y2="311" stroke="#222" stroke-width="0.5"/>
<polygon points="353.3,309 356.5,308.3 356.5,309.7" fill="#222" stroke="none" stroke-width="0.8"/>
<polygon points="413.6,309 410.4,308.3 410.4,309.7" fill="#222" stroke="none" stroke-width="0.8"/>
<text x="383.8" y="307.3" font-size="6.2" text-anchor="middle" fill="#333" font-weight="normal" textLength="29" lengthAdjust="spacingAndGlyphs" opacity="0.999">100x15=1500</text>
<line x1="351.4" y1="259.4" x2="351.4" y2="300.7" stroke="#222" stroke-width="0.5"/>
<text x="349.6" y="286" font-size="6.2" text-anchor="middle" fill="#333" font-weight="normal" textLength="22" lengthAdjust="spacingAndGlyphs" transform="rotate(-90 349.6 286)" opacity="0.999">150x8=1200</text>
<path d="M347.11 266.52H349.73M347.11 267.51H349.99M347.03 268.49H349.98M346.79 269.48H349.72M348.39 266.24V269.76M346.76 267.3V269.41M349.64 267.3V269.41M346.94 270.42V273.58M346.4 271.47H347.88M348.38 270.24V273.76M350 270.59V273.58M348.08 270.77H350M348.08 272H350" stroke="#000" stroke-width="0.6" fill="none" opacity="1.0"/>
<path d="M419.58 290.61V294.39M419.18 291.87H419.92M420.42 290.4V294.6M421.82 290.82V294.39M420.12 291.03H421.82M420.12 292.5H421.82M422.58 290.61V294.39M422.18 291.87H423.21M423.72 290.4V294.6M424.82 290.82V294.39M423.41 291.03H424.82M423.41 292.5H424.82M423.41 293.97H424.82" stroke="#000" stroke-width="0.61" fill="none" opacity="1.0"/>
<line x1="413" y1="290" x2="419" y2="294" stroke="#333" stroke-width="0.5"/>
<path d="M375.06 329.22V333.18M374.61 330.54H375.79M376.3 329V333.4M377.65 329.44V333.18M375.99 329.66H377.65M375.99 331.2H377.65M378.55 329.35H380.73M378.58 331.2H380.93M378.36 333.05H381M379.83 329V333.4M379.59 331.2L378.06 333.4M379.59 331.2L381.11 333.4M381.98 329.22V333.18M381.52 330.54H382.4M382.91 329V333.4M384.56 329.44V333.18M382.6 329.66H384.56M382.6 331.2H384.56M382.6 332.74H384.56M385.44 329.22V333.18M384.98 330.54H386.18M386.69 329V333.4M388.02 329.44V333.18M386.38 329.66H388.02M386.38 331.2H388.02M388.89 329.22V333.18M388.44 330.54H389.63M390.15 329V333.4M391.48 329.44V333.18M389.83 329.66H391.48M389.83 331.2H391.48M392.35 329.22V333.18M391.89 330.54H393.03M393.54 329V333.4M394.94 329.44V333.18M393.23 329.66H394.94M393.23 331.2H394.94M395.81 329.22V333.18M395.35 330.54H396.56M397.08 329V333.4M398.39 329.44V333.18M396.76 329.66H398.39M396.76 331.2H398.39M396.76 332.74H398.39" stroke="#000" stroke-width="0.64" fill="none" opacity="1.0"/>
<line x1="374" y1="335.6" x2="399" y2="335.6" stroke="#111" stroke-width="1.2"/>
<path d="M263.81 60.38V63.62M263.37 61.46H264.58M265.04 60.2V63.8M266.3 60.56V63.62M264.78 60.74H266.3M264.78 62H266.3M264.78 63.26H266.3M267.44 60.49H269.64M267.18 61.5H269.41M267.59 62.5H269.96M267.23 63.51H269.78M268.32 60.2V63.8M267.33 61.28V63.44M269.67 61.28V63.44M271.13 60.49H273.25M270.87 62H273.33M271.26 63.51H273.55M272.09 60.2V63.8M272.17 62L270.7 63.8M272.17 62L273.63 63.8M274.81 60.38V63.62M274.37 61.46H275.42M275.88 60.2V63.8M277.3 60.56V63.62M275.62 60.74H277.3M275.62 62H277.3M275.62 63.26H277.3M278.47 60.38V63.62M278.03 61.46H279.11M279.57 60.2V63.8M280.97 60.56V63.62M279.31 60.74H280.97M279.31 62H280.97M279.31 63.26H280.97M282.14 60.38V63.62M281.7 61.46H282.69M283.15 60.2V63.8M284.63 60.56V63.62M282.89 60.74H284.63M282.89 62H284.63M285.81 60.38V63.62M285.37 61.46H286.6M287.06 60.2V63.8M288.3 60.56V63.62M286.8 60.74H288.3M286.8 62H288.3M286.8 63.26H288.3M289.33 60.49H291.43M289.18 62H291.82M289.44 63.51H291.83M290.35 60.2V63.8M289.33 61.28V63.44M291.67 61.28V63.44M293.14 60.38V63.62M292.7 61.46H293.76M294.22 60.2V63.8M295.63 60.56V63.62M293.96 60.74H295.63M293.96 62H295.63" stroke="#000" stroke-width="0.52" fill="none" opacity="1.0"/>
<line x1="258.8" y1="69.7" x2="270.8" y2="67.2" stroke="#333" stroke-width="0.6"/>
<path d="M275.88 68.68V71.92M275.4 69.76H276.72M277.18 68.5V72.1M278.6 68.86V71.92M276.92 69.04H278.6M276.92 70.3H278.6M276.92 71.56H278.6M279.83 68.79H282.48M279.8 70.3H282.33M280.03 71.81H282.48M281.14 68.5V72.1M279.72 69.58V71.74M282.28 69.58V71.74" stroke="#000" stroke-width="0.52" fill="none" opacity="1.0"/>
<line x1="282.3" y1="72.9" x2="307.7" y2="85" stroke="#333" stroke-width="0.6"/>
<ellipse cx="545.1" cy="73.8" rx="13" ry="14.8" fill="none" stroke="#222" stroke-width="0.8"/>
<line x1="532.7" y1="77.2" x2="557.9" y2="70.9" stroke="#222" stroke-width="0.8"/>
<polyline points="551.8,61.4 563.1,51.5 576,51.5" fill="none" stroke="#333" stroke-width="0.6"/>
<path d="M563.83 44.91V48.69M563.26 46.17H564.46M564.97 44.7V48.9M567.07 45.12V48.69M564.66 45.33H567.07M564.66 46.8H567.07M568.17 44.91V48.69M567.59 46.17H569.24M569.74 44.7V48.9M571.41 45.12V48.69M569.44 45.33H571.41M569.44 46.8H571.41M572.5 44.91V48.69M571.93 46.17H573.15M573.65 44.7V48.9M575.74 45.12V48.69M573.35 45.33H575.74M573.35 46.8H575.74M573.35 48.27H575.74" stroke="#000" stroke-width="0.61" fill="none" opacity="1.0"/>
<rect x="562.2" y="69.2" width="0.9" height="0.9" fill="#333" stroke="none" stroke-width="0.8"/>
<rect x="544.6" y="92.6" width="0.9" height="0.9" fill="#333" stroke="none" stroke-width="0.8"/>
<polygon points="531.91,82.85 542.91,103.35 546.09,101.65 535.09,81.15" fill="url(#armhatch)" stroke="#333" stroke-width="0.6"/>
<polygon points="554.89,81.2 544.69,101.7 547.91,103.3 558.11,82.8" fill="url(#armhatch)" stroke="#333" stroke-width="0.6"/>
<rect x="531.5" y="80.5" width="2.2" height="2.2" fill="#222" stroke="none" stroke-width="0.8"/>
<rect x="556.3" y="80.5" width="2.2" height="2.2" fill="#222" stroke="none" stroke-width="0.8"/>
<path d="M540 106.5 A5.5 5.5 0 0 1 551 106.5" fill="none" stroke="#111" stroke-width="1.6"/>
<circle cx="545.4" cy="104.5" r="2.2" fill="#ccc" stroke="#333" stroke-width="0.6"/>
<rect x="543.1" y="104" width="4.7" height="130.3" fill="#c4c4c4" stroke="none" stroke-width="0.8"/>
<line x1="543.1" y1="104" x2="543.1" y2="234.3" stroke="#444" stroke-width="0.6"/>
<line x1="547.8" y1="104" x2="547.8" y2="234.3" stroke="#333" stroke-width="0.7"/>
<polygon points="543.6,129.8 546.8,128.2 581.8,210.5 578.6,210.5" fill="#c8c8c8" stroke="#444" stroke-width="0.6"/>
<rect x="543.8" y="127.5" width="2.5" height="2.5" fill="#333" stroke="none" stroke-width="0.8"/>
<line x1="524.4" y1="59.4" x2="524.4" y2="210.5" stroke="#222" stroke-width="0.6"/>
<line x1="523" y1="60.8" x2="525.8" y2="58" stroke="#222" stroke-width="0.6"/>
<line x1="523" y1="90.4" x2="525.8" y2="87.6" stroke="#222" stroke-width="0.6"/>
<line x1="523" y1="108.4" x2="525.8" y2="105.6" stroke="#222" stroke-width="0.6"/>
<line x1="523" y1="211.9" x2="525.8" y2="209.1" stroke="#222" stroke-width="0.6"/>
<text x="522.6" y="74" font-size="6.2" text-anchor="middle" fill="#333" font-weight="normal" textLength="8.5" lengthAdjust="spacingAndGlyphs" transform="rotate(-90 522.6 74)" opacity="0.999">500</text>
<text x="522.6" y="98" font-size="6.2" text-anchor="middle" fill="#333" font-weight="normal" textLength="8.5" lengthAdjust="spacingAndGlyphs" transform="rotate(-90 522.6 98)" opacity="0.999">250</text>
<text x="522.6" y="155" font-size="6.2" text-anchor="middle" fill="#333" font-weight="normal" textLength="12" lengthAdjust="spacingAndGlyphs" transform="rotate(-90 522.6 155)" opacity="0.999">2200</text>
<line x1="538.3" y1="129.6" x2="538.3" y2="210.5" stroke="#222" stroke-width="0.6"/>
<text x="536.5" y="168.4" font-size="6.2" text-anchor="middle" fill="#333" font-weight="normal" textLength="12" lengthAdjust="spacingAndGlyphs" transform="rotate(-90 536.5 168.4)" opacity="0.999">1500</text>
<polygon points="538.3,129.6 537.5,133 539.1,133" fill="#222" stroke="none" stroke-width="0.8"/>
<line x1="561.9" y1="84.9" x2="551.1" y2="107.1" stroke="#222" stroke-width="0.6"/>
<text x="560.5" y="99" font-size="5" text-anchor="middle" fill="#333" font-weight="normal" textLength="8" lengthAdjust="spacingAndGlyphs" transform="rotate(-64 560.5 99)" opacity="0.999">433</text>
<line x1="561.3" y1="83.6" x2="574.6" y2="80.4" stroke="#333" stroke-width="0.6"/>
<text x="582.5" y="79.2" font-size="6.4" text-anchor="middle" fill="#333" font-weight="normal" textLength="16" lengthAdjust="spacingAndGlyphs" opacity="0.999">50x50x4</text>
<path d="M575.73 83.51V87.29M575.23 84.77H576.31M576.81 83.3V87.5M578.57 83.72V87.29M576.51 83.93H578.57M576.51 85.4H578.57M576.51 86.87H578.57M579.53 83.51V87.29M579.03 84.77H580.47M580.97 83.3V87.5M582.37 83.72V87.29M580.67 83.93H582.37M580.67 85.4H582.37M580.67 86.87H582.37M583.47 83.64H585.94M583.47 85.4H585.58M582.96 87.16H585.81M584.8 83.3V87.5M583.16 84.56V87.08M585.84 84.56V87.08M586.78 83.64H589.46M586.85 84.81H589.87M586.76 85.99H589.6M587.06 87.16H589.73M588.02 83.3V87.5M586.96 84.56V87.08M589.64 84.56V87.08M590.93 83.51V87.29M590.43 84.77H591.55M592.05 83.3V87.5M593.77 83.72V87.29M591.75 83.93H593.77M591.75 85.4H593.77M591.75 86.87H593.77" stroke="#000" stroke-width="0.61" fill="none" opacity="1.0"/>
<line x1="570.7" y1="154.4" x2="562.4" y2="163.9" stroke="#333" stroke-width="0.6"/>
<text x="580.8" y="154" font-size="6.4" text-anchor="middle" fill="#333" font-weight="normal" textLength="17" lengthAdjust="spacingAndGlyphs" opacity="0.999">50x50x4</text>
<path d="M572.57 158.64H575.19M572.45 160.4H575.38M572.26 162.16H575.42M573.7 158.3V162.5M574 160.4L572.24 162.5M574 160.4L575.76 162.5M576.37 158.64H579.25M576.28 160.4H579.29M576.61 162.16H579.16M577.68 158.3V162.5M576.59 159.56V162.08M579.41 159.56V162.08M580.77 158.51V162.29M580.24 159.77H581.53M582.03 158.3V162.5M583.76 158.72V162.29M581.73 158.93H583.76M581.73 160.4H583.76M581.73 161.87H583.76M584.77 158.51V162.29M584.24 159.77H585.29M585.79 158.3V162.5M587.76 158.72V162.29M585.49 158.93H587.76M585.49 160.4H587.76M585.49 161.87H587.76M588.77 158.51V162.29M588.24 159.77H589.42M589.92 158.3V162.5M591.76 158.72V162.29M589.62 158.93H591.76M589.62 160.4H591.76M589.62 161.87H591.76" stroke="#000" stroke-width="0.61" fill="none" opacity="1.0"/>
<line x1="505.8" y1="210.5" x2="563" y2="210.5" stroke="#333" stroke-width="0.9"/>
<line x1="571" y1="210.5" x2="594.4" y2="210.5" stroke="#333" stroke-width="0.9"/>
<line x1="598" y1="210.2" x2="653.6" y2="210.2" stroke="#333" stroke-width="0.9"/>
<rect x="506" y="209.8" width="2" height="1.4" fill="#222" stroke="none" stroke-width="0.8"/>
<rect x="572" y="209.8" width="1.6" height="1.4" fill="#222" stroke="none" stroke-width="0.8"/>
<rect x="533.3" y="210.5" width="22.7" height="45.9" fill="url(#hatch)" stroke="#222" stroke-width="0.8"/>
<path d="M554.89 243.55h0.9M538.41 217.45h0.9M552.85 240.25h0.9M546.24 216.77h0.9M542.68 252.65h0.9M534.07 229.44h0.9M535.2 254.9h0.9M536.19 252.96h0.9M551.67 243.2h0.9M534.89 241.6h0.9M544.35 232.61h0.9M537.05 233.54h0.9M550.84 216.78h0.9M552.4 229.48h0.9M539.59 221.52h0.9M543.66 239.49h0.9M545.97 250.16h0.9M544.74 233.56h0.9M554.77 220.47h0.9M534.35 225.45h0.9M540.58 216.45h0.9M542.78 212.52h0.9M553.34 232.31h0.9M552.45 241.69h0.9M549.33 244.38h0.9M540.33 243.08h0.9M538.33 235.41h0.9M546.5 245.12h0.9M537.52 226.14h0.9M551.31 246.4h0.9M554.54 216.21h0.9M538.41 215.69h0.9M549.2 243.8h0.9M547.61 245.3h0.9M544.83 235.74h0.9M553.34 239.52h0.9M547.78 236.91h0.9M544.37 244.3h0.9M546.02 216.68h0.9M542.94 229.54h0.9M543.08 235.68h0.9M541.6 228.21h0.9M542.96 227.34h0.9M554.41 214.97h0.9M534.36 242.75h0.9M542.3 230.75h0.9M546.43 227.15h0.9M539.02 211.68h0.9M552.35 252.32h0.9M540 231.47h0.9M540.8 213.57h0.9M552.75 247.8h0.9M539.06 222.21h0.9M548.66 246.06h0.9M543.86 228.05h0.9M538.9 246.12h0.9M552.13 248.75h0.9M536.4 237.12h0.9M554.69 242.47h0.9M543.64 217.38h0.9M535.27 243.2h0.9M535.44 246.59h0.9M547.98 231.83h0.9M552.72 252.04h0.9M546.95 215.39h0.9M546.36 229.52h0.9M539.24 251.86h0.9M549.34 216.36h0.9M538.81 226.08h0.9M546.03 225.29h0.9M543.23 246.79h0.9M537.82 242.69h0.9M540.94 252.56h0.9M553.99 225.41h0.9M546.73 215.87h0.9" stroke="#222" stroke-width="0.9" fill="none"/>
<rect x="543.1" y="210.5" width="4.7" height="23.8" fill="#c4c4c4" stroke="none" stroke-width="0.8"/>
<line x1="543.1" y1="210.5" x2="543.1" y2="234.3" stroke="#444" stroke-width="0.6"/>
<line x1="547.8" y1="210.5" x2="547.8" y2="234.3" stroke="#333" stroke-width="0.7"/>
<rect x="528.4" y="256.4" width="33.4" height="6.3" fill="#e6e6e6" stroke="#222" stroke-width="0.8"/>
<path d="M542.13 260.12h0.8M549.42 258.71h0.8M530.09 257.62h0.8M546.94 257.86h0.8M538.8 260.09h0.8M557.82 259.58h0.8M537.15 259.93h0.8M537.82 260.91h0.8M533.99 258.31h0.8M543.04 261.54h0.8" stroke="#555" stroke-width="0.8" fill="none"/>
<rect x="572.3" y="210.5" width="15.8" height="34.3" fill="url(#hatch)" stroke="#222" stroke-width="0.8"/>
<path d="M575.32 217.35h0.9M574.84 218.05h0.9M577.65 224.04h0.9M583.64 224.33h0.9M579.65 224.08h0.9M583.84 240.81h0.9M578.96 241.4h0.9M576.51 243.27h0.9M580.35 233.5h0.9M578.34 219.96h0.9M574.89 240.22h0.9M578.03 234.05h0.9M579.45 228.38h0.9M575.9 216.84h0.9M577.71 233.49h0.9M580.61 211.08h0.9M582.95 225.29h0.9M573.97 219.58h0.9M575.96 238.15h0.9M580.7 221.78h0.9M576.48 220.61h0.9M576.92 222.43h0.9M584.07 237.02h0.9M582.77 240.2h0.9M582.15 214.75h0.9M573.62 216.42h0.9M576.61 228.43h0.9M584.51 230.33h0.9M579.02 218.99h0.9M586.74 235.86h0.9M577.78 212.52h0.9M586.75 219.45h0.9M584.87 214.87h0.9M582.14 222.76h0.9M585.44 220.8h0.9M574.41 217.56h0.9M584.28 243.29h0.9M582 233.5h0.9M576.95 219.99h0.9M574.21 243.5h0.9" stroke="#222" stroke-width="0.9" fill="none"/>
<rect x="567.6" y="244.8" width="25.6" height="6.2" fill="#e6e6e6" stroke="#222" stroke-width="0.8"/>
<path d="M569.04 248.26h0.8M576.4 246.34h0.8M578.46 249.69h0.8M573.95 246.24h0.8M583.11 248.46h0.8M580.26 246.31h0.8M588.98 246h0.8M572.18 246.59h0.8" stroke="#555" stroke-width="0.8" fill="none"/>
<line x1="545.4" y1="235.5" x2="578.6" y2="235.5" stroke="#222" stroke-width="0.6"/>
<text x="562" y="233.4" font-size="6.2" text-anchor="middle" fill="#333" font-weight="normal" textLength="9" lengthAdjust="spacingAndGlyphs" opacity="0.999">700</text>
<line x1="524.4" y1="210.5" x2="524.4" y2="256.4" stroke="#222" stroke-width="0.6"/>
<line x1="523" y1="257.8" x2="525.8" y2="255" stroke="#222" stroke-width="0.6"/>
<text x="522.6" y="233.5" font-size="6.2" text-anchor="middle" fill="#333" font-weight="normal" textLength="8" lengthAdjust="spacingAndGlyphs" transform="rotate(-90 522.6 233.5)" opacity="0.999">800</text>
<line x1="593.2" y1="210.5" x2="593.2" y2="228.4" stroke="#222" stroke-width="0.6"/>
<line x1="591.8" y1="211.9" x2="594.6" y2="209.1" stroke="#222" stroke-width="0.6"/>
<line x1="591.8" y1="229.8" x2="594.6" y2="227" stroke="#222" stroke-width="0.6"/>
<text x="591.4" y="219.5" font-size="6.2" text-anchor="middle" fill="#333" font-weight="normal" textLength="8" lengthAdjust="spacingAndGlyphs" transform="rotate(-90 591.4 219.5)" opacity="0.999">300</text>
<text x="562.5" y="280.5" font-size="6.4" text-anchor="middle" fill="#222" font-weight="normal" textLength="11" lengthAdjust="spacingAndGlyphs" opacity="0.999">B-B</text>
<path d="M569.2 276.71V280.49M568.6 277.97H570.07M570.58 276.5V280.7M572.56 276.92V280.49M570.27 277.13H572.56M570.27 278.6H572.56M570.27 280.07H572.56M572.9 276.84H576.43M572.84 278.6H576.21M573.43 280.36H576.71M574.4 276.5V280.7M573.17 277.76V280.28M576.33 277.76V280.28M577.53 276.71V280.49M576.94 277.97H578.61M579.11 276.5V280.7M580.9 276.92V280.49M578.81 277.13H580.9M578.81 278.6H580.9" stroke="#000" stroke-width="0.61" fill="none" opacity="1.0"/>
<line x1="556.5" y1="282.5" x2="581" y2="282.5" stroke="#000" stroke-width="1.3"/>
<line x1="611.2" y1="82.2" x2="622.8" y2="106.6" stroke="#333" stroke-width="0.6"/>
<rect x="610.6" y="81.6" width="1.2" height="1.2" fill="#222" stroke="none" stroke-width="0.8"/>
<rect x="612.92" y="86.48" width="1.2" height="1.2" fill="#222" stroke="none" stroke-width="0.8"/>
<rect x="615.24" y="91.36" width="1.2" height="1.2" fill="#222" stroke="none" stroke-width="0.8"/>
<rect x="617.56" y="96.24" width="1.2" height="1.2" fill="#222" stroke="none" stroke-width="0.8"/>
<rect x="619.88" y="101.12" width="1.2" height="1.2" fill="#222" stroke="none" stroke-width="0.8"/>
<line x1="635.5" y1="82.2" x2="622.8" y2="106.6" stroke="#333" stroke-width="0.6"/>
<rect x="634.9" y="81.6" width="1.2" height="1.2" fill="#222" stroke="none" stroke-width="0.8"/>
<rect x="632.36" y="86.48" width="1.2" height="1.2" fill="#222" stroke="none" stroke-width="0.8"/>
<rect x="629.82" y="91.36" width="1.2" height="1.2" fill="#222" stroke="none" stroke-width="0.8"/>
<rect x="627.28" y="96.24" width="1.2" height="1.2" fill="#222" stroke="none" stroke-width="0.8"/>
<rect x="624.74" y="101.12" width="1.2" height="1.2" fill="#222" stroke="none" stroke-width="0.8"/>
<line x1="622.8" y1="106.6" x2="622.8" y2="228.4" stroke="#333" stroke-width="0.6"/>
<rect x="622.2" y="109.4" width="1.2" height="1.2" fill="#222" stroke="none" stroke-width="0.8"/>
<rect x="622.2" y="114.6" width="1.2" height="1.2" fill="#222" stroke="none" stroke-width="0.8"/>
<rect x="622.2" y="119.8" width="1.2" height="1.2" fill="#222" stroke="none" stroke-width="0.8"/>
<rect x="622.2" y="125" width="1.2" height="1.2" fill="#222" stroke="none" stroke-width="0.8"/>
<rect x="622.2" y="130.2" width="1.2" height="1.2" fill="#222" stroke="none" stroke-width="0.8"/>
<rect x="622.2" y="135.4" width="1.2" height="1.2" fill="#222" stroke="none" stroke-width="0.8"/>
<rect x="622.2" y="140.6" width="1.2" height="1.2" fill="#222" stroke="none" stroke-width="0.8"/>
<rect x="622.2" y="145.8" width="1.2" height="1.2" fill="#222" stroke="none" stroke-width="0.8"/>
<rect x="622.2" y="151" width="1.2" height="1.2" fill="#222" stroke="none" stroke-width="0.8"/>
<rect x="622.2" y="156.2" width="1.2" height="1.2" fill="#222" stroke="none" stroke-width="0.8"/>
<rect x="622.2" y="161.4" width="1.2" height="1.2" fill="#222" stroke="none" stroke-width="0.8"/>
<rect x="622.2" y="166.6" width="1.2" height="1.2" fill="#222" stroke="none" stroke-width="0.8"/>
<rect x="622.2" y="171.8" width="1.2" height="1.2" fill="#222" stroke="none" stroke-width="0.8"/>
<rect x="622.2" y="177" width="1.2" height="1.2" fill="#222" stroke="none" stroke-width="0.8"/>
<rect x="622.2" y="182.2" width="1.2" height="1.2" fill="#222" stroke="none" stroke-width="0.8"/>
<rect x="622.2" y="187.4" width="1.2" height="1.2" fill="#222" stroke="none" stroke-width="0.8"/>
<rect x="622.2" y="192.6" width="1.2" height="1.2" fill="#222" stroke="none" stroke-width="0.8"/>
<rect x="622.2" y="197.8" width="1.2" height="1.2" fill="#222" stroke="none" stroke-width="0.8"/>
<rect x="622.2" y="203" width="1.2" height="1.2" fill="#222" stroke="none" stroke-width="0.8"/>
<rect x="622.2" y="208.2" width="1.2" height="1.2" fill="#222" stroke="none" stroke-width="0.8"/>
<path d="" stroke="#111" stroke-width="1.1" fill="none"/>
<line x1="633.4" y1="108.7" x2="633.4" y2="210" stroke="#222" stroke-width="0.6" stroke-dasharray="6 2 1 2"/>
<text x="631.4" y="117.2" font-size="6" text-anchor="middle" fill="#333" font-weight="normal" textLength="9" lengthAdjust="spacingAndGlyphs" transform="rotate(-90 631.4 117.2)" opacity="0.999">100</text>
<text x="631.4" y="140.5" font-size="6" text-anchor="middle" fill="#333" font-weight="normal" textLength="9" lengthAdjust="spacingAndGlyphs" transform="rotate(-90 631.4 140.5)" opacity="0.999">100</text>
<text x="631.4" y="170" font-size="6" text-anchor="middle" fill="#333" font-weight="normal" textLength="9" lengthAdjust="spacingAndGlyphs" transform="rotate(-90 631.4 170)" opacity="0.999">100</text>
<text x="631.4" y="195.5" font-size="6" text-anchor="middle" fill="#333" font-weight="normal" textLength="9" lengthAdjust="spacingAndGlyphs" transform="rotate(-90 631.4 195.5)" opacity="0.999">100</text>
<text x="631.4" y="205" font-size="6" text-anchor="middle" fill="#333" font-weight="normal" textLength="9" lengthAdjust="spacingAndGlyphs" transform="rotate(-90 631.4 205)" opacity="0.999">100</text>
<line x1="641" y1="200" x2="641" y2="216" stroke="#333" stroke-width="0.6"/>
<polygon points="641,210.2 640.2,206.5 641.8,206.5" fill="#222" stroke="none" stroke-width="0.8"/>
<text x="639.2" y="214" font-size="4.8" text-anchor="middle" fill="#333" font-weight="normal" textLength="5.5" lengthAdjust="spacingAndGlyphs" transform="rotate(-90 639.2 214)" opacity="0.999">50</text>
<rect x="617.1" y="210.2" width="12.7" height="18.2" fill="url(#hatch)" stroke="#222" stroke-width="0.8"/>
<path d="M623.57 213.53h0.9M627.81 221.38h0.9M623.97 215.72h0.9M619.93 218.19h0.9M622.9 213.89h0.9M621.33 213.17h0.9M621.56 214.84h0.9M622.07 223.62h0.9M623.82 220.7h0.9M623.03 222.95h0.9M619.04 223.02h0.9M624.09 221.04h0.9M627.55 220.08h0.9M624.7 213.43h0.9M621.61 224.82h0.9M618.21 212.57h0.9M619.98 225.99h0.9M622.64 226.16h0.9M620.86 211.89h0.9M626.23 215.38h0.9M619.37 216.56h0.9M625.17 225.78h0.9" stroke="#222" stroke-width="0.9" fill="none"/>
<line x1="622.8" y1="210" x2="622.8" y2="228.4" stroke="#333" stroke-width="0.6"/>
<polygon points="606,210.2 602,209.3 602,211.1" fill="#222" stroke="none" stroke-width="0.8"/>
<line x1="612" y1="210.2" x2="612" y2="228.4" stroke="#222" stroke-width="0.6"/>
<line x1="610.6" y1="211.6" x2="613.4" y2="208.8" stroke="#222" stroke-width="0.6"/>
<line x1="610.6" y1="229.8" x2="613.4" y2="227" stroke="#222" stroke-width="0.6"/>
<text x="610.2" y="219.3" font-size="6.2" text-anchor="middle" fill="#333" font-weight="normal" textLength="8" lengthAdjust="spacingAndGlyphs" transform="rotate(-90 610.2 219.3)" opacity="0.999">300</text>
<path d="M642.73 222.62V226.58M642.27 223.94H643.44M643.96 222.4V226.8M645.33 222.84V226.58M643.64 223.06H645.33M643.64 224.6H645.33M646.33 222.62V226.58M645.87 223.94H646.89M647.41 222.4V226.8M648.93 222.84V226.58M647.09 223.06H648.93M647.09 224.6H648.93" stroke="#000" stroke-width="0.64" fill="none" opacity="1.0"/>
<text x="652.95" y="227" font-size="6.4" text-anchor="middle" fill="#333" font-weight="normal" textLength="6.9" lengthAdjust="spacingAndGlyphs" opacity="0.999">C30</text>
<path d="M657.19 222.75H659.61M657.22 224.6H659.5M657.44 226.45H659.69M658.42 222.4V226.8M657.28 223.72V226.36M659.72 223.72V226.36M660.95 222.75H663.21M660.97 224.6H663.37M660.59 226.45H663.06M661.97 222.4V226.8M662.1 224.6L660.57 226.8M662.1 224.6L663.63 226.8M664.63 222.62V226.58M664.17 223.94H665.46M665.98 222.4V226.8M667.23 222.84V226.58M665.66 223.06H667.23M665.66 224.6H667.23M668.23 222.62V226.58M667.77 223.94H668.76M669.27 222.4V226.8M670.83 222.84V226.58M668.96 223.06H670.83M668.96 224.6H670.83M671.76 222.75H673.94M671.79 224.6H673.86M671.4 226.45H674.42M672.74 222.4V226.8M672.9 224.6L671.37 226.8M672.9 224.6L674.43 226.8M675.43 222.62V226.58M674.97 223.94H676.08M676.6 222.4V226.8M678.03 222.84V226.58M676.28 223.06H678.03M676.28 224.6H678.03" stroke="#000" stroke-width="0.64" fill="none" opacity="1.0"/>
<polyline points="629.8,218 641,228 677,228" fill="none" stroke="#333" stroke-width="0.6"/>
<line x1="617.1" y1="234.7" x2="629.8" y2="234.7" stroke="#222" stroke-width="0.6"/>
<line x1="617.1" y1="232.5" x2="617.1" y2="236.5" stroke="#222" stroke-width="0.5"/>
<line x1="629.8" y1="232.5" x2="629.8" y2="236.5" stroke="#222" stroke-width="0.5"/>
<path d="M617.34 238.81V242.59M616.9 240.07H617.96M618.46 238.6V242.8M619.83 239.02V242.59M618.16 239.23H619.83M618.16 240.7H619.83M618.16 242.17H619.83M620.23 238.94H622.66M620.36 240.7H622.97M620.55 242.46H622.69M621.94 238.6V242.8M620.52 239.86V242.38M622.86 239.86V242.38M623.99 238.81V242.59M623.55 240.07H624.43M624.93 238.6V242.8M626.48 239.02V242.59M624.63 239.23H626.48M624.63 240.7H626.48M624.63 242.17H626.48M627.31 238.81V242.59M626.87 240.07H627.96M628.47 238.6V242.8M629.8 239.02V242.59M628.16 239.23H629.8M628.16 240.7H629.8M628.16 242.17H629.8" stroke="#000" stroke-width="0.61" fill="none" opacity="1.0"/>
<text x="622" y="258" font-size="6.2" text-anchor="middle" fill="#222" font-weight="normal" textLength="11" lengthAdjust="spacingAndGlyphs" opacity="0.999">C-C</text>
<path d="M628.97 255.4H630.82M628.97 257H631.05M628.88 258.6H631.36M629.95 255.1V258.9M629.97 257L628.57 258.9M629.97 257L631.36 258.9M631.92 255.29V258.71M631.51 256.43H632.52M632.99 255.1V258.9M634.29 255.48V258.71M632.72 255.67H634.29M632.72 257H634.29M634.95 255.4H636.97M634.49 257H637M634.57 258.6H636.86M635.92 255.1V258.9M634.72 256.24V258.52M636.95 256.24V258.52" stroke="#000" stroke-width="0.55" fill="none" opacity="1.0"/>
<line x1="615.3" y1="260.7" x2="637.5" y2="260.7" stroke="#000" stroke-width="1.3"/>
<rect x="158.4" y="403.3" width="112.9" height="3.4" fill="#bbb" stroke="none" stroke-width="0.8"/>
<line x1="158.4" y1="403.4" x2="271.3" y2="403.4" stroke="#222" stroke-width="1"/>
<line x1="158.4" y1="406.7" x2="271.3" y2="406.7" stroke="#555" stroke-width="0.5"/>
<polygon points="172.8,391 185.9,391 185.1,403.3 173.6,403.3" fill="#6e6e6e" stroke="#333" stroke-width="0.5"/>
<rect x="176" y="392.7" width="7" height="3.8" fill="#f4f4f4" stroke="#444" stroke-width="0.5"/>
<rect x="176.7" y="388" width="5.8" height="3" fill="#ddd" stroke="#333" stroke-width="0.6"/>
<rect x="178.1" y="396.5" width="3" height="6.8" fill="#d8d8d8" stroke="#555" stroke-width="0.4"/>
<polygon points="174.1,400.5 176.3,400.5 175.4,403" fill="#000" stroke="none" stroke-width="0.8"/>
<polygon points="182.9,400.5 185.1,400.5 183.8,403" fill="#000" stroke="none" stroke-width="0.8"/>
<path d="M174.1 406.7 A5.5 5.5 0 0 0 185.1 406.7" fill="none" stroke="#444" stroke-width="0.6"/>
<line x1="179.6" y1="384" x2="179.6" y2="422" stroke="#444" stroke-width="0.5" stroke-dasharray="3 1.2"/>
<line x1="171.6" y1="415.2" x2="187.6" y2="415.2" stroke="#222" stroke-width="0.6"/>
<polygon points="177.6,415.2 175.1,414.4 175.1,416" fill="#222" stroke="none" stroke-width="0.8"/>
<polygon points="181.6,415.2 184.1,414.4 184.1,416" fill="#222" stroke="none" stroke-width="0.8"/>
<text x="179.6" y="421.5" font-size="5.2" text-anchor="middle" fill="#333" font-weight="normal" opacity="0.999">8</text>
<text x="179.6" y="434" font-size="5.6" text-anchor="middle" fill="#333" font-weight="normal" textLength="6.5" lengthAdjust="spacingAndGlyphs" opacity="0.999">15</text>
<polygon points="243.7,391 256.8,391 256,403.3 244.5,403.3" fill="#6e6e6e" stroke="#333" stroke-width="0.5"/>
<rect x="246.9" y="392.7" width="7" height="3.8" fill="#f4f4f4" stroke="#444" stroke-width="0.5"/>
<rect x="247.6" y="388" width="5.8" height="3" fill="#ddd" stroke="#333" stroke-width="0.6"/>
<rect x="249" y="396.5" width="3" height="6.8" fill="#d8d8d8" stroke="#555" stroke-width="0.4"/>
<polygon points="245,400.5 247.2,400.5 246.3,403" fill="#000" stroke="none" stroke-width="0.8"/>
<polygon points="253.8,400.5 256,400.5 254.7,403" fill="#000" stroke="none" stroke-width="0.8"/>
<path d="M245 406.7 A5.5 5.5 0 0 0 256 406.7" fill="none" stroke="#444" stroke-width="0.6"/>
<line x1="250.5" y1="384" x2="250.5" y2="422" stroke="#444" stroke-width="0.5" stroke-dasharray="3 1.2"/>
<line x1="242.5" y1="415.2" x2="258.5" y2="415.2" stroke="#222" stroke-width="0.6"/>
<polygon points="248.5,415.2 246,414.4 246,416" fill="#222" stroke="none" stroke-width="0.8"/>
<polygon points="252.5,415.2 255,414.4 255,416" fill="#222" stroke="none" stroke-width="0.8"/>
<text x="250.5" y="421.5" font-size="5.2" text-anchor="middle" fill="#333" font-weight="normal" opacity="0.999">8</text>
<text x="250.5" y="434" font-size="5.6" text-anchor="middle" fill="#333" font-weight="normal" textLength="6.5" lengthAdjust="spacingAndGlyphs" opacity="0.999">15</text>
<rect x="193.7" y="406.5" width="1.8" height="27.1" fill="#888" stroke="none" stroke-width="0.8"/>
<line x1="194.6" y1="406.5" x2="194.6" y2="433.6" stroke="#111" stroke-width="1.4" stroke-dasharray="1 0.8"/>
<rect x="234.3" y="406.5" width="1.8" height="27.1" fill="#888" stroke="none" stroke-width="0.8"/>
<line x1="235.2" y1="406.5" x2="235.2" y2="433.6" stroke="#111" stroke-width="1.4" stroke-dasharray="1 0.8"/>
<rect x="200.5" y="386.8" width="29" height="34" fill="#fff" stroke="#333" stroke-width="1.3"/>
<rect x="201.8" y="388.1" width="26.4" height="31.4" fill="none" stroke="#999" stroke-width="0.6"/>
<line x1="215" y1="386.2" x2="215" y2="421.3" stroke="#555" stroke-width="0.6"/>
<line x1="200.5" y1="404.1" x2="230" y2="404.1" stroke="#555" stroke-width="0.6"/>
<line x1="179.5" y1="380.3" x2="250.5" y2="380.3" stroke="#222" stroke-width="0.6"/>
<line x1="179.5" y1="378" x2="179.5" y2="383" stroke="#222" stroke-width="0.5"/>
<line x1="250.5" y1="378" x2="250.5" y2="383" stroke="#222" stroke-width="0.5"/>
<polygon points="179.5,380.3 183,379.5 183,381.1" fill="#222" stroke="none" stroke-width="0.8"/>
<polygon points="250.5,380.3 247,379.5 247,381.1" fill="#222" stroke="none" stroke-width="0.8"/>
<text x="215" y="377" font-size="6" text-anchor="middle" fill="#333" font-weight="normal" textLength="10" lengthAdjust="spacingAndGlyphs" opacity="0.999">105</text>
<line x1="200" y1="428.4" x2="230" y2="428.4" stroke="#222" stroke-width="0.6"/>
<polygon points="200,428.4 203.3,427.6 203.3,429.2" fill="#222" stroke="none" stroke-width="0.8"/>
<polygon points="230,428.4 226.7,427.6 226.7,429.2" fill="#222" stroke="none" stroke-width="0.8"/>
<text x="215" y="426.5" font-size="5.6" text-anchor="middle" fill="#333" font-weight="normal" textLength="6.5" lengthAdjust="spacingAndGlyphs" opacity="0.999">60</text>
<line x1="240.7" y1="386.2" x2="240.7" y2="421.3" stroke="#222" stroke-width="0.6"/>
<line x1="238.5" y1="386.2" x2="243" y2="386.2" stroke="#222" stroke-width="0.5"/>
<line x1="238.5" y1="421.3" x2="243" y2="421.3" stroke="#222" stroke-width="0.5"/>
<text x="238.6" y="397" font-size="5.6" text-anchor="middle" fill="#333" font-weight="normal" textLength="6.5" lengthAdjust="spacingAndGlyphs" transform="rotate(-90 238.6 397)" opacity="0.999">60</text>
<line x1="166.4" y1="386.4" x2="166.4" y2="421" stroke="#222" stroke-width="0.6"/>
<text x="167.8" y="390" font-size="5" text-anchor="middle" fill="#333" font-weight="normal" opacity="0.999">6</text>
<line x1="163" y1="421" x2="173" y2="421" stroke="#333" stroke-width="0.5"/>
<text x="170.5" y="423" font-size="4.6" text-anchor="middle" fill="#333" font-weight="normal" opacity="0.999">4</text>
<line x1="252.5" y1="391" x2="261.5" y2="383" stroke="#333" stroke-width="0.6"/>
<text x="263.3" y="384" font-size="5" text-anchor="middle" fill="#333" font-weight="normal" opacity="0.999">1</text>
<text x="212" y="437" font-size="6" text-anchor="middle" fill="#222" font-weight="normal" textLength="10.5" lengthAdjust="spacingAndGlyphs" opacity="0.999">A-A</text>
<path d="M218.06 433.79V437.21M217.58 434.93H218.91M219.38 433.6V437.4M220.78 433.98V437.21M219.11 434.17H220.78M219.11 435.5H220.78M219.11 436.83H220.78M221.34 433.9H223.93M221.57 434.97H223.54M221.42 436.03H223.62M221 437.1H224.07M222.45 433.6V437.4M221.27 434.74V437.02M223.83 434.74V437.02M224.8 433.79V437.21M224.32 434.93H225.71M226.18 433.6V437.4M227.52 433.98V437.21M225.91 434.17H227.52M225.91 435.5H227.52" stroke="#000" stroke-width="0.55" fill="none" opacity="1.0"/>
<line x1="205.6" y1="438.9" x2="229" y2="438.9" stroke="#000" stroke-width="1.3"/>
<text x="215" y="444.8" font-size="5.2" text-anchor="middle" fill="#333" font-weight="normal" textLength="7" lengthAdjust="spacingAndGlyphs" opacity="0.999">1:2</text>
<path d="M518.09 334.3H521.04M518.2 336.4H521.08M517.94 338.5H520.99M519.88 333.9V338.9M519.6 336.4L517.93 338.9M519.6 336.4L521.27 338.9M522.23 334.15V338.65M521.73 335.65H523.06M523.62 333.9V338.9M525.07 334.4V338.65M523.26 334.65H525.07M523.26 336.4H525.07" stroke="#000" stroke-width="0.72" fill="none" opacity="1.0"/>
<text x="526.3" y="348.7" font-size="6.2" text-anchor="middle" fill="#444" font-weight="normal" textLength="4.2" lengthAdjust="spacingAndGlyphs" opacity="0.999">1.</text>
<path d="M530.08 343.76V348.44M529.65 345.32H530.65M531.12 343.5V348.7M532.51 344.02V348.44M530.85 344.28H532.51M530.85 346.1H532.51M530.85 347.92H532.51M533.85 343.76V348.44M533.42 345.32H534.26M534.73 343.5V348.7M536.28 344.02V348.44M534.46 344.28H536.28M534.46 346.1H536.28M534.46 347.92H536.28M537.61 343.76V348.44M537.18 345.32H538.35M538.82 343.5V348.7M540.05 344.02V348.44M538.55 344.28H540.05M538.55 346.1H540.05M541.45 343.92H543.68M541.16 346.1H543.46M541.29 348.28H543.62M542.43 343.5V348.7M542.38 346.1L540.95 348.7M542.38 346.1L543.81 348.7M545.14 343.76V348.44M544.71 345.32H545.84M546.3 343.5V348.7M547.58 344.02V348.44M546.04 344.28H547.58M546.04 346.1H547.58M546.04 347.92H547.58M548.91 343.76V348.44M548.48 345.32H549.59M550.05 343.5V348.7M551.34 344.02V348.44M549.79 344.28H551.34M549.79 346.1H551.34M549.79 347.92H551.34M552.67 343.76V348.44M552.25 345.32H553.39M553.85 343.5V348.7M555.11 344.02V348.44M553.59 344.28H555.11M553.59 346.1H555.11M556.28 343.92H558.31M556.19 346.1H558.75M556.3 348.28H558.87M557.28 343.5V348.7M556.3 345.06V348.18M558.59 345.06V348.18M560.21 343.76V348.44M559.78 345.32H560.72M561.19 343.5V348.7M562.64 344.02V348.44M560.92 344.28H562.64M560.92 346.1H562.64M563.97 343.76V348.44M563.54 345.32H564.57M565.04 343.5V348.7M566.4 344.02V348.44M564.77 344.28H566.4M564.77 346.1H566.4M564.77 347.92H566.4M567.74 343.76V348.44M567.31 345.32H568.35M568.81 343.5V348.7M570.17 344.02V348.44M568.55 344.28H570.17M568.55 346.1H570.17M568.55 347.92H570.17M571.59 343.92H573.5M571.27 346.1H573.92M571.24 348.28H573.93M572.25 343.5V348.7M571.36 345.06V348.18M573.65 345.06V348.18M575.21 343.92H577.65M575.37 345.37H577.66M575.24 346.83H577.5M574.92 348.28H577.66M576.56 343.5V348.7M576.27 346.1L574.84 348.7M576.27 346.1L577.7 348.7M579.03 343.76V348.44M578.61 345.32H579.75M580.21 343.5V348.7M581.47 344.02V348.44M579.95 344.28H581.47M579.95 346.1H581.47M582.83 343.92H584.7M582.57 345.37H584.76M582.64 346.83H584.79M582.51 348.28H584.88M583.84 343.5V348.7M583.8 346.1L582.37 348.7M583.8 346.1L585.23 348.7M586.57 343.76V348.44M586.14 345.32H587.36M587.82 343.5V348.7M589 344.02V348.44M587.56 344.28H589M587.56 346.1H589M590.33 343.76V348.44M589.9 345.32H591.1M591.56 343.5V348.7M592.76 344.02V348.44M591.3 344.28H592.76M591.3 346.1H592.76M591.3 347.92H592.76M594.1 343.76V348.44M593.67 345.32H594.64M595.11 343.5V348.7M596.53 344.02V348.44M594.84 344.28H596.53M594.84 346.1H596.53M594.84 347.92H596.53M597.86 343.76V348.44M597.43 345.32H598.24M598.7 343.5V348.7M600.3 344.02V348.44M598.44 344.28H600.3M598.44 346.1H600.3M601.27 343.92H603.91M601.66 345.37H603.57M601.7 346.83H603.96M601.2 348.28H603.63M602.69 343.5V348.7M601.48 345.06V348.18M603.77 345.06V348.18M605.39 343.76V348.44M604.96 345.32H605.95M606.42 343.5V348.7M607.83 344.02V348.44M606.15 344.28H607.83M606.15 346.1H607.83M609.16 343.76V348.44M608.73 345.32H609.58M610.04 343.5V348.7M611.59 344.02V348.44M609.78 344.28H611.59M609.78 346.1H611.59M609.78 347.92H611.59M612.92 343.76V348.44M612.5 345.32H613.33M613.79 343.5V348.7M615.36 344.02V348.44M613.53 344.28H615.36M613.53 346.1H615.36M616.69 343.76V348.44M616.26 345.32H617.16M617.62 343.5V348.7M619.12 344.02V348.44M617.36 344.28H619.12M617.36 346.1H619.12M617.36 347.92H619.12M620.21 343.92H622.71M620.3 346.1H622.8M620.26 348.28H622.49M621.36 343.5V348.7M621.46 346.1L620.03 348.7M621.46 346.1L622.89 348.7M624.22 343.76V348.44M623.79 345.32H624.64M625.1 343.5V348.7M626.65 344.02V348.44M624.84 344.28H626.65M624.84 346.1H626.65M627.99 343.76V348.44M627.56 345.32H628.75M629.22 343.5V348.7M630.42 344.02V348.44M628.95 344.28H630.42M628.95 346.1H630.42M631.75 343.76V348.44M631.32 345.32H632.23M632.69 343.5V348.7M634.19 344.02V348.44M632.43 344.28H634.19M632.43 346.1H634.19M632.43 347.92H634.19M635.44 343.92H637.52M635.36 346.1H637.68M635.48 348.28H637.6M636.48 343.5V348.7M635.38 345.06V348.18M637.67 345.06V348.18M639.28 343.76V348.44M638.86 345.32H639.89M640.36 343.5V348.7M641.72 344.02V348.44M640.09 344.28H641.72M640.09 346.1H641.72M643.05 343.76V348.44M642.62 345.32H643.52M643.98 343.5V348.7M645.48 344.02V348.44M643.72 344.28H645.48M643.72 346.1H645.48M646.82 343.76V348.44M646.39 345.32H647.48M647.95 343.5V348.7M649.25 344.02V348.44M647.68 344.28H649.25M647.68 346.1H649.25M647.68 347.92H649.25" stroke="#222" stroke-width="0.53" fill="none" opacity="0.78"/>
<path d="M531.29 353.16V357.84M530.86 354.72H531.88M532.35 352.9V358.1M533.75 353.42V357.84M532.08 353.68H533.75M532.08 355.5H533.75M535.1 353.16V357.84M534.66 354.72H535.62M536.09 352.9V358.1M537.55 353.42V357.84M535.82 353.68H537.55M535.82 355.5H537.55M535.82 357.32H537.55M538.9 353.16V357.84M538.47 354.72H539.41M539.88 352.9V358.1M541.36 353.42V357.84M539.61 353.68H541.36M539.61 355.5H541.36M539.61 357.32H541.36M542.71 353.16V357.84M542.27 354.72H543.29M543.75 352.9V358.1M545.16 353.42V357.84M543.49 353.68H545.16M543.49 355.5H545.16M543.49 357.32H545.16M546.51 353.16V357.84M546.08 354.72H546.92M547.39 352.9V358.1M548.97 353.42V357.84M547.12 353.68H548.97M547.12 355.5H548.97M550.32 353.16V357.84M549.88 354.72H550.78M551.24 352.9V358.1M552.77 353.42V357.84M550.98 353.68H552.77M550.98 355.5H552.77M554.12 353.16V357.84M553.69 354.72H554.87M555.34 352.9V358.1M556.58 353.42V357.84M555.07 353.68H556.58M555.07 355.5H556.58M555.07 357.32H556.58M557.93 353.16V357.84M557.49 354.72H558.4M558.86 352.9V358.1M560.39 353.42V357.84M558.6 353.68H560.39M558.6 355.5H560.39M561.73 353.16V357.84M561.3 354.72H562.23M562.69 352.9V358.1M564.19 353.42V357.84M562.43 353.68H564.19M562.43 355.5H564.19M565.53 353.32H567.51M565.14 355.5H567.61M565.11 357.68H567.59M566.81 352.9V358.1M565.39 354.46V357.58M567.71 354.46V357.58M569.39 353.32H571.37M569.12 354.77H571.32M568.92 356.23H571.43M569.27 357.68H571.54M570.41 352.9V358.1M569.2 354.46V357.58M571.51 354.46V357.58M573.08 353.32H575.43M572.87 354.77H575.07M573.02 356.23H575.6M572.91 357.68H575.4M573.91 352.9V358.1M574.16 355.5L572.71 358.1M574.16 355.5L575.61 358.1M576.82 353.32H578.92M576.98 355.5H579.13M577 357.68H579.36M578.19 352.9V358.1M576.81 354.46V357.58M579.12 354.46V357.58M580.76 353.16V357.84M580.33 354.72H581.52M581.98 352.9V358.1M583.22 353.42V357.84M581.72 353.68H583.22M581.72 355.5H583.22M584.56 353.16V357.84M584.13 354.72H585.04M585.5 352.9V358.1M587.02 353.42V357.84M585.24 353.68H587.02M585.24 355.5H587.02M585.24 357.32H587.02M588.5 353.32H590.59M588.38 354.77H590.36M588.27 356.23H590.26M588.38 357.68H590.29M589.65 352.9V358.1M588.22 354.46V357.58M590.54 354.46V357.58M591.84 353.32H594.06M591.97 355.5H594.14M591.94 357.68H594.25M593.19 352.9V358.1M593.19 355.5L591.74 358.1M593.19 355.5L594.63 358.1M595.98 353.16V357.84M595.55 354.72H596.49M596.96 352.9V358.1M598.44 353.42V357.84M596.69 353.68H598.44M596.69 355.5H598.44M599.92 353.32H602.12M599.61 355.5H601.7M599.49 357.68H602.22M600.7 352.9V358.1M599.64 354.46V357.58M601.95 354.46V357.58" stroke="#222" stroke-width="0.53" fill="none" opacity="0.78"/>
<text x="526.3" y="367.7" font-size="6.2" text-anchor="middle" fill="#444" font-weight="normal" textLength="4.2" lengthAdjust="spacingAndGlyphs" opacity="0.999">2.</text>
<path d="M530.1 362.76V367.44M529.66 364.32H530.9M531.36 362.5V367.7M532.59 363.02V367.44M531.1 363.28H532.59M531.1 365.1H532.59M531.1 366.92H532.59M533.96 362.76V367.44M533.52 364.32H534.39M534.85 362.5V367.7M536.45 363.02V367.44M534.59 363.28H536.45M534.59 365.1H536.45M534.59 366.92H536.45M537.81 362.76V367.44M537.37 364.32H538.41M538.88 362.5V367.7M540.31 363.02V367.44M538.61 363.28H540.31M538.61 365.1H540.31M541.25 362.92H544.14M541.3 364.37H543.64M541.54 365.83H543.8M541.48 367.28H544.02M542.61 362.5V367.7M542.7 365.1L541.23 367.7M542.7 365.1L544.16 367.7M545.53 362.76V367.44M545.09 364.32H546.11M546.58 362.5V367.7M548.02 363.02V367.44M546.31 363.28H548.02M546.31 365.1H548.02M549.38 362.76V367.44M548.94 364.32H550.19M550.66 362.5V367.7M551.87 363.02V367.44M550.39 363.28H551.87M550.39 365.1H551.87M550.39 366.92H551.87M553.24 362.76V367.44M552.8 364.32H553.76M554.22 362.5V367.7M555.73 363.02V367.44M553.96 363.28H555.73M553.96 365.1H555.73M557.09 362.76V367.44M556.65 364.32H557.88M558.35 362.5V367.7M559.59 363.02V367.44M558.08 363.28H559.59M558.08 365.1H559.59M558.08 366.92H559.59M561.09 362.92H562.98M560.58 364.37H563.38M560.64 365.83H563.06M560.59 367.28H563.43M561.97 362.5V367.7M560.8 364.06V367.18M563.15 364.06V367.18M564.81 362.76V367.44M564.37 364.32H565.36M565.83 362.5V367.7M567.3 363.02V367.44M565.56 363.28H567.3M565.56 365.1H567.3M568.66 362.76V367.44M568.22 364.32H569.41M569.87 362.5V367.7M571.15 363.02V367.44M569.61 363.28H571.15M569.61 365.1H571.15M572.32 362.92H574.8M572.27 365.1H575M572.57 367.28H574.58M573.54 362.5V367.7M572.37 364.06V367.18M574.72 364.06V367.18M576.37 362.76V367.44M575.93 364.32H577.16M577.62 362.5V367.7M578.87 363.02V367.44M577.36 363.28H578.87M577.36 365.1H578.87M577.36 366.92H578.87M580.31 362.92H582.65M580.08 365.1H582.39M579.86 367.28H582.53M581.33 362.5V367.7M581.26 365.1L579.79 367.7M581.26 365.1L582.72 367.7M584.12 362.92H586.27M584.03 364.37H586.46M583.98 365.83H586.08M583.82 367.28H586.06M584.89 362.5V367.7M583.94 364.06V367.18M586.28 364.06V367.18M587.94 362.76V367.44M587.5 364.32H588.58M589.04 362.5V367.7M590.43 363.02V367.44M588.78 363.28H590.43M588.78 365.1H590.43M588.78 366.92H590.43M591.8 362.76V367.44M591.36 364.32H592.27M592.74 362.5V367.7M594.29 363.02V367.44M592.47 363.28H594.29M592.47 365.1H594.29M592.47 366.92H594.29M595.46 362.92H598M595.46 364.37H597.9M595.53 365.83H598.05M595.72 367.28H598.06M596.77 362.5V367.7M595.51 364.06V367.18M597.85 364.06V367.18M599.51 362.92H601.88M599.38 364.37H601.9M599.21 365.83H601.92M599.12 367.28H601.8M600.76 362.5V367.7M600.54 365.1L599.07 367.7M600.54 365.1L602 367.7M603.37 362.76V367.44M602.93 364.32H603.85M604.31 362.5V367.7M605.86 363.02V367.44M604.05 363.28H605.86M604.05 365.1H605.86M607.22 362.76V367.44M606.78 364.32H607.65M608.11 362.5V367.7M609.71 363.02V367.44M607.85 363.28H609.71M607.85 365.1H609.71M611.08 362.76V367.44M610.64 364.32H611.63M612.09 362.5V367.7M613.57 363.02V367.44M611.83 363.28H613.57M611.83 365.1H613.57M611.83 366.92H613.57M614.93 362.76V367.44M614.49 364.32H615.47M615.94 362.5V367.7M617.43 363.02V367.44M615.67 363.28H617.43M615.67 365.1H617.43M615.67 366.92H617.43M618.67 362.92H620.79M618.93 364.37H620.83M618.67 365.83H620.86M618.72 367.28H620.72M620.09 362.5V367.7M619.82 365.1L618.35 367.7M619.82 365.1L621.28 367.7M622.65 362.76V367.44M622.21 364.32H623.28M623.75 362.5V367.7M625.14 363.02V367.44M623.48 363.28H625.14M623.48 365.1H625.14M623.48 366.92H625.14" stroke="#222" stroke-width="0.53" fill="none" opacity="0.78"/>
<text x="526.3" y="377.1" font-size="6.2" text-anchor="middle" fill="#444" font-weight="normal" textLength="4.2" lengthAdjust="spacingAndGlyphs" opacity="0.999">3.</text>
<path d="M530.11 372.32H532.44M530.07 374.5H532.28M529.91 376.68H532.15M531.24 371.9V377.1M531.11 374.5L529.66 377.1M531.11 374.5L532.56 377.1M533.63 372.32H536M533.77 373.77H535.84M533.74 375.23H536.18M533.5 376.68H536.11M534.95 371.9V377.1M533.77 373.46V376.58M536.1 373.46V376.58M537.74 372.16V376.84M537.3 373.72H538.33M538.8 371.9V377.1M540.21 372.42V376.84M538.53 372.68H540.21M538.53 374.5H540.21M541.38 372.32H543.83M541.42 374.5H543.72M541.35 376.68H543.95M542.3 371.9V377.1M541.42 373.46V376.58M543.74 373.46V376.58M545.03 372.32H547.4M545.13 374.5H547.61M545.3 376.68H547.38M546.2 371.9V377.1M546.4 374.5L544.95 377.1M546.4 374.5L547.85 377.1M549 372.32H551.45M549.33 374.5H551.42M549.1 376.68H551.11M550.3 371.9V377.1M549.06 373.46V376.58M551.38 373.46V376.58M552.99 372.32H555.08M552.68 374.5H554.92M552.92 376.68H554.97M553.93 371.9V377.1M552.88 373.46V376.58M555.21 373.46V376.58M556.85 372.16V376.84M556.41 373.72H557.39M557.86 371.9V377.1M559.32 372.42V376.84M557.59 372.68H559.32M557.59 374.5H559.32M557.59 376.32H559.32M560.67 372.16V376.84M560.24 373.72H561.28M561.74 371.9V377.1M563.14 372.42V376.84M561.48 372.68H563.14M561.48 374.5H563.14M564.49 372.16V376.84M564.06 373.72H564.99M565.46 371.9V377.1M566.96 372.42V376.84M565.19 372.68H566.96M565.19 374.5H566.96M565.19 376.32H566.96M567.95 372.32H570.66M568.34 373.77H570.74M568.12 375.23H570.33M568.29 376.68H570.32M569.11 371.9V377.1M569.33 374.5L567.88 377.1M569.33 374.5L570.79 377.1M572.14 372.16V376.84M571.7 373.72H572.87M573.34 371.9V377.1M574.61 372.42V376.84M573.07 372.68H574.61M573.07 374.5H574.61M573.07 376.32H574.61M575.96 372.16V376.84M575.53 373.72H576.72M577.19 371.9V377.1M578.43 372.42V376.84M576.92 372.68H578.43M576.92 374.5H578.43M576.92 376.32H578.43M579.78 372.16V376.84M579.35 373.72H580.23M580.7 371.9V377.1M582.25 372.42V376.84M580.43 372.68H582.25M580.43 374.5H582.25M580.43 376.32H582.25M583.61 372.16V376.84M583.17 373.72H584.35M584.81 371.9V377.1M586.07 372.42V376.84M584.55 372.68H586.07M584.55 374.5H586.07M587.08 372.32H589.62M587.26 373.77H589.83M587.15 375.23H589.36M587.41 376.68H589.6M588.51 371.9V377.1M588.44 374.5L586.99 377.1M588.44 374.5L589.9 377.1M591.31 372.32H593.57M591.18 373.77H593.19M591.19 375.23H593.36M591.35 376.68H593.17M592.05 371.9V377.1M591.1 373.46V376.58M593.43 373.46V376.58M595.07 372.16V376.84M594.64 373.72H595.8M596.26 371.9V377.1M597.54 372.42V376.84M596 372.68H597.54M596 374.5H597.54M596 376.32H597.54" stroke="#222" stroke-width="0.53" fill="none" opacity="0.78"/>
<text x="526.3" y="387.2" font-size="6.2" text-anchor="middle" fill="#444" font-weight="normal" textLength="4.2" lengthAdjust="spacingAndGlyphs" opacity="0.999">4.</text>
<path d="M530.11 382.26V386.94M529.67 383.82H530.87M531.33 382V387.2M532.62 382.52V386.94M531.07 382.78H532.62M531.07 384.6H532.62M533.59 382.42H536.27M533.81 384.6H536.35M533.99 386.78H535.97M534.81 382V387.2M533.84 383.56V386.68M536.2 383.56V386.68M537.53 382.42H540.2M537.62 384.6H540.16M537.54 386.78H540.29M539.17 382V387.2M537.73 383.56V386.68M540.09 383.56V386.68M541.37 382.42H543.82M541.56 384.6H543.72M541.45 386.78H543.75M542.63 382V387.2M541.61 383.56V386.68M543.97 383.56V386.68M545.64 382.26V386.94M545.2 383.82H546.06M546.53 382V387.2M548.15 382.52V386.94M546.26 382.78H548.15M546.26 384.6H548.15M546.26 386.42H548.15M549.29 382.42H551.61M549.1 383.87H551.73M549.4 385.33H551.97M549.42 386.78H551.77M550.45 382V387.2M550.55 384.6L549.08 387.2M550.55 384.6L552.03 387.2M553.2 382.42H555.71M553.1 384.6H555.56M553.29 386.78H555.88M554.34 382V387.2M553.26 383.56V386.68M555.62 383.56V386.68M557.41 382.42H559.65M557.13 384.6H559.67M557.25 386.78H559.79M558.1 382V387.2M558.32 384.6L556.84 387.2M558.32 384.6L559.79 387.2M560.77 382.42H563.57M561.07 384.6H563.55M561.27 386.78H563.62M562.11 382V387.2M561.02 383.56V386.68M563.38 383.56V386.68M564.72 382.42H567.44M564.86 384.6H567.26M564.63 386.78H567.5M565.9 382V387.2M564.9 383.56V386.68M567.27 383.56V386.68M568.64 382.42H570.97M568.81 384.6H571.23M569.06 386.78H571.1M569.81 382V387.2M568.79 383.56V386.68M571.15 383.56V386.68M572.77 382.42H575.05M572.6 384.6H574.97M572.62 386.78H575.29M574.05 382V387.2M572.67 383.56V386.68M575.03 383.56V386.68M576.7 382.26V386.94M576.26 383.82H577.16M577.62 382V387.2M579.21 382.52V386.94M577.36 382.78H579.21M577.36 384.6H579.21M577.36 386.42H579.21M580.58 382.26V386.94M580.14 383.82H581.24M581.7 382V387.2M583.09 382.52V386.94M581.44 382.78H583.09M581.44 384.6H583.09M581.44 386.42H583.09M584.19 382.42H586.82M584.32 384.6H586.66M584.15 386.78H586.52M585.5 382V387.2M584.32 383.56V386.68M586.68 383.56V386.68M588.35 382.26V386.94M587.91 383.82H589.11M589.57 382V387.2M590.86 382.52V386.94M589.31 382.78H590.86M589.31 384.6H590.86M589.31 386.42H590.86M592.23 382.26V386.94M591.79 383.82H592.65M593.12 382V387.2M594.74 382.52V386.94M592.85 382.78H594.74M592.85 384.6H594.74M596.11 382.26V386.94M595.67 383.82H596.89M597.36 382V387.2M598.62 382.52V386.94M597.09 382.78H598.62M597.09 384.6H598.62M597.09 386.42H598.62M600 382.26V386.94M599.55 383.82H600.58M601.05 382V387.2M602.5 382.52V386.94M600.78 382.78H602.5M600.78 384.6H602.5M600.78 386.42H602.5M603.88 382.26V386.94M603.44 383.82H604.43M604.9 382V387.2M606.39 382.52V386.94M604.63 382.78H606.39M604.63 384.6H606.39M607.78 382.42H610.2M607.62 383.87H609.76M607.5 385.33H609.89M607.61 386.78H609.98M608.91 382V387.2M607.61 383.56V386.68M609.97 383.56V386.68M611.64 382.26V386.94M611.2 383.82H612.19M612.65 382V387.2M614.15 382.52V386.94M612.39 382.78H614.15M612.39 384.6H614.15M615.53 382.26V386.94M615.08 383.82H616.33M616.8 382V387.2M618.03 382.52V386.94M616.53 382.78H618.03M616.53 384.6H618.03M616.53 386.42H618.03" stroke="#222" stroke-width="0.53" fill="none" opacity="0.78"/>
<text x="526.3" y="398.6" font-size="6.2" text-anchor="middle" fill="#444" font-weight="normal" textLength="4.2" lengthAdjust="spacingAndGlyphs" opacity="0.999">5.</text>
<path d="M530.1 393.66V398.34M529.66 395.22H530.63M531.09 393.4V398.6M532.59 393.92V398.34M530.83 394.18H532.59M530.83 396H532.59M533.95 393.66V398.34M533.51 395.22H534.34M534.81 393.4V398.6M536.43 393.92V398.34M534.54 394.18H536.43M534.54 396H536.43M534.54 397.82H536.43M537.79 393.66V398.34M537.35 395.22H538.29M538.75 393.4V398.6M540.28 393.92V398.34M538.49 394.18H540.28M538.49 396H540.28M541.64 393.66V398.34M541.2 395.22H542.04M542.5 393.4V398.6M544.13 393.92V398.34M542.24 394.18H544.13M542.24 396H544.13M542.24 397.82H544.13M545.41 393.82H547.95M545.27 395.27H547.67M545.06 396.73H547.89M545.25 398.18H547.57M546.27 393.4V398.6M546.51 396L545.05 398.6M546.51 396L547.97 398.6M549.33 393.66V398.34M548.89 395.22H550.09M550.55 393.4V398.6M551.82 393.92V398.34M550.29 394.18H551.82M550.29 396H551.82M553.18 393.66V398.34M552.74 395.22H553.99M554.45 393.4V398.6M555.67 393.92V398.34M554.19 394.18H555.67M554.19 396H555.67M554.19 397.82H555.67M557.03 393.66V398.34M556.59 395.22H557.47M557.94 393.4V398.6M559.51 393.92V398.34M557.67 394.18H559.51M557.67 396H559.51M557.67 397.82H559.51M560.87 393.66V398.34M560.43 395.22H561.29M561.75 393.4V398.6M563.36 393.92V398.34M561.49 394.18H563.36M561.49 396H563.36M561.49 397.82H563.36M564.64 393.82H567.01M564.72 396H566.67M564.81 398.18H566.79M565.97 393.4V398.6M565.74 396L564.28 398.6M565.74 396L567.21 398.6M568.57 393.66V398.34M568.13 395.22H569.01M569.48 393.4V398.6M571.05 393.92V398.34M569.21 394.18H571.05M569.21 396H571.05M572.41 393.66V398.34M571.97 395.22H573.18M573.64 393.4V398.6M574.9 393.92V398.34M573.38 394.18H574.9M573.38 396H574.9M573.38 397.82H574.9M576.4 393.82H578.56M576.35 396H578.28M576.31 398.18H578.32M577.07 393.4V398.6M576.11 394.96V398.08M578.45 394.96V398.08M580.11 393.66V398.34M579.67 395.22H580.62M581.09 393.4V398.6M582.59 393.92V398.34M580.82 394.18H582.59M580.82 396H582.59M583.95 393.66V398.34M583.51 395.22H584.46M584.92 393.4V398.6M586.44 393.92V398.34M584.66 394.18H586.44M584.66 396H586.44M584.66 397.82H586.44M587.8 393.66V398.34M587.36 395.22H588.42M588.89 393.4V398.6M590.29 393.92V398.34M588.62 394.18H590.29M588.62 396H590.29M591.65 393.66V398.34M591.21 395.22H592.24M592.71 393.4V398.6M594.13 393.92V398.34M592.44 394.18H594.13M592.44 396H594.13M592.44 397.82H594.13M595.49 393.66V398.34M595.05 395.22H596M596.46 393.4V398.6M597.98 393.92V398.34M596.2 394.18H597.98M596.2 396H597.98M599.34 393.66V398.34M598.9 395.22H600.06M600.53 393.4V398.6M601.83 393.92V398.34M600.26 394.18H601.83M600.26 396H601.83M600.26 397.82H601.83M603.19 393.66V398.34M602.75 395.22H603.61M604.08 393.4V398.6M605.67 393.92V398.34M603.81 394.18H605.67M603.81 396H605.67M606.62 393.82H609.11M606.96 396H609.24M606.98 398.18H609.21M607.87 393.4V398.6M608.06 396L606.59 398.6M608.06 396L609.52 398.6M610.88 393.66V398.34M610.44 395.22H611.4M611.87 393.4V398.6M613.37 393.92V398.34M611.6 394.18H613.37M611.6 396H613.37M614.78 393.82H616.94M614.36 395.27H616.66M614.67 396.73H616.82M614.51 398.18H617.06M615.76 393.4V398.6M614.58 394.96V398.08M616.92 394.96V398.08M618.57 393.66V398.34M618.13 395.22H619.17M619.64 393.4V398.6M621.06 393.92V398.34M619.37 394.18H621.06M619.37 396H621.06M622.42 393.66V398.34M621.98 395.22H623.16M623.62 393.4V398.6M624.91 393.92V398.34M623.36 394.18H624.91M623.36 396H624.91M626.21 393.82H628.58M626.3 395.27H628.26M626.32 396.73H628.62M625.83 398.18H628.54M627.32 393.4V398.6M627.29 396L625.83 398.6M627.29 396L628.75 398.6M629.96 393.82H632.28M630.19 396H632.56M629.88 398.18H632.2M631.16 393.4V398.6M629.97 394.96V398.08M632.31 394.96V398.08M633.96 393.66V398.34M633.52 395.22H634.44M634.91 393.4V398.6M636.45 393.92V398.34M634.64 394.18H636.45M634.64 396H636.45M637.81 393.66V398.34M637.37 395.22H638.6M639.07 393.4V398.6M640.29 393.92V398.34M638.8 394.18H640.29M638.8 396H640.29M638.8 397.82H640.29M641.65 393.66V398.34M641.21 395.22H642.26M642.73 393.4V398.6M644.14 393.92V398.34M642.46 394.18H644.14M642.46 396H644.14" stroke="#222" stroke-width="0.53" fill="none" opacity="0.78"/>
<text x="526.3" y="409.2" font-size="6.2" text-anchor="middle" fill="#444" font-weight="normal" textLength="4.2" lengthAdjust="spacingAndGlyphs" opacity="0.999">6.</text>
<path d="M530.07 404.26V408.94M529.64 405.82H530.55M531.02 404V409.2M532.46 404.52V408.94M530.75 404.78H532.46M530.75 406.6H532.46M533.55 404.42H536.01M533.87 406.6H536.14M533.83 408.78H535.68M534.52 404V409.2M534.76 406.6L533.35 409.2M534.76 406.6L536.17 409.2M537.61 404.42H539.7M537.26 406.6H539.43M537.26 408.78H539.56M538.3 404V409.2M538.46 406.6L537.06 409.2M538.46 406.6L539.87 409.2M541.13 404.42H543.53M540.8 405.87H543.07M540.97 407.33H543.31M541.31 408.78H543.47M542.24 404V409.2M541.04 405.56V408.68M543.29 405.56V408.68M544.76 404.42H547.21M544.95 405.87H547.07M544.99 407.33H547.21M544.66 408.78H547.18M545.86 404V409.2M545.87 406.6L544.47 409.2M545.87 406.6L547.28 409.2M548.49 404.42H550.5M548.21 405.87H550.72M548.59 407.33H550.87M548.44 408.78H550.68M549.33 404V409.2M548.45 405.56V408.68M550.71 405.56V408.68M552.41 404.42H554.49M552.09 405.87H554.21M552.18 407.33H554.34M552.12 408.78H554.43M553.54 404V409.2M552.16 405.56V408.68M554.41 405.56V408.68M556 404.26V408.94M555.58 405.82H556.57M557.03 404V409.2M558.4 404.52V408.94M556.77 404.78H558.4M556.77 406.6H558.4M559.71 404.26V408.94M559.29 405.82H560.3M560.76 404V409.2M562.1 404.52V408.94M560.5 404.78H562.1M560.5 406.6H562.1M563.02 404.42H565.58M563.5 406.6H565.33M563.39 408.78H565.26M564.43 404V409.2M564.4 406.6L562.99 409.2M564.4 406.6L565.81 409.2M567.12 404.26V408.94M566.7 405.82H567.53M567.99 404V409.2M569.51 404.52V408.94M567.73 404.78H569.51M567.73 406.6H569.51M567.73 408.42H569.51M570.82 404.26V408.94M570.4 405.82H571.36M571.83 404V409.2M573.22 404.52V408.94M571.56 404.78H573.22M571.56 406.6H573.22M571.56 408.42H573.22M574.14 404.42H576.63M574.5 406.6H576.48M574.63 408.78H576.81M575.43 404V409.2M574.39 405.56V408.68M576.64 405.56V408.68M578.34 404.42H580.46M578.06 406.6H580.45M578.11 408.78H580.47M579.32 404V409.2M578.09 405.56V408.68M580.35 405.56V408.68M581.64 404.42H584.01M581.72 406.6H583.99M582.07 408.78H584.1M582.81 404V409.2M581.8 405.56V408.68M584.05 405.56V408.68M585.65 404.26V408.94M585.22 405.82H586.27M586.73 404V409.2M588.04 404.52V408.94M586.47 404.78H588.04M586.47 406.6H588.04M586.47 408.42H588.04M589.35 404.26V408.94M588.93 405.82H590.07M590.54 404V409.2M591.74 404.52V408.94M590.27 404.78H591.74M590.27 406.6H591.74M592.72 404.42H595.07M592.96 406.6H595.31M593.09 408.78H595.07M594 404V409.2M594.04 406.6L592.63 409.2M594.04 406.6L595.45 409.2M596.76 404.42H598.68M596.61 406.6H598.63M596.41 408.78H599.11M597.69 404V409.2M596.62 405.56V408.68M598.87 405.56V408.68" stroke="#222" stroke-width="0.53" fill="none" opacity="0.78"/>
<text x="526.3" y="419.2" font-size="6.2" text-anchor="middle" fill="#444" font-weight="normal" textLength="4.2" lengthAdjust="spacingAndGlyphs" opacity="0.999">7.</text>
<path d="M529.87 414.42H532.22M529.8 416.6H532.4M529.73 418.78H532.12M531.09 414V419.2M531.08 416.6L529.65 419.2M531.08 416.6L532.52 419.2M533.96 414.42H535.8M533.43 416.6H536.21M533.98 418.78H535.78M534.92 414V419.2M534.85 416.6L533.42 419.2M534.85 416.6L536.28 419.2M537.62 414.26V418.94M537.19 415.82H538.17M538.64 414V419.2M540.05 414.52V418.94M538.37 414.78H540.05M538.37 416.6H540.05M541.11 414.42H543.75M541.45 416.6H543.49M541.46 418.78H543.65M542.43 414V419.2M541.24 415.56V418.68M543.53 415.56V418.68M545.2 414.42H547.5M545.16 416.6H547.55M544.81 418.78H547.05M546.3 414V419.2M546.15 416.6L544.72 419.2M546.15 416.6L547.59 419.2M548.92 414.26V418.94M548.49 415.82H549.51M549.98 414V419.2M551.35 414.52V418.94M549.71 414.78H551.35M549.71 416.6H551.35M552.38 414.42H555.04M552.55 416.6H554.56M552.57 418.78H554.92M553.7 414V419.2M552.54 415.56V418.68M554.84 415.56V418.68M556.34 414.42H558.65M556.32 415.87H558.86M556.53 417.33H558.56M556.22 418.78H558.73M557.28 414V419.2M557.46 416.6L556.03 419.2M557.46 416.6L558.89 419.2M560.33 414.42H562.63M560.18 416.6H562.35M559.87 418.78H562.17M561.51 414V419.2M560.08 415.56V418.68M562.37 415.56V418.68M563.99 414.26V418.94M563.56 415.82H564.72M565.19 414V419.2M566.42 414.52V418.94M564.92 414.78H566.42M564.92 416.6H566.42M567.39 414.42H569.87M567.58 415.87H570.09M567.56 417.33H569.74M567.83 418.78H569.63M568.6 414V419.2M568.76 416.6L567.33 419.2M568.76 416.6L570.19 419.2M571.53 414.26V418.94M571.1 415.82H571.95M572.42 414V419.2M573.96 414.52V418.94M572.15 414.78H573.96M572.15 416.6H573.96M574.99 414.42H577.33M574.96 416.6H577.33M575.22 418.78H577.32M576.55 414V419.2M575.15 415.56V418.68M577.44 415.56V418.68M578.84 414.42H581.21M578.97 416.6H581.18M578.77 418.78H581.21M579.81 414V419.2M578.92 415.56V418.68M581.21 415.56V418.68M582.83 414.26V418.94M582.4 415.82H583.43M583.89 414V419.2M585.26 414.52V418.94M583.63 414.78H585.26M583.63 416.6H585.26M586.63 414.42H588.77M586.39 415.87H588.57M586.54 417.33H588.72M586.67 418.78H589.01M587.32 414V419.2M586.45 415.56V418.68M588.74 415.56V418.68M590.36 414.26V418.94M589.93 415.82H591.1M591.56 414V419.2M592.8 414.52V418.94M591.3 414.78H592.8M591.3 416.6H592.8M594.13 414.26V418.94M593.7 415.82H594.76M595.22 414V419.2M596.57 414.52V418.94M594.96 414.78H596.57M594.96 416.6H596.57M597.9 414.26V418.94M597.47 415.82H598.6M599.06 414V419.2M600.33 414.52V418.94M598.8 414.78H600.33M598.8 416.6H600.33M598.8 418.42H600.33M601.55 414.42H603.56M601.53 416.6H603.79M601.5 418.78H603.86M602.78 414V419.2M601.52 415.56V418.68M603.81 415.56V418.68M605.44 414.42H607.56M605.21 415.87H607.81M605.06 417.33H607.56M605.51 418.78H607.37M606.26 414V419.2M606.44 416.6L605.01 419.2M606.44 416.6L607.87 419.2M608.86 414.42H611.37M608.89 416.6H611.29M609.33 418.78H611.5M610.16 414V419.2M610.2 416.6L608.77 419.2M610.2 416.6L611.64 419.2M612.97 414.26V418.94M612.54 415.82H613.35M613.81 414V419.2M615.4 414.52V418.94M613.55 414.78H615.4M613.55 416.6H615.4M613.55 418.42H615.4M616.74 414.26V418.94M616.31 415.82H617.32M617.78 414V419.2M619.17 414.52V418.94M617.52 414.78H619.17M617.52 416.6H619.17M617.52 418.42H619.17M620.51 414.26V418.94M620.08 415.82H621.16M621.63 414V419.2M622.94 414.52V418.94M621.36 414.78H622.94M621.36 416.6H622.94M621.36 418.42H622.94M624.39 414.42H626.54M624.16 416.6H626.16M623.96 418.78H626.67M625.11 414V419.2M624.13 415.56V418.68M626.42 415.56V418.68M627.69 414.42H630.09M628.14 415.87H630.29M627.99 417.33H630.37M628.18 418.78H630.15M629.23 414V419.2M627.9 415.56V418.68M630.19 415.56V418.68M631.75 414.42H634.19M631.69 416.6H634.06M631.81 418.78H633.89M633.04 414V419.2M632.81 416.6L631.38 419.2M632.81 416.6L634.24 419.2M635.58 414.26V418.94M635.15 415.82H636.03M636.49 414V419.2M638.01 414.52V418.94M636.23 414.78H638.01M636.23 416.6H638.01M639.34 414.26V418.94M638.91 415.82H639.9M640.36 414V419.2M641.78 414.52V418.94M640.1 414.78H641.78M640.1 416.6H641.78M640.1 418.42H641.78M643 414.42H645.12M643.12 415.87H645.39M643.04 417.33H645.33M642.95 418.78H645.24M644.21 414V419.2M642.97 415.56V418.68M645.26 415.56V418.68M646.46 414.42H648.89M646.86 416.6H648.95M646.97 418.78H648.99M648.06 414V419.2M646.74 415.56V418.68M649.03 415.56V418.68M650.65 414.26V418.94M650.22 415.82H651.32M651.78 414V419.2M653.08 414.52V418.94M651.52 414.78H653.08M651.52 416.6H653.08M654.41 414.26V418.94M653.98 415.82H655.11M655.57 414V419.2M656.85 414.52V418.94M655.31 414.78H656.85M655.31 416.6H656.85" stroke="#222" stroke-width="0.53" fill="none" opacity="0.78"/>
<text x="526.3" y="429" font-size="6.2" text-anchor="middle" fill="#444" font-weight="normal" textLength="4.2" lengthAdjust="spacingAndGlyphs" opacity="0.999">8.</text>
<path d="M529.85 424.22H532.41M529.91 426.4H532.27M530.06 428.58H532.18M531.31 423.8V429M531.05 426.4L529.64 429M531.05 426.4L532.46 429M533.77 424.06V428.74M533.35 425.62H534.52M534.99 423.8V429M536.17 424.32V428.74M534.72 424.58H536.17M534.72 426.4H536.17M537.14 424.22H539.75M537.13 425.67H539.47M537.24 427.13H539.86M537.09 428.58H539.66M538.71 423.8V429M537.34 425.36V428.48M539.59 425.36V428.48M541.18 424.06V428.74M540.76 425.62H541.67M542.13 423.8V429M543.58 424.32V428.74M541.87 424.58H543.58M541.87 426.4H543.58M541.87 428.22H543.58M544.99 424.22H546.75M544.8 426.4H546.74M544.61 428.58H547.16M546.05 423.8V429M545.88 426.4L544.47 429M545.88 426.4L547.28 429M548.59 424.06V428.74M548.17 425.62H549.3M549.77 423.8V429M550.99 424.32V428.74M549.5 424.58H550.99M549.5 426.4H550.99M549.5 428.22H550.99M551.88 424.22H554.4M552.19 426.4H554.26M552.44 428.58H554.61M553.52 423.8V429M553.29 426.4L551.88 429M553.29 426.4L554.69 429M556.01 424.06V428.74M555.58 425.62H556.44M556.9 423.8V429M558.4 424.32V428.74M556.64 424.58H558.4M556.64 426.4H558.4M556.64 428.22H558.4M559.71 424.22H562.1M559.83 426.4H561.96M559.71 428.58H561.56M560.83 423.8V429M560.7 426.4L559.29 429M560.7 426.4L562.11 429M563.26 424.22H565.38M563.28 426.4H565.5M563.25 428.58H565.72M564.4 423.8V429M563.28 425.36V428.48M565.53 425.36V428.48M567.12 424.06V428.74M566.7 425.62H567.53M568 423.8V429M569.52 424.32V428.74M567.73 424.58H569.52M567.73 426.4H569.52M567.73 428.22H569.52M570.86 424.22H573.08M570.42 426.4H572.92M570.52 428.58H573M572.06 423.8V429M571.81 426.4L570.41 429M571.81 426.4L573.22 429M574.43 424.22H576.51M574.49 426.4H576.7M574.39 428.58H576.64M575.36 423.8V429M574.39 425.36V428.48M576.65 425.36V428.48M578.21 424.22H580.25M578.1 426.4H580.31M578.19 428.58H580.63M579.19 423.8V429M579.23 426.4L577.82 429M579.23 426.4L580.63 429M581.94 424.06V428.74M581.52 425.62H582.51M582.97 423.8V429M584.34 424.32V428.74M582.71 424.58H584.34M582.71 426.4H584.34M585.65 424.06V428.74M585.23 425.62H586.21M586.67 423.8V429M588.04 424.32V428.74M586.41 424.58H588.04M586.41 426.4H588.04M589.36 424.06V428.74M588.93 425.62H590.06M590.52 423.8V429M591.75 424.32V428.74M590.26 424.58H591.75M590.26 426.4H591.75M590.26 428.22H591.75M592.93 424.22H595.21M592.94 426.4H595.08M593.19 428.58H595.26M593.77 423.8V429M592.92 425.36V428.48M595.17 425.36V428.48" stroke="#222" stroke-width="0.53" fill="none" opacity="0.78"/>
<text x="526.3" y="438.9" font-size="6.2" text-anchor="middle" fill="#444" font-weight="normal" textLength="4.2" lengthAdjust="spacingAndGlyphs" opacity="0.999">9.</text>
<path d="M529.72 434.12H532.07M529.8 436.3H531.99M530.05 438.48H532.44M531.22 433.7V438.9M529.95 435.26V438.38M532.26 435.26V438.38M533.9 433.96V438.64M533.46 435.52H534.31M534.77 433.7V438.9M536.35 434.22V438.64M534.51 434.48H536.35M534.51 436.3H536.35M537.41 434.12H539.66M537.4 435.57H539.66M537.73 437.03H539.91M537.37 438.48H540.11M538.95 433.7V438.9M537.56 435.26V438.38M539.87 435.26V438.38M541.33 434.12H543.89M541.59 436.3H543.89M541.51 438.48H543.51M542.41 433.7V438.9M541.36 435.26V438.38M543.68 435.26V438.38M545.19 434.12H547.48M545.23 435.57H547.6M545.46 437.03H547.39M545.37 438.48H547.21M546.55 433.7V438.9M546.33 436.3L544.88 438.9M546.33 436.3L547.77 438.9M549.12 433.96V438.64M548.68 435.52H549.79M550.26 433.7V438.9M551.58 434.22V438.64M549.99 434.48H551.58M549.99 436.3H551.58M552.92 433.96V438.64M552.49 435.52H553.46M553.93 433.7V438.9M555.38 434.22V438.64M553.66 434.48H555.38M553.66 436.3H555.38M553.66 438.12H555.38M556.36 434.12H558.68M556.63 436.3H558.63M556.48 438.48H559.11M557.92 433.7V438.9M557.74 436.3L556.3 438.9M557.74 436.3L559.19 438.9M560.53 433.96V438.64M560.1 435.52H561.04M561.5 433.7V438.9M562.99 434.22V438.64M561.24 434.48H562.99M561.24 436.3H562.99M564.4 434.12H566.27M563.98 435.57H566.59M564.43 437.03H566.3M564.47 438.48H566.22M565.24 433.7V438.9M564.2 435.26V438.38M566.51 435.26V438.38M568.15 433.96V438.64M567.71 435.52H568.74M569.21 433.7V438.9M570.6 434.22V438.64M568.94 434.48H570.6M568.94 436.3H570.6M571.84 434.12H573.97M571.99 436.3H574.12M572.05 438.48H574.33M573.08 433.7V438.9M572.96 436.3L571.52 438.9M572.96 436.3L574.41 438.9M575.35 434.12H577.75M575.81 435.57H577.84M575.5 437.03H577.74M575.37 438.48H578.19M577.03 433.7V438.9M575.61 435.26V438.38M577.93 435.26V438.38M579.16 434.12H581.97M579.5 435.57H581.94M579.51 437.03H581.63M579.26 438.48H581.75M580.41 433.7V438.9M580.58 436.3L579.13 438.9M580.58 436.3L582.02 438.9M583.41 434.12H585.73M583.13 435.57H585.47M583.5 437.03H585.71M583.28 438.48H585.4M584.41 433.7V438.9M583.22 435.26V438.38M585.54 435.26V438.38M587.17 433.96V438.64M586.74 435.52H587.9M588.37 433.7V438.9M589.63 434.22V438.64M588.1 434.48H589.63M588.1 436.3H589.63M588.1 438.12H589.63M590.98 433.96V438.64M590.55 435.52H591.58M592.05 433.7V438.9M593.44 434.22V438.64M591.78 434.48H593.44M591.78 436.3H593.44M594.78 433.96V438.64M594.35 435.52H595.38M595.85 433.7V438.9M597.24 434.22V438.64M595.58 434.48H597.24M595.58 436.3H597.24M598.59 433.96V438.64M598.16 435.52H599.19M599.66 433.7V438.9M601.05 434.22V438.64M599.39 434.48H601.05M599.39 436.3H601.05M599.39 438.12H601.05M601.97 434.12H604.83M602.21 435.57H604.42M602.2 437.03H604.69M602.09 438.48H604.3M603.39 433.7V438.9M602.25 435.26V438.38M604.57 435.26V438.38M606.2 433.96V438.64M605.77 435.52H606.81M607.28 433.7V438.9M608.66 434.22V438.64M607.01 434.48H608.66M607.01 436.3H608.66M607.01 438.12H608.66M610.01 433.96V438.64M609.57 435.52H610.66M611.12 433.7V438.9M612.47 434.22V438.64M610.86 434.48H612.47M610.86 436.3H612.47M610.86 438.12H612.47M613.81 433.96V438.64M613.38 435.52H614.24M614.7 433.7V438.9M616.27 434.22V438.64M614.44 434.48H616.27M614.44 436.3H616.27M614.44 438.12H616.27M617.65 434.12H619.84M617.39 436.3H619.81M617.61 438.48H619.56M618.87 433.7V438.9M618.63 436.3L617.18 438.9M618.63 436.3L620.08 438.9M621.42 433.96V438.64M620.99 435.52H621.96M622.43 433.7V438.9M623.88 434.22V438.64M622.16 434.48H623.88M622.16 436.3H623.88M625.23 433.96V438.64M624.8 435.52H625.75M626.21 433.7V438.9M627.69 434.22V438.64M625.95 434.48H627.69M625.95 436.3H627.69M628.68 434.12H631.12M628.84 436.3H631.35M629 438.48H631.3M629.77 433.7V438.9M630.05 436.3L628.6 438.9M630.05 436.3L631.49 438.9M632.93 434.12H635.15M632.64 436.3H635.3M632.92 438.48H635.29M633.7 433.7V438.9M632.7 435.26V438.38M635.01 435.26V438.38M636.78 434.12H639.02M636.55 435.57H639.06M636.77 437.03H638.67M636.68 438.48H638.67M637.47 433.7V438.9M636.5 435.26V438.38M638.82 435.26V438.38M640.45 433.96V438.64M640.02 435.52H641.07M641.53 433.7V438.9M642.91 434.22V438.64M641.27 434.48H642.91M641.27 436.3H642.91M644.26 433.96V438.64M643.82 435.52H645.01M645.47 433.7V438.9M646.72 434.22V438.64M645.21 434.48H646.72M645.21 436.3H646.72M647.79 434.12H649.96M647.72 436.3H650.44M647.85 438.48H650.06M648.84 433.7V438.9M649.08 436.3L647.63 438.9M649.08 436.3L650.52 438.9M651.87 433.96V438.64M651.43 435.52H652.59M653.06 433.7V438.9M654.33 434.22V438.64M652.79 434.48H654.33M652.79 436.3H654.33M652.79 438.12H654.33M655.3 434.12H657.71M655.53 436.3H657.69M655.35 438.48H657.97M656.52 433.7V438.9M656.69 436.3L655.24 438.9M656.69 436.3L658.13 438.9M659.12 434.12H661.49M659.39 436.3H661.52M659.14 438.48H661.63M660.74 433.7V438.9M659.33 435.26V438.38M661.65 435.26V438.38M663.28 433.96V438.64M662.85 435.52H663.87M664.33 433.7V438.9M665.74 434.22V438.64M664.07 434.48H665.74M664.07 436.3H665.74M664.07 438.12H665.74" stroke="#222" stroke-width="0.53" fill="none" opacity="0.78"/>
<path d="M529.27 444.02H531.71M529.52 446.2H531.66M529.25 448.38H531.94M530.97 443.6V448.8M530.68 446.2L529.18 448.8M530.68 446.2L532.19 448.8M533.59 443.86V448.54M533.14 445.42H534.44M534.91 443.6V448.8M536.15 444.12V448.54M534.64 444.38H536.15M534.64 446.2H536.15M537.55 443.86V448.54M537.1 445.42H538.18M538.64 443.6V448.8M540.11 444.12V448.54M538.38 444.38H540.11M538.38 446.2H540.11M541.51 443.86V448.54M541.06 445.42H542.1M542.56 443.6V448.8M544.07 444.12V448.54M542.3 444.38H544.07M542.3 446.2H544.07M545.16 444.02H547.63M545.16 445.47H547.73M545.08 446.93H547.91M545.08 448.38H547.49M546.5 443.6V448.8M546.53 446.2L545.03 448.8M546.53 446.2L548.04 448.8M549.38 444.02H551.79M549.06 446.2H551.66M549.23 448.38H551.46M550.59 443.6V448.8M550.49 446.2L548.99 448.8M550.49 446.2L552 448.8M553.03 444.02H555.36M553.3 445.47H555.6M553.06 446.93H555.91M553.38 448.38H555.52M554.56 443.6V448.8M553.25 445.16V448.28M555.66 445.16V448.28M557.36 443.86V448.54M556.91 445.42H558.11M558.58 443.6V448.8M559.92 444.12V448.54M558.31 444.38H559.92M558.31 446.2H559.92M558.31 448.02H559.92" stroke="#222" stroke-width="0.53" fill="none" opacity="0.78"/>
</svg></body></html>
